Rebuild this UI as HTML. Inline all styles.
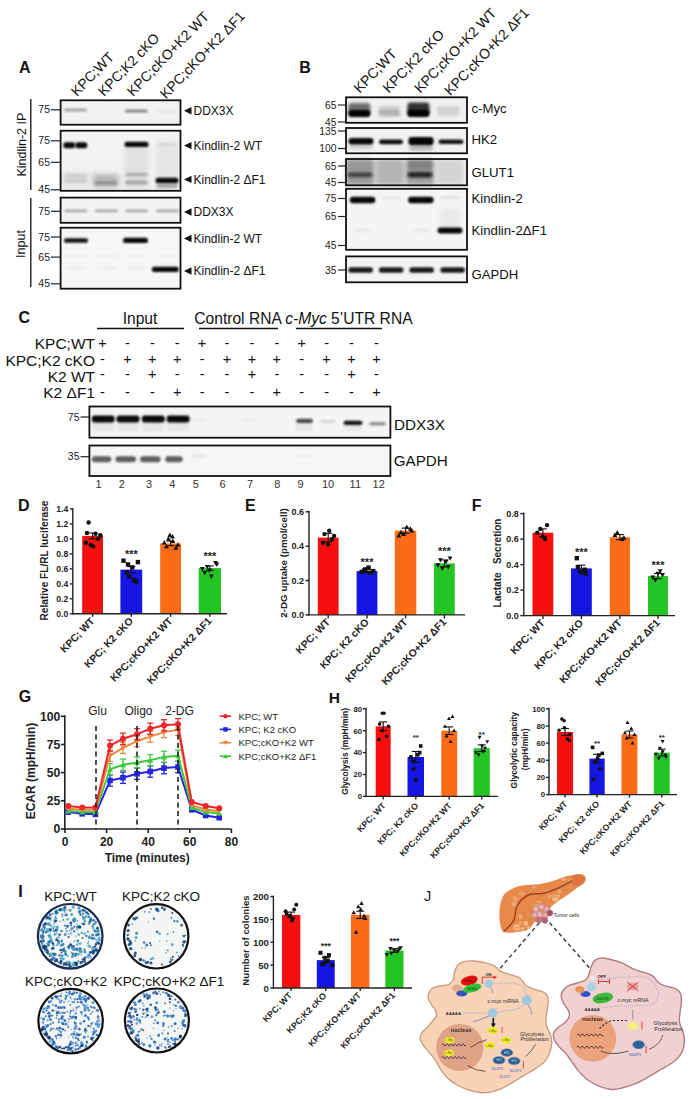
<!DOCTYPE html>
<html><head><meta charset="utf-8"><title>Figure</title>
<style>html,body{margin:0;padding:0;background:#fff;} body{width:692px;height:1099px;overflow:hidden;font-family:"Liberation Sans", sans-serif;} svg{display:block;}</style>
</head><body>
<svg width="692" height="1099" viewBox="0 0 692 1099" font-family='"Liberation Sans", sans-serif'>
<defs><filter id="b5" x="-50%" y="-100%" width="200%" height="300%"><feGaussianBlur stdDeviation="0.5"/></filter><filter id="b6" x="-50%" y="-100%" width="200%" height="300%"><feGaussianBlur stdDeviation="0.6"/></filter><filter id="b7" x="-50%" y="-100%" width="200%" height="300%"><feGaussianBlur stdDeviation="0.7"/></filter><filter id="b8" x="-50%" y="-100%" width="200%" height="300%"><feGaussianBlur stdDeviation="0.8"/></filter><filter id="b9" x="-50%" y="-100%" width="200%" height="300%"><feGaussianBlur stdDeviation="0.9"/></filter><filter id="b10" x="-50%" y="-100%" width="200%" height="300%"><feGaussianBlur stdDeviation="1.0"/></filter><filter id="b11" x="-50%" y="-100%" width="200%" height="300%"><feGaussianBlur stdDeviation="1.1"/></filter><filter id="b12" x="-50%" y="-100%" width="200%" height="300%"><feGaussianBlur stdDeviation="1.2"/></filter><filter id="b13" x="-50%" y="-100%" width="200%" height="300%"><feGaussianBlur stdDeviation="1.3"/></filter><filter id="b14" x="-50%" y="-100%" width="200%" height="300%"><feGaussianBlur stdDeviation="1.4"/></filter><filter id="b15" x="-50%" y="-100%" width="200%" height="300%"><feGaussianBlur stdDeviation="1.5"/></filter><filter id="b16" x="-50%" y="-100%" width="200%" height="300%"><feGaussianBlur stdDeviation="1.6"/></filter><filter id="b17" x="-50%" y="-100%" width="200%" height="300%"><feGaussianBlur stdDeviation="1.7"/></filter><filter id="b18" x="-50%" y="-100%" width="200%" height="300%"><feGaussianBlur stdDeviation="1.8"/></filter><filter id="b19" x="-50%" y="-100%" width="200%" height="300%"><feGaussianBlur stdDeviation="1.9"/></filter><filter id="b20" x="-50%" y="-100%" width="200%" height="300%"><feGaussianBlur stdDeviation="2.0"/></filter><filter id="b21" x="-50%" y="-100%" width="200%" height="300%"><feGaussianBlur stdDeviation="2.1"/></filter><filter id="b22" x="-50%" y="-100%" width="200%" height="300%"><feGaussianBlur stdDeviation="2.2"/></filter><filter id="b23" x="-50%" y="-100%" width="200%" height="300%"><feGaussianBlur stdDeviation="2.3"/></filter><filter id="b24" x="-50%" y="-100%" width="200%" height="300%"><feGaussianBlur stdDeviation="2.4"/></filter><filter id="b25" x="-50%" y="-100%" width="200%" height="300%"><feGaussianBlur stdDeviation="2.5"/></filter><filter id="b26" x="-50%" y="-100%" width="200%" height="300%"><feGaussianBlur stdDeviation="2.6"/></filter><filter id="b27" x="-50%" y="-100%" width="200%" height="300%"><feGaussianBlur stdDeviation="2.7"/></filter><filter id="b28" x="-50%" y="-100%" width="200%" height="300%"><feGaussianBlur stdDeviation="2.8"/></filter><filter id="b29" x="-50%" y="-100%" width="200%" height="300%"><feGaussianBlur stdDeviation="2.9"/></filter><filter id="b30" x="-50%" y="-100%" width="200%" height="300%"><feGaussianBlur stdDeviation="3.0"/></filter><filter id="b31" x="-50%" y="-100%" width="200%" height="300%"><feGaussianBlur stdDeviation="3.1"/></filter><filter id="b32" x="-50%" y="-100%" width="200%" height="300%"><feGaussianBlur stdDeviation="3.2"/></filter><filter id="b33" x="-50%" y="-100%" width="200%" height="300%"><feGaussianBlur stdDeviation="3.3"/></filter><filter id="b34" x="-50%" y="-100%" width="200%" height="300%"><feGaussianBlur stdDeviation="3.4"/></filter><filter id="b35" x="-50%" y="-100%" width="200%" height="300%"><feGaussianBlur stdDeviation="3.5"/></filter><filter id="b36" x="-50%" y="-100%" width="200%" height="300%"><feGaussianBlur stdDeviation="3.6"/></filter><filter id="b37" x="-50%" y="-100%" width="200%" height="300%"><feGaussianBlur stdDeviation="3.7"/></filter><filter id="b38" x="-50%" y="-100%" width="200%" height="300%"><feGaussianBlur stdDeviation="3.8"/></filter><filter id="b39" x="-50%" y="-100%" width="200%" height="300%"><feGaussianBlur stdDeviation="3.9"/></filter></defs>
<rect width="692" height="1099" fill="#fff"/>
<text x="19.0" y="72.9" font-size="16" font-weight="bold" text-anchor="start" fill="#111">A</text>
<text x="77.0" y="97.0" font-size="14" text-anchor="start" fill="#111" transform="rotate(-46 77 97)">KPC;WT</text>
<text x="104.0" y="97.0" font-size="14" text-anchor="start" fill="#111" transform="rotate(-46 104 97)">KPC;K2 cKO</text>
<text x="133.0" y="97.0" font-size="14" text-anchor="start" fill="#111" transform="rotate(-46 133 97)">KPC;cKO+K2 WT</text>
<text x="166.0" y="99.5" font-size="14" text-anchor="start" fill="#111" transform="rotate(-46 166 99.5)">KPC;cKO+K2 &#916;F1</text>
<rect x="60.6" y="100.3" width="119.9" height="24.4" fill="#f2f2f2" stroke="none" stroke-width="1"/>
<rect x="64.0" y="108.5" width="23.0" height="3.0" rx="1.5" fill="#000" fill-opacity="0.33" filter="url(#b9)"/>
<rect x="124.8" y="109.4" width="23.0" height="3.2" rx="1.5" fill="#000" fill-opacity="0.45" filter="url(#b9)"/>
<rect x="157.0" y="110.2" width="20.0" height="2.5" rx="3" fill="#000" fill-opacity="0.06" filter="url(#b9)"/>
<rect x="60.6" y="100.3" width="119.9" height="24.4" fill="none" stroke="#111" stroke-width="1.8"/>
<rect x="60.6" y="130.7" width="119.9" height="60.1" fill="#f3f3f3" stroke="none" stroke-width="1"/>
<rect x="124.5" y="146.0" width="24.0" height="44.0" rx="2" fill="#000" fill-opacity="0.08" filter="url(#b25)"/>
<rect x="156.0" y="140.0" width="22.0" height="40.0" rx="2" fill="#000" fill-opacity="0.06" filter="url(#b25)"/>
<rect x="93.5" y="174.5" width="25.0" height="13.0" rx="2" fill="#000" fill-opacity="0.2" filter="url(#b20)"/>
<rect x="61.0" y="172.0" width="60.0" height="16.0" rx="3" fill="#000" fill-opacity="0.06" filter="url(#b30)"/>
<rect x="63.3" y="142.3" width="12.0" height="6.0" rx="2.8" fill="#000" fill-opacity="0.97" filter="url(#b11)"/>
<rect x="75.3" y="142.3" width="12.0" height="6.0" rx="2.8" fill="#000" fill-opacity="0.97" filter="url(#b11)"/>
<rect x="124.5" y="141.7" width="24.0" height="5.3" rx="2.5" fill="#000" fill-opacity="0.97" filter="url(#b11)"/>
<rect x="157.0" y="143.0" width="20.0" height="3.0" rx="3" fill="#000" fill-opacity="0.06" filter="url(#b10)"/>
<rect x="64.0" y="174.1" width="23.0" height="3.5" rx="3" fill="#000" fill-opacity="0.14" filter="url(#b14)"/>
<rect x="64.0" y="179.2" width="23.0" height="3.5" rx="3" fill="#000" fill-opacity="0.14" filter="url(#b14)"/>
<rect x="94.5" y="181.0" width="23.0" height="4.0" rx="3" fill="#000" fill-opacity="0.2" filter="url(#b12)"/>
<rect x="125.0" y="172.8" width="23.0" height="3.5" rx="3" fill="#000" fill-opacity="0.22" filter="url(#b12)"/>
<rect x="125.0" y="180.5" width="23.0" height="4.0" rx="3" fill="#000" fill-opacity="0.25" filter="url(#b12)"/>
<rect x="155.5" y="177.7" width="23.0" height="5.6" rx="2.5" fill="#000" fill-opacity="0.97" filter="url(#b12)"/>
<rect x="156.0" y="184.0" width="22.0" height="4.0" rx="3" fill="#000" fill-opacity="0.35" filter="url(#b15)"/>
<rect x="60.6" y="130.7" width="119.9" height="60.1" fill="none" stroke="#111" stroke-width="1.8"/>
<rect x="60.6" y="197.6" width="119.9" height="25.2" fill="#f3f3f3" stroke="none" stroke-width="1"/>
<rect x="64.2" y="209.4" width="23.0" height="2.8" rx="1.4" fill="#000" fill-opacity="0.3" filter="url(#b8)"/>
<rect x="95.0" y="209.4" width="23.0" height="2.8" rx="1.4" fill="#000" fill-opacity="0.3" filter="url(#b8)"/>
<rect x="125.0" y="209.4" width="23.0" height="2.8" rx="1.4" fill="#000" fill-opacity="0.3" filter="url(#b8)"/>
<rect x="156.0" y="209.4" width="23.0" height="2.8" rx="1.4" fill="#000" fill-opacity="0.3" filter="url(#b8)"/>
<rect x="60.6" y="197.6" width="119.9" height="25.2" fill="none" stroke="#111" stroke-width="1.8"/>
<rect x="60.6" y="227.7" width="119.9" height="61.0" fill="#f6f6f6" stroke="none" stroke-width="1"/>
<rect x="64.0" y="238.2" width="24.0" height="4.6" rx="2" fill="#000" fill-opacity="0.93" filter="url(#b11)"/>
<rect x="123.0" y="237.7" width="25.0" height="5.3" rx="2.5" fill="#000" fill-opacity="0.97" filter="url(#b11)"/>
<rect x="64.7" y="255.0" width="22.0" height="2.0" rx="3" fill="#000" fill-opacity="0.06" filter="url(#b10)"/>
<rect x="95.5" y="255.0" width="22.0" height="2.0" rx="3" fill="#000" fill-opacity="0.06" filter="url(#b10)"/>
<rect x="125.5" y="255.0" width="22.0" height="2.0" rx="3" fill="#000" fill-opacity="0.06" filter="url(#b10)"/>
<rect x="156.5" y="255.0" width="22.0" height="2.0" rx="3" fill="#000" fill-opacity="0.06" filter="url(#b10)"/>
<rect x="64.7" y="267.0" width="22.0" height="2.0" rx="3" fill="#000" fill-opacity="0.05" filter="url(#b10)"/>
<rect x="95.5" y="267.0" width="22.0" height="2.0" rx="3" fill="#000" fill-opacity="0.05" filter="url(#b10)"/>
<rect x="125.5" y="267.0" width="22.0" height="2.0" rx="3" fill="#000" fill-opacity="0.05" filter="url(#b10)"/>
<rect x="151.8" y="266.8" width="27.0" height="5.3" rx="2.5" fill="#000" fill-opacity="0.97" filter="url(#b11)"/>
<rect x="60.6" y="227.7" width="119.9" height="61.0" fill="none" stroke="#111" stroke-width="1.8"/>
<text x="50.0" y="113.4" font-size="10.5" text-anchor="end" fill="#222">75</text>
<line x1="50.8" y1="109.8" x2="60.0" y2="109.8" stroke="#222" stroke-width="1.2"/>
<text x="50.0" y="144.4" font-size="10.5" text-anchor="end" fill="#222">75</text>
<line x1="50.8" y1="140.8" x2="60.0" y2="140.8" stroke="#222" stroke-width="1.2"/>
<text x="50.0" y="165.9" font-size="10.5" text-anchor="end" fill="#222">65</text>
<line x1="50.8" y1="162.3" x2="60.0" y2="162.3" stroke="#222" stroke-width="1.2"/>
<text x="50.0" y="193.4" font-size="10.5" text-anchor="end" fill="#222">45</text>
<line x1="50.8" y1="189.8" x2="60.0" y2="189.8" stroke="#222" stroke-width="1.2"/>
<text x="50.0" y="214.9" font-size="10.5" text-anchor="end" fill="#222">75</text>
<line x1="50.8" y1="211.3" x2="60.0" y2="211.3" stroke="#222" stroke-width="1.2"/>
<text x="50.0" y="240.6" font-size="10.5" text-anchor="end" fill="#222">75</text>
<line x1="50.8" y1="237.0" x2="60.0" y2="237.0" stroke="#222" stroke-width="1.2"/>
<text x="50.0" y="260.7" font-size="10.5" text-anchor="end" fill="#222">65</text>
<line x1="50.8" y1="257.1" x2="60.0" y2="257.1" stroke="#222" stroke-width="1.2"/>
<text x="50.0" y="287.4" font-size="10.5" text-anchor="end" fill="#222">45</text>
<line x1="50.8" y1="283.8" x2="60.0" y2="283.8" stroke="#222" stroke-width="1.2"/>
<line x1="30.8" y1="99.0" x2="30.8" y2="190.0" stroke="#111" stroke-width="1.3"/>
<line x1="30.8" y1="198.0" x2="30.8" y2="287.0" stroke="#111" stroke-width="1.3"/>
<text x="26.5" y="144.6" font-size="12.5" text-anchor="middle" fill="#111" transform="rotate(-90 26.5 144.6)">Kindlin-2 IP</text>
<text x="24.8" y="244.0" font-size="12.5" text-anchor="middle" fill="#111" transform="rotate(-90 24.8 244)">Input</text>
<polygon points="184.0,110.8 191.5,107.1 191.5,114.5" fill="#111"/>
<text x="193.5" y="115.0" font-size="12" text-anchor="start" fill="#111">DDX3X</text>
<polygon points="184.0,145.6 191.5,141.9 191.5,149.3" fill="#111"/>
<text x="193.5" y="149.8" font-size="12" text-anchor="start" fill="#111">Kindlin-2 WT</text>
<polygon points="184.0,179.4 191.5,175.7 191.5,183.1" fill="#111"/>
<text x="193.5" y="183.6" font-size="12" text-anchor="start" fill="#111">Kindlin-2 &#916;F1</text>
<polygon points="184.0,212.0 191.5,208.3 191.5,215.7" fill="#111"/>
<text x="193.5" y="216.2" font-size="12" text-anchor="start" fill="#111">DDX3X</text>
<polygon points="184.0,238.5 191.5,234.8 191.5,242.2" fill="#111"/>
<text x="193.5" y="242.7" font-size="12" text-anchor="start" fill="#111">Kindlin-2 WT</text>
<polygon points="184.0,271.0 191.5,267.3 191.5,274.7" fill="#111"/>
<text x="193.5" y="275.2" font-size="12" text-anchor="start" fill="#111">Kindlin-2 &#916;F1</text>
<text x="299.2" y="72.6" font-size="16" font-weight="bold" text-anchor="start" fill="#111">B</text>
<text x="359.8" y="93.7" font-size="14" text-anchor="start" fill="#111" transform="rotate(-46 359.8 93.7)">KPC;WT</text>
<text x="388.8" y="93.7" font-size="14" text-anchor="start" fill="#111" transform="rotate(-46 388.8 93.7)">KPC;K2 cKO</text>
<text x="420.3" y="93.7" font-size="14" text-anchor="start" fill="#111" transform="rotate(-46 420.3 93.7)">KPC;cKO+K2 WT</text>
<text x="450.3" y="96.2" font-size="14" text-anchor="start" fill="#111" transform="rotate(-46 450.3 96.2)">KPC;cKO+K2 &#916;F1</text>
<rect x="346.0" y="97.3" width="121.0" height="25.5" fill="#f0f0f0" stroke="none" stroke-width="1"/>
<rect x="348.3" y="103.0" width="22.0" height="12.0" rx="3" fill="#000" fill-opacity="0.55" filter="url(#b18)"/>
<rect x="348.3" y="110.1" width="22.0" height="7.0" rx="3" fill="#000" fill-opacity="0.97" filter="url(#b13)"/>
<rect x="378.3" y="106.0" width="22.0" height="6.0" rx="3" fill="#000" fill-opacity="0.14" filter="url(#b16)"/>
<rect x="378.3" y="110.5" width="22.0" height="6.0" rx="3" fill="#000" fill-opacity="0.25" filter="url(#b15)"/>
<rect x="407.4" y="102.5" width="22.0" height="12.0" rx="3" fill="#000" fill-opacity="0.8" filter="url(#b18)"/>
<rect x="407.4" y="110.1" width="22.0" height="7.0" rx="3" fill="#000" fill-opacity="0.97" filter="url(#b13)"/>
<rect x="437.4" y="106.0" width="22.0" height="10.0" rx="3" fill="#000" fill-opacity="0.13" filter="url(#b18)"/>
<rect x="346.0" y="97.3" width="121.0" height="25.5" fill="none" stroke="#111" stroke-width="1.8"/>
<rect x="346.0" y="128.0" width="121.0" height="25.3" fill="#f2f2f2" stroke="none" stroke-width="1"/>
<rect x="348.5" y="138.0" width="25.0" height="6.4" rx="3" fill="#000" fill-opacity="0.97" filter="url(#b11)"/>
<rect x="379.0" y="139.5" width="24.0" height="4.7" rx="3" fill="#000" fill-opacity="0.95" filter="url(#b11)"/>
<rect x="408.5" y="137.1" width="25.0" height="8.2" rx="3" fill="#000" fill-opacity="0.98" filter="url(#b11)"/>
<rect x="438.5" y="139.6" width="25.0" height="4.5" rx="3" fill="#000" fill-opacity="0.92" filter="url(#b11)"/>
<rect x="409.0" y="145.5" width="24.0" height="5.0" rx="3" fill="#000" fill-opacity="0.25" filter="url(#b15)"/>
<rect x="349.0" y="145.0" width="24.0" height="4.0" rx="3" fill="#000" fill-opacity="0.15" filter="url(#b15)"/>
<rect x="346.0" y="128.0" width="121.0" height="25.3" fill="none" stroke="#111" stroke-width="1.8"/>
<rect x="346.0" y="159.0" width="121.0" height="26.3" fill="#ececec" stroke="none" stroke-width="1"/>
<rect x="346.0" y="159.0" width="28.0" height="26.0" rx="3" fill="#000" fill-opacity="0.36" filter="url(#b20)"/>
<rect x="347.5" y="172.4" width="25.0" height="4.5" rx="3" fill="#000" fill-opacity="0.6" filter="url(#b14)"/>
<rect x="376.0" y="159.0" width="28.0" height="26.0" rx="3" fill="#000" fill-opacity="0.24" filter="url(#b20)"/>
<rect x="406.0" y="159.0" width="28.0" height="26.0" rx="3" fill="#000" fill-opacity="0.33" filter="url(#b20)"/>
<rect x="407.5" y="160.5" width="25.0" height="9.0" rx="3" fill="#000" fill-opacity="0.2" filter="url(#b20)"/>
<rect x="407.5" y="171.9" width="25.0" height="5.5" rx="3" fill="#000" fill-opacity="0.8" filter="url(#b14)"/>
<rect x="437.0" y="159.0" width="26.0" height="26.0" rx="3" fill="#000" fill-opacity="0.1" filter="url(#b20)"/>
<rect x="346.0" y="159.0" width="121.0" height="26.3" fill="none" stroke="#111" stroke-width="1.8"/>
<rect x="346.0" y="188.8" width="121.0" height="61.0" fill="#f5f5f5" stroke="none" stroke-width="1"/>
<rect x="349.8" y="196.8" width="25.5" height="6.4" rx="3" fill="#000" fill-opacity="0.97" filter="url(#b11)"/>
<rect x="408.1" y="196.8" width="25.5" height="6.4" rx="3" fill="#000" fill-opacity="0.97" filter="url(#b11)"/>
<rect x="381.0" y="197.2" width="20.0" height="2.0" rx="3" fill="#000" fill-opacity="0.09" filter="url(#b12)"/>
<rect x="440.0" y="196.8" width="20.0" height="2.0" rx="3" fill="#000" fill-opacity="0.13" filter="url(#b12)"/>
<rect x="353.0" y="229.4" width="18.0" height="2.2" rx="3" fill="#000" fill-opacity="0.09" filter="url(#b12)"/>
<rect x="412.0" y="229.4" width="18.0" height="2.2" rx="3" fill="#000" fill-opacity="0.09" filter="url(#b12)"/>
<rect x="440.0" y="209.0" width="20.0" height="18.0" rx="3" fill="#000" fill-opacity="0.05" filter="url(#b20)"/>
<rect x="437.5" y="227.4" width="25.0" height="6.2" rx="3" fill="#000" fill-opacity="0.97" filter="url(#b11)"/>
<rect x="346.0" y="188.8" width="121.0" height="61.0" fill="none" stroke="#111" stroke-width="1.8"/>
<rect x="346.0" y="256.4" width="121.0" height="25.9" fill="#f4f4f4" stroke="none" stroke-width="1"/>
<rect x="348.4" y="267.3" width="24.5" height="5.4" rx="2.5" fill="#000" fill-opacity="0.9" filter="url(#b12)"/>
<rect x="378.9" y="267.3" width="24.5" height="5.4" rx="2.5" fill="#000" fill-opacity="0.9" filter="url(#b12)"/>
<rect x="409.4" y="267.3" width="24.5" height="5.4" rx="2.5" fill="#000" fill-opacity="0.9" filter="url(#b12)"/>
<rect x="440.4" y="267.3" width="24.5" height="5.4" rx="2.5" fill="#000" fill-opacity="0.9" filter="url(#b12)"/>
<rect x="346.0" y="256.4" width="121.0" height="25.9" fill="none" stroke="#111" stroke-width="1.8"/>
<text x="336.5" y="108.6" font-size="10.3" text-anchor="end" fill="#222">65</text>
<line x1="338.0" y1="105.0" x2="346.0" y2="105.0" stroke="#222" stroke-width="1.2"/>
<text x="336.5" y="125.6" font-size="10.3" text-anchor="end" fill="#222">45</text>
<line x1="338.0" y1="122.0" x2="346.0" y2="122.0" stroke="#222" stroke-width="1.2"/>
<text x="336.5" y="134.6" font-size="10.3" text-anchor="end" fill="#222">135</text>
<line x1="338.0" y1="131.0" x2="346.0" y2="131.0" stroke="#222" stroke-width="1.2"/>
<text x="336.5" y="152.1" font-size="10.3" text-anchor="end" fill="#222">100</text>
<line x1="338.0" y1="148.5" x2="346.0" y2="148.5" stroke="#222" stroke-width="1.2"/>
<text x="336.5" y="169.6" font-size="10.3" text-anchor="end" fill="#222">65</text>
<line x1="338.0" y1="166.0" x2="346.0" y2="166.0" stroke="#222" stroke-width="1.2"/>
<text x="336.5" y="186.1" font-size="10.3" text-anchor="end" fill="#222">45</text>
<line x1="338.0" y1="182.5" x2="346.0" y2="182.5" stroke="#222" stroke-width="1.2"/>
<text x="336.5" y="202.1" font-size="10.3" text-anchor="end" fill="#222">75</text>
<line x1="338.0" y1="198.5" x2="346.0" y2="198.5" stroke="#222" stroke-width="1.2"/>
<text x="336.5" y="220.1" font-size="10.3" text-anchor="end" fill="#222">65</text>
<line x1="338.0" y1="216.5" x2="346.0" y2="216.5" stroke="#222" stroke-width="1.2"/>
<text x="336.5" y="249.1" font-size="10.3" text-anchor="end" fill="#222">45</text>
<line x1="338.0" y1="245.5" x2="346.0" y2="245.5" stroke="#222" stroke-width="1.2"/>
<text x="336.5" y="273.6" font-size="10.3" text-anchor="end" fill="#222">35</text>
<line x1="338.0" y1="270.0" x2="346.0" y2="270.0" stroke="#222" stroke-width="1.2"/>
<text x="471.5" y="112.7" font-size="13.2" text-anchor="start" fill="#111">c-Myc</text>
<text x="471.5" y="144.3" font-size="13.2" text-anchor="start" fill="#111">HK2</text>
<text x="471.5" y="176.9" font-size="13.2" text-anchor="start" fill="#111">GLUT1</text>
<text x="471.5" y="202.6" font-size="13.2" text-anchor="start" fill="#111">Kindlin-2</text>
<text x="471.5" y="235.0" font-size="13.2" text-anchor="start" fill="#111">Kindlin-2&#916;F1</text>
<text x="471.5" y="278.5" font-size="13.2" text-anchor="start" fill="#111">GAPDH</text>
<text x="18.5" y="323.3" font-size="16" font-weight="bold" text-anchor="start" fill="#111">C</text>
<text x="140.0" y="324.0" font-size="15.6" text-anchor="middle" fill="#111">Input</text>
<text x="194.3" y="324.0" font-size="15.6" text-anchor="start" fill="#111">Control RNA</text>
<text x="285.2" y="324" font-size="15.6" fill="#111"><tspan font-style="italic">c-Myc</tspan> 5&#8217;UTR RNA</text>
<line x1="97.0" y1="328.5" x2="184.0" y2="328.5" stroke="#111" stroke-width="1.3"/>
<line x1="199.0" y1="328.5" x2="278.0" y2="328.5" stroke="#111" stroke-width="1.3"/>
<line x1="296.0" y1="328.5" x2="382.0" y2="328.5" stroke="#111" stroke-width="1.3"/>
<text x="95.0" y="348.6" font-size="15.5" text-anchor="end" fill="#111">KPC;WT</text>
<text x="102.5" y="348.0" font-size="14.5" text-anchor="middle" fill="#111">+</text>
<text x="127.4" y="348.0" font-size="14.5" text-anchor="middle" fill="#111">-</text>
<text x="152.3" y="348.0" font-size="14.5" text-anchor="middle" fill="#111">-</text>
<text x="177.2" y="348.0" font-size="14.5" text-anchor="middle" fill="#111">-</text>
<text x="202.1" y="348.0" font-size="14.5" text-anchor="middle" fill="#111">+</text>
<text x="227.0" y="348.0" font-size="14.5" text-anchor="middle" fill="#111">-</text>
<text x="251.9" y="348.0" font-size="14.5" text-anchor="middle" fill="#111">-</text>
<text x="276.8" y="348.0" font-size="14.5" text-anchor="middle" fill="#111">-</text>
<text x="301.7" y="348.0" font-size="14.5" text-anchor="middle" fill="#111">+</text>
<text x="326.6" y="348.0" font-size="14.5" text-anchor="middle" fill="#111">-</text>
<text x="351.5" y="348.0" font-size="14.5" text-anchor="middle" fill="#111">-</text>
<text x="376.4" y="348.0" font-size="14.5" text-anchor="middle" fill="#111">-</text>
<text x="95.0" y="365.6" font-size="15.5" text-anchor="end" fill="#111">KPC;K2 cKO</text>
<text x="102.5" y="363.8" font-size="14.5" text-anchor="middle" fill="#111">-</text>
<text x="127.4" y="363.8" font-size="14.5" text-anchor="middle" fill="#111">+</text>
<text x="152.3" y="363.8" font-size="14.5" text-anchor="middle" fill="#111">+</text>
<text x="177.2" y="363.8" font-size="14.5" text-anchor="middle" fill="#111">+</text>
<text x="202.1" y="363.8" font-size="14.5" text-anchor="middle" fill="#111">-</text>
<text x="227.0" y="363.8" font-size="14.5" text-anchor="middle" fill="#111">+</text>
<text x="251.9" y="363.8" font-size="14.5" text-anchor="middle" fill="#111">+</text>
<text x="276.8" y="363.8" font-size="14.5" text-anchor="middle" fill="#111">+</text>
<text x="301.7" y="363.8" font-size="14.5" text-anchor="middle" fill="#111">-</text>
<text x="326.6" y="363.8" font-size="14.5" text-anchor="middle" fill="#111">+</text>
<text x="351.5" y="363.8" font-size="14.5" text-anchor="middle" fill="#111">+</text>
<text x="376.4" y="363.8" font-size="14.5" text-anchor="middle" fill="#111">+</text>
<text x="95.0" y="382.3" font-size="15.5" text-anchor="end" fill="#111">K2 WT</text>
<text x="102.5" y="378.8" font-size="14.5" text-anchor="middle" fill="#111">-</text>
<text x="127.4" y="378.8" font-size="14.5" text-anchor="middle" fill="#111">-</text>
<text x="152.3" y="378.8" font-size="14.5" text-anchor="middle" fill="#111">+</text>
<text x="177.2" y="378.8" font-size="14.5" text-anchor="middle" fill="#111">-</text>
<text x="202.1" y="378.8" font-size="14.5" text-anchor="middle" fill="#111">-</text>
<text x="227.0" y="378.8" font-size="14.5" text-anchor="middle" fill="#111">-</text>
<text x="251.9" y="378.8" font-size="14.5" text-anchor="middle" fill="#111">+</text>
<text x="276.8" y="378.8" font-size="14.5" text-anchor="middle" fill="#111">-</text>
<text x="301.7" y="378.8" font-size="14.5" text-anchor="middle" fill="#111">-</text>
<text x="326.6" y="378.8" font-size="14.5" text-anchor="middle" fill="#111">-</text>
<text x="351.5" y="378.8" font-size="14.5" text-anchor="middle" fill="#111">+</text>
<text x="376.4" y="378.8" font-size="14.5" text-anchor="middle" fill="#111">-</text>
<text x="95.0" y="398.3" font-size="15.5" text-anchor="end" fill="#111">K2 &#916;F1</text>
<text x="102.5" y="397.0" font-size="14.5" text-anchor="middle" fill="#111">-</text>
<text x="127.4" y="397.0" font-size="14.5" text-anchor="middle" fill="#111">-</text>
<text x="152.3" y="397.0" font-size="14.5" text-anchor="middle" fill="#111">-</text>
<text x="177.2" y="397.0" font-size="14.5" text-anchor="middle" fill="#111">+</text>
<text x="202.1" y="397.0" font-size="14.5" text-anchor="middle" fill="#111">-</text>
<text x="227.0" y="397.0" font-size="14.5" text-anchor="middle" fill="#111">-</text>
<text x="251.9" y="397.0" font-size="14.5" text-anchor="middle" fill="#111">-</text>
<text x="276.8" y="397.0" font-size="14.5" text-anchor="middle" fill="#111">+</text>
<text x="301.7" y="397.0" font-size="14.5" text-anchor="middle" fill="#111">-</text>
<text x="326.6" y="397.0" font-size="14.5" text-anchor="middle" fill="#111">-</text>
<text x="351.5" y="397.0" font-size="14.5" text-anchor="middle" fill="#111">-</text>
<text x="376.4" y="397.0" font-size="14.5" text-anchor="middle" fill="#111">+</text>
<rect x="89.4" y="406.5" width="301.0" height="31.2" fill="#f5f5f5" stroke="none" stroke-width="1"/>
<rect x="92.2" y="420.0" width="22.0" height="12.0" rx="3" fill="#000" fill-opacity="0.06" filter="url(#b15)"/>
<rect x="91.7" y="415.5" width="23.0" height="7.0" rx="3" fill="#000" fill-opacity="0.97" filter="url(#b12)"/>
<rect x="117.0" y="420.0" width="22.0" height="12.0" rx="3" fill="#000" fill-opacity="0.06" filter="url(#b15)"/>
<rect x="116.5" y="415.5" width="23.0" height="7.0" rx="3" fill="#000" fill-opacity="0.97" filter="url(#b12)"/>
<rect x="142.3" y="420.0" width="22.0" height="12.0" rx="3" fill="#000" fill-opacity="0.06" filter="url(#b15)"/>
<rect x="141.8" y="415.5" width="23.0" height="7.0" rx="3" fill="#000" fill-opacity="0.97" filter="url(#b12)"/>
<rect x="167.1" y="420.0" width="22.0" height="12.0" rx="3" fill="#000" fill-opacity="0.06" filter="url(#b15)"/>
<rect x="166.6" y="415.5" width="23.0" height="7.0" rx="3" fill="#000" fill-opacity="0.97" filter="url(#b12)"/>
<rect x="190.0" y="418.5" width="16.0" height="3.0" rx="3" fill="#000" fill-opacity="0.04" filter="url(#b12)"/>
<rect x="242.0" y="418.5" width="16.0" height="3.0" rx="3" fill="#000" fill-opacity="0.04" filter="url(#b12)"/>
<rect x="295.0" y="421.0" width="18.0" height="10.0" rx="3" fill="#000" fill-opacity="0.05" filter="url(#b15)"/>
<rect x="344.0" y="421.0" width="18.0" height="10.0" rx="3" fill="#000" fill-opacity="0.06" filter="url(#b15)"/>
<rect x="296.0" y="418.7" width="17.0" height="4.2" rx="3" fill="#000" fill-opacity="0.7" filter="url(#b10)"/>
<rect x="320.0" y="420.0" width="16.0" height="3.0" rx="3" fill="#000" fill-opacity="0.14" filter="url(#b10)"/>
<rect x="343.5" y="420.7" width="19.0" height="4.2" rx="3" fill="#000" fill-opacity="0.93" filter="url(#b10)"/>
<rect x="369.0" y="422.1" width="17.0" height="3.5" rx="3" fill="#000" fill-opacity="0.4" filter="url(#b10)"/>
<rect x="89.4" y="406.5" width="301.0" height="31.2" fill="none" stroke="#111" stroke-width="1.8"/>
<rect x="89.4" y="445.5" width="301.0" height="30.5" fill="#f6f6f6" stroke="none" stroke-width="1"/>
<rect x="91.8" y="456.3" width="19.5" height="6.0" rx="3" fill="#000" fill-opacity="0.62" filter="url(#b12)"/>
<rect x="115.5" y="456.3" width="20.5" height="6.0" rx="3" fill="#000" fill-opacity="0.62" filter="url(#b12)"/>
<rect x="140.1" y="456.3" width="20.5" height="6.0" rx="3" fill="#000" fill-opacity="0.62" filter="url(#b12)"/>
<rect x="165.2" y="456.3" width="17.5" height="6.0" rx="3" fill="#000" fill-opacity="0.62" filter="url(#b12)"/>
<rect x="190.5" y="454.8" width="16.0" height="2.5" rx="3" fill="#000" fill-opacity="0.1" filter="url(#b10)"/>
<rect x="297.0" y="454.5" width="14.0" height="3.0" rx="3" fill="#000" fill-opacity="0.04" filter="url(#b10)"/>
<rect x="89.4" y="445.5" width="301.0" height="30.5" fill="none" stroke="#111" stroke-width="1.8"/>
<text x="79.5" y="420.6" font-size="10.5" text-anchor="end" fill="#222">75</text>
<line x1="80.5" y1="417.0" x2="89.4" y2="417.0" stroke="#222" stroke-width="1.2"/>
<text x="79.5" y="460.3" font-size="10.5" text-anchor="end" fill="#222">35</text>
<line x1="80.5" y1="456.7" x2="89.4" y2="456.7" stroke="#222" stroke-width="1.2"/>
<text x="394.0" y="429.9" font-size="15.3" text-anchor="start" fill="#111">DDX3X</text>
<text x="393.8" y="465.7" font-size="15.2" text-anchor="start" fill="#111">GAPDH</text>
<text x="98.5" y="487.5" font-size="11" text-anchor="middle" fill="#333">1</text>
<text x="121.9" y="487.5" font-size="11" text-anchor="middle" fill="#333">2</text>
<text x="149.0" y="487.5" font-size="11" text-anchor="middle" fill="#333">3</text>
<text x="172.4" y="487.5" font-size="11" text-anchor="middle" fill="#333">4</text>
<text x="195.8" y="487.5" font-size="11" text-anchor="middle" fill="#333">5</text>
<text x="222.6" y="487.5" font-size="11" text-anchor="middle" fill="#333">6</text>
<text x="250.0" y="487.5" font-size="11" text-anchor="middle" fill="#333">7</text>
<text x="277.2" y="487.5" font-size="11" text-anchor="middle" fill="#333">8</text>
<text x="300.6" y="487.5" font-size="11" text-anchor="middle" fill="#333">9</text>
<text x="328.0" y="487.5" font-size="11" text-anchor="middle" fill="#333">10</text>
<text x="355.3" y="487.5" font-size="11" text-anchor="middle" fill="#333">11</text>
<text x="378.7" y="487.5" font-size="11" text-anchor="middle" fill="#333">12</text>
<text x="18.0" y="511.4" font-size="16" font-weight="bold" text-anchor="start" fill="#111">D</text>
<rect x="82.2" y="535.9" width="20.8" height="77.9" fill="#f50f0f" stroke="none" stroke-width="1"/>
<rect x="120.4" y="569.6" width="21.8" height="44.2" fill="#1616e4" stroke="none" stroke-width="1"/>
<rect x="160.2" y="543.4" width="20.8" height="70.4" fill="#fb6b18" stroke="none" stroke-width="1"/>
<rect x="198.7" y="568.1" width="22.3" height="45.7" fill="#25c425" stroke="none" stroke-width="1"/>
<circle cx="88.6" cy="522.5" r="2.2" fill="#111"/>
<circle cx="86.9" cy="533.0" r="2.2" fill="#111"/>
<circle cx="95.6" cy="533.7" r="2.2" fill="#111"/>
<circle cx="100.3" cy="535.2" r="2.2" fill="#111"/>
<circle cx="98.1" cy="538.9" r="2.2" fill="#111"/>
<circle cx="85.9" cy="542.7" r="2.2" fill="#111"/>
<circle cx="90.7" cy="544.9" r="2.2" fill="#111"/>
<circle cx="93.2" cy="546.4" r="2.2" fill="#111"/>
<line x1="92.6" y1="533.0" x2="92.6" y2="538.9" stroke="#111" stroke-width="1.1"/>
<line x1="88.6" y1="533.0" x2="96.6" y2="533.0" stroke="#111" stroke-width="1.1"/>
<line x1="88.6" y1="538.9" x2="96.6" y2="538.9" stroke="#111" stroke-width="1.1"/>
<rect x="121.3" y="558.5" width="4.4" height="4.4" fill="#111"/>
<rect x="135.7" y="559.9" width="4.4" height="4.4" fill="#111"/>
<rect x="125.8" y="562.2" width="4.4" height="4.4" fill="#111"/>
<rect x="130.1" y="565.2" width="4.4" height="4.4" fill="#111"/>
<rect x="124.6" y="570.4" width="4.4" height="4.4" fill="#111"/>
<rect x="127.1" y="574.2" width="4.4" height="4.4" fill="#111"/>
<rect x="132.1" y="577.9" width="4.4" height="4.4" fill="#111"/>
<rect x="133.9" y="579.4" width="4.4" height="4.4" fill="#111"/>
<line x1="131.3" y1="566.6" x2="131.3" y2="572.6" stroke="#111" stroke-width="1.1"/>
<line x1="127.3" y1="566.6" x2="135.3" y2="566.6" stroke="#111" stroke-width="1.1"/>
<line x1="127.3" y1="572.6" x2="135.3" y2="572.6" stroke="#111" stroke-width="1.1"/>
<text x="131.3" y="558.4" font-size="11" font-weight="bold" text-anchor="middle" fill="#222">***</text>
<polygon points="169.8,532.6 167.4,537.0 172.3,537.0" fill="#111"/>
<polygon points="172.5,534.1 170.1,538.5 175.0,538.5" fill="#111"/>
<polygon points="168.4,536.3 166.0,540.7 170.9,540.7" fill="#111"/>
<polygon points="172.7,538.5 170.3,542.9 175.1,542.9" fill="#111"/>
<polygon points="164.3,540.0 161.8,544.4 166.7,544.4" fill="#111"/>
<polygon points="177.9,542.3 175.4,546.7 180.3,546.7" fill="#111"/>
<polygon points="166.4,543.8 164.0,548.2 168.9,548.2" fill="#111"/>
<polygon points="176.0,545.3 173.6,549.7 178.4,549.7" fill="#111"/>
<line x1="170.6" y1="541.2" x2="170.6" y2="545.7" stroke="#111" stroke-width="1.1"/>
<line x1="166.6" y1="541.2" x2="174.6" y2="541.2" stroke="#111" stroke-width="1.1"/>
<line x1="166.6" y1="545.7" x2="174.6" y2="545.7" stroke="#111" stroke-width="1.1"/>
<polygon points="215.5,565.5 213.1,561.1 217.9,561.1" fill="#111"/>
<polygon points="216.8,567.0 214.4,562.6 219.2,562.6" fill="#111"/>
<polygon points="207.2,569.3 204.8,564.9 209.6,564.9" fill="#111"/>
<polygon points="202.4,571.5 200.0,567.1 204.8,567.1" fill="#111"/>
<polygon points="209.4,573.0 207.0,568.6 211.8,568.6" fill="#111"/>
<polygon points="204.7,575.3 202.3,570.9 207.2,570.9" fill="#111"/>
<polygon points="211.4,579.0 209.0,574.6 213.8,574.6" fill="#111"/>
<line x1="209.8" y1="565.9" x2="209.8" y2="570.4" stroke="#111" stroke-width="1.1"/>
<line x1="205.8" y1="565.9" x2="213.8" y2="565.9" stroke="#111" stroke-width="1.1"/>
<line x1="205.8" y1="570.4" x2="213.8" y2="570.4" stroke="#111" stroke-width="1.1"/>
<text x="209.8" y="559.9" font-size="11" font-weight="bold" text-anchor="middle" fill="#222">***</text>
<line x1="72.8" y1="508.0" x2="72.8" y2="614.5" stroke="#222" stroke-width="1.4"/>
<line x1="72.1" y1="613.8" x2="227.0" y2="613.8" stroke="#222" stroke-width="1.4"/>
<line x1="69.8" y1="613.8" x2="72.8" y2="613.8" stroke="#222" stroke-width="1.4"/>
<text x="68.3" y="616.9" font-size="8.6" font-weight="bold" text-anchor="end" fill="#222">0.0</text>
<line x1="69.8" y1="598.8" x2="72.8" y2="598.8" stroke="#222" stroke-width="1.4"/>
<text x="68.3" y="601.9" font-size="8.6" font-weight="bold" text-anchor="end" fill="#222">0.2</text>
<line x1="69.8" y1="583.9" x2="72.8" y2="583.9" stroke="#222" stroke-width="1.4"/>
<text x="68.3" y="587.0" font-size="8.6" font-weight="bold" text-anchor="end" fill="#222">0.4</text>
<line x1="69.8" y1="568.9" x2="72.8" y2="568.9" stroke="#222" stroke-width="1.4"/>
<text x="68.3" y="572.0" font-size="8.6" font-weight="bold" text-anchor="end" fill="#222">0.6</text>
<line x1="69.8" y1="553.9" x2="72.8" y2="553.9" stroke="#222" stroke-width="1.4"/>
<text x="68.3" y="557.0" font-size="8.6" font-weight="bold" text-anchor="end" fill="#222">0.8</text>
<line x1="69.8" y1="538.9" x2="72.8" y2="538.9" stroke="#222" stroke-width="1.4"/>
<text x="68.3" y="542.0" font-size="8.6" font-weight="bold" text-anchor="end" fill="#222">1.0</text>
<line x1="69.8" y1="524.0" x2="72.8" y2="524.0" stroke="#222" stroke-width="1.4"/>
<text x="68.3" y="527.1" font-size="8.6" font-weight="bold" text-anchor="end" fill="#222">1.2</text>
<line x1="69.8" y1="509.0" x2="72.8" y2="509.0" stroke="#222" stroke-width="1.4"/>
<text x="68.3" y="512.1" font-size="8.6" font-weight="bold" text-anchor="end" fill="#222">1.4</text>
<line x1="92.6" y1="613.8" x2="92.6" y2="616.8" stroke="#222" stroke-width="1.4"/>
<text x="95.1" y="621.6" font-size="10.3" font-weight="bold" text-anchor="end" fill="#222" transform="rotate(-46 95.1 621.5999999999999)">KPC; WT</text>
<line x1="131.3" y1="613.8" x2="131.3" y2="616.8" stroke="#222" stroke-width="1.4"/>
<text x="133.8" y="621.6" font-size="10.3" font-weight="bold" text-anchor="end" fill="#222" transform="rotate(-46 133.8 621.5999999999999)">KPC; K2 cKO</text>
<line x1="170.6" y1="613.8" x2="170.6" y2="616.8" stroke="#222" stroke-width="1.4"/>
<text x="173.1" y="621.6" font-size="10.3" font-weight="bold" text-anchor="end" fill="#222" transform="rotate(-46 173.1 621.5999999999999)">KPC;cKO+K2 WT</text>
<line x1="209.8" y1="613.8" x2="209.8" y2="616.8" stroke="#222" stroke-width="1.4"/>
<text x="212.3" y="621.6" font-size="10.3" font-weight="bold" text-anchor="end" fill="#222" transform="rotate(-46 212.35 621.5999999999999)">KPC;cKO+K2 &#916;F1</text>
<text x="48.3" y="560.5" font-size="10.1" font-weight="bold" text-anchor="middle" fill="#222" transform="rotate(-90 48.3 560.5)">Relative FL/RL luciferase</text>
<text x="245.0" y="511.4" font-size="16" font-weight="bold" text-anchor="start" fill="#111">E</text>
<rect x="317.8" y="537.6" width="20.8" height="77.3" fill="#f50f0f" stroke="none" stroke-width="1"/>
<rect x="356.6" y="571.1" width="20.8" height="43.8" fill="#1616e4" stroke="none" stroke-width="1"/>
<rect x="394.8" y="530.7" width="21.5" height="84.2" fill="#fb6b18" stroke="none" stroke-width="1"/>
<rect x="434.0" y="563.4" width="20.8" height="51.5" fill="#25c425" stroke="none" stroke-width="1"/>
<circle cx="329.2" cy="530.7" r="2.2" fill="#111"/>
<circle cx="324.5" cy="534.1" r="2.2" fill="#111"/>
<circle cx="334.1" cy="535.9" r="2.2" fill="#111"/>
<circle cx="331.9" cy="539.3" r="2.2" fill="#111"/>
<circle cx="322.9" cy="542.7" r="2.2" fill="#111"/>
<circle cx="328.0" cy="544.4" r="2.2" fill="#111"/>
<line x1="328.2" y1="533.3" x2="328.2" y2="541.9" stroke="#111" stroke-width="1.1"/>
<line x1="324.2" y1="533.3" x2="332.2" y2="533.3" stroke="#111" stroke-width="1.1"/>
<line x1="324.2" y1="541.9" x2="332.2" y2="541.9" stroke="#111" stroke-width="1.1"/>
<rect x="366.3" y="565.4" width="4.4" height="4.4" fill="#111"/>
<rect x="363.0" y="567.2" width="4.4" height="4.4" fill="#111"/>
<rect x="362.2" y="568.0" width="4.4" height="4.4" fill="#111"/>
<rect x="371.1" y="568.9" width="4.4" height="4.4" fill="#111"/>
<rect x="359.6" y="569.7" width="4.4" height="4.4" fill="#111"/>
<rect x="368.0" y="570.6" width="4.4" height="4.4" fill="#111"/>
<line x1="367.0" y1="569.4" x2="367.0" y2="572.8" stroke="#111" stroke-width="1.1"/>
<line x1="363.0" y1="569.4" x2="371.0" y2="569.4" stroke="#111" stroke-width="1.1"/>
<line x1="363.0" y1="572.8" x2="371.0" y2="572.8" stroke="#111" stroke-width="1.1"/>
<text x="367.0" y="566.4" font-size="11" font-weight="bold" text-anchor="middle" fill="#222">***</text>
<polygon points="406.7,524.6 404.3,529.0 409.1,529.0" fill="#111"/>
<polygon points="410.4,526.3 408.0,530.7 412.8,530.7" fill="#111"/>
<polygon points="411.8,528.1 409.4,532.5 414.2,532.5" fill="#111"/>
<polygon points="400.9,529.8 398.5,534.2 403.3,534.2" fill="#111"/>
<polygon points="403.7,531.5 401.2,535.9 406.1,535.9" fill="#111"/>
<polygon points="398.8,533.2 396.4,537.6 401.2,537.6" fill="#111"/>
<line x1="405.6" y1="528.1" x2="405.6" y2="533.3" stroke="#111" stroke-width="1.1"/>
<line x1="401.6" y1="528.1" x2="409.6" y2="528.1" stroke="#111" stroke-width="1.1"/>
<line x1="401.6" y1="533.3" x2="409.6" y2="533.3" stroke="#111" stroke-width="1.1"/>
<polygon points="450.1,560.8 447.7,556.4 452.5,556.4" fill="#111"/>
<polygon points="440.4,562.6 438.0,558.2 442.8,558.2" fill="#111"/>
<polygon points="446.0,564.3 443.6,559.9 448.4,559.9" fill="#111"/>
<polygon points="437.9,567.7 435.4,563.3 440.3,563.3" fill="#111"/>
<polygon points="448.3,569.4 445.9,565.0 450.7,565.0" fill="#111"/>
<polygon points="442.3,571.1 439.9,566.7 444.7,566.7" fill="#111"/>
<line x1="444.4" y1="559.9" x2="444.4" y2="566.8" stroke="#111" stroke-width="1.1"/>
<line x1="440.4" y1="559.9" x2="448.4" y2="559.9" stroke="#111" stroke-width="1.1"/>
<line x1="440.4" y1="566.8" x2="448.4" y2="566.8" stroke="#111" stroke-width="1.1"/>
<text x="444.4" y="555.3" font-size="11" font-weight="bold" text-anchor="middle" fill="#222">***</text>
<line x1="309.0" y1="510.8" x2="309.0" y2="615.6" stroke="#222" stroke-width="1.4"/>
<line x1="308.3" y1="614.9" x2="465.0" y2="614.9" stroke="#222" stroke-width="1.4"/>
<line x1="305.5" y1="614.9" x2="309.0" y2="614.9" stroke="#222" stroke-width="1.4"/>
<text x="304.0" y="618.1" font-size="9" font-weight="bold" text-anchor="end" fill="#222">0.0</text>
<line x1="305.5" y1="580.5" x2="309.0" y2="580.5" stroke="#222" stroke-width="1.4"/>
<text x="304.0" y="583.8" font-size="9" font-weight="bold" text-anchor="end" fill="#222">0.2</text>
<line x1="305.5" y1="546.2" x2="309.0" y2="546.2" stroke="#222" stroke-width="1.4"/>
<text x="304.0" y="549.4" font-size="9" font-weight="bold" text-anchor="end" fill="#222">0.4</text>
<line x1="305.5" y1="511.8" x2="309.0" y2="511.8" stroke="#222" stroke-width="1.4"/>
<text x="304.0" y="515.0" font-size="9" font-weight="bold" text-anchor="end" fill="#222">0.6</text>
<line x1="328.2" y1="614.9" x2="328.2" y2="618.4" stroke="#222" stroke-width="1.4"/>
<text x="330.7" y="622.7" font-size="10.3" font-weight="bold" text-anchor="end" fill="#222" transform="rotate(-46 330.70000000000005 622.6999999999999)">KPC; WT</text>
<line x1="367.0" y1="614.9" x2="367.0" y2="618.4" stroke="#222" stroke-width="1.4"/>
<text x="369.5" y="622.7" font-size="10.3" font-weight="bold" text-anchor="end" fill="#222" transform="rotate(-46 369.5 622.6999999999999)">KPC; K2 cKO</text>
<line x1="405.6" y1="614.9" x2="405.6" y2="618.4" stroke="#222" stroke-width="1.4"/>
<text x="408.1" y="622.7" font-size="10.3" font-weight="bold" text-anchor="end" fill="#222" transform="rotate(-46 408.05 622.6999999999999)">KPC;cKO+K2 WT</text>
<line x1="444.4" y1="614.9" x2="444.4" y2="618.4" stroke="#222" stroke-width="1.4"/>
<text x="446.9" y="622.7" font-size="10.3" font-weight="bold" text-anchor="end" fill="#222" transform="rotate(-46 446.9 622.6999999999999)">KPC;cKO+K2 &#916;F1</text>
<text x="287.0" y="563.0" font-size="9.8" font-weight="bold" text-anchor="middle" fill="#222" transform="rotate(-90 287 563)">2-DG uptake (pmol/cell)</text>
<text x="471.7" y="511.4" font-size="16" font-weight="bold" text-anchor="start" fill="#111">F</text>
<rect x="532.5" y="532.7" width="20.8" height="82.9" fill="#f50f0f" stroke="none" stroke-width="1"/>
<rect x="571.0" y="568.4" width="20.8" height="47.2" fill="#1616e4" stroke="none" stroke-width="1"/>
<rect x="609.8" y="537.2" width="20.2" height="78.4" fill="#fb6b18" stroke="none" stroke-width="1"/>
<rect x="648.0" y="576.1" width="20.0" height="39.5" fill="#25c425" stroke="none" stroke-width="1"/>
<circle cx="547.1" cy="525.1" r="2.2" fill="#111"/>
<circle cx="540.3" cy="528.9" r="2.2" fill="#111"/>
<circle cx="537.3" cy="532.7" r="2.2" fill="#111"/>
<circle cx="542.6" cy="536.6" r="2.2" fill="#111"/>
<circle cx="545.1" cy="539.1" r="2.2" fill="#111"/>
<line x1="542.9" y1="528.9" x2="542.9" y2="536.6" stroke="#111" stroke-width="1.1"/>
<line x1="538.9" y1="528.9" x2="546.9" y2="528.9" stroke="#111" stroke-width="1.1"/>
<line x1="538.9" y1="536.6" x2="546.9" y2="536.6" stroke="#111" stroke-width="1.1"/>
<rect x="574.6" y="556.0" width="4.4" height="4.4" fill="#111"/>
<rect x="575.7" y="564.9" width="4.4" height="4.4" fill="#111"/>
<rect x="582.4" y="567.5" width="4.4" height="4.4" fill="#111"/>
<rect x="578.7" y="570.0" width="4.4" height="4.4" fill="#111"/>
<rect x="583.4" y="571.3" width="4.4" height="4.4" fill="#111"/>
<line x1="581.4" y1="565.2" x2="581.4" y2="571.6" stroke="#111" stroke-width="1.1"/>
<line x1="577.4" y1="565.2" x2="585.4" y2="565.2" stroke="#111" stroke-width="1.1"/>
<line x1="577.4" y1="571.6" x2="585.4" y2="571.6" stroke="#111" stroke-width="1.1"/>
<text x="581.4" y="555.6" font-size="11" font-weight="bold" text-anchor="middle" fill="#222">***</text>
<polygon points="617.3,530.1 614.9,534.5 619.8,534.5" fill="#111"/>
<polygon points="614.9,532.6 612.5,537.0 617.3,537.0" fill="#111"/>
<polygon points="624.0,535.2 621.6,539.6 626.5,539.6" fill="#111"/>
<polygon points="622.2,536.5 619.8,540.9 624.7,540.9" fill="#111"/>
<line x1="619.9" y1="534.6" x2="619.9" y2="539.7" stroke="#111" stroke-width="1.1"/>
<line x1="615.9" y1="534.6" x2="623.9" y2="534.6" stroke="#111" stroke-width="1.1"/>
<line x1="615.9" y1="539.7" x2="623.9" y2="539.7" stroke="#111" stroke-width="1.1"/>
<polygon points="660.2,573.6 657.8,569.2 662.6,569.2" fill="#111"/>
<polygon points="658.0,576.2 655.6,571.8 660.4,571.8" fill="#111"/>
<polygon points="662.5,577.4 660.1,573.0 665.0,573.0" fill="#111"/>
<polygon points="652.8,580.0 650.4,575.6 655.2,575.6" fill="#111"/>
<polygon points="655.4,582.5 652.9,578.1 657.8,578.1" fill="#111"/>
<line x1="658.0" y1="573.5" x2="658.0" y2="578.6" stroke="#111" stroke-width="1.1"/>
<line x1="654.0" y1="573.5" x2="662.0" y2="573.5" stroke="#111" stroke-width="1.1"/>
<line x1="654.0" y1="578.6" x2="662.0" y2="578.6" stroke="#111" stroke-width="1.1"/>
<text x="658.0" y="569.0" font-size="11" font-weight="bold" text-anchor="middle" fill="#222">***</text>
<line x1="523.8" y1="512.6" x2="523.8" y2="616.3" stroke="#222" stroke-width="1.4"/>
<line x1="523.1" y1="615.6" x2="675.0" y2="615.6" stroke="#222" stroke-width="1.4"/>
<line x1="520.3" y1="615.6" x2="523.8" y2="615.6" stroke="#222" stroke-width="1.4"/>
<text x="518.8" y="618.8" font-size="9" font-weight="bold" text-anchor="end" fill="#222">0.0</text>
<line x1="520.3" y1="590.1" x2="523.8" y2="590.1" stroke="#222" stroke-width="1.4"/>
<text x="518.8" y="593.3" font-size="9" font-weight="bold" text-anchor="end" fill="#222">0.2</text>
<line x1="520.3" y1="564.6" x2="523.8" y2="564.6" stroke="#222" stroke-width="1.4"/>
<text x="518.8" y="567.8" font-size="9" font-weight="bold" text-anchor="end" fill="#222">0.4</text>
<line x1="520.3" y1="539.1" x2="523.8" y2="539.1" stroke="#222" stroke-width="1.4"/>
<text x="518.8" y="542.3" font-size="9" font-weight="bold" text-anchor="end" fill="#222">0.6</text>
<line x1="520.3" y1="513.6" x2="523.8" y2="513.6" stroke="#222" stroke-width="1.4"/>
<text x="518.8" y="516.8" font-size="9" font-weight="bold" text-anchor="end" fill="#222">0.8</text>
<line x1="542.9" y1="615.6" x2="542.9" y2="619.1" stroke="#222" stroke-width="1.4"/>
<text x="545.4" y="623.4" font-size="10.3" font-weight="bold" text-anchor="end" fill="#222" transform="rotate(-46 545.4 623.4)">KPC; WT</text>
<line x1="581.4" y1="615.6" x2="581.4" y2="619.1" stroke="#222" stroke-width="1.4"/>
<text x="583.9" y="623.4" font-size="10.3" font-weight="bold" text-anchor="end" fill="#222" transform="rotate(-46 583.9 623.4)">KPC; K2 cKO</text>
<line x1="619.9" y1="615.6" x2="619.9" y2="619.1" stroke="#222" stroke-width="1.4"/>
<text x="622.4" y="623.4" font-size="10.3" font-weight="bold" text-anchor="end" fill="#222" transform="rotate(-46 622.4 623.4)">KPC;cKO+K2 WT</text>
<line x1="658.0" y1="615.6" x2="658.0" y2="619.1" stroke="#222" stroke-width="1.4"/>
<text x="660.5" y="623.4" font-size="10.3" font-weight="bold" text-anchor="end" fill="#222" transform="rotate(-46 660.5 623.4)">KPC;cKO+K2 &#916;F1</text>
<text x="500.5" y="563.0" font-size="10" font-weight="bold" text-anchor="middle" fill="#222" transform="rotate(-90 500.5 563)">Lactate&#160;&#160;&#160;Secretion</text>
<text x="18.7" y="701.7" font-size="16" font-weight="bold" text-anchor="start" fill="#111">G</text>
<line x1="64.8" y1="715.3" x2="64.8" y2="829.8" stroke="#222" stroke-width="1.6"/>
<line x1="64.0" y1="829.0" x2="231.4" y2="829.0" stroke="#222" stroke-width="1.6"/>
<line x1="60.8" y1="829.0" x2="64.8" y2="829.0" stroke="#222" stroke-width="1.6"/>
<text x="60.3" y="833.3" font-size="12.2" font-weight="bold" text-anchor="end" fill="#222">0</text>
<line x1="60.8" y1="800.8" x2="64.8" y2="800.8" stroke="#222" stroke-width="1.6"/>
<text x="60.3" y="805.1" font-size="12.2" font-weight="bold" text-anchor="end" fill="#222">25</text>
<line x1="60.8" y1="772.6" x2="64.8" y2="772.6" stroke="#222" stroke-width="1.6"/>
<text x="60.3" y="776.9" font-size="12.2" font-weight="bold" text-anchor="end" fill="#222">50</text>
<line x1="60.8" y1="744.5" x2="64.8" y2="744.5" stroke="#222" stroke-width="1.6"/>
<text x="60.3" y="748.8" font-size="12.2" font-weight="bold" text-anchor="end" fill="#222">75</text>
<line x1="60.8" y1="716.3" x2="64.8" y2="716.3" stroke="#222" stroke-width="1.6"/>
<text x="60.3" y="720.6" font-size="12.2" font-weight="bold" text-anchor="end" fill="#222">100</text>
<line x1="65.0" y1="829.0" x2="65.0" y2="833.0" stroke="#222" stroke-width="1.6"/>
<text x="65.0" y="845.5" font-size="12" font-weight="bold" text-anchor="middle" fill="#222">0</text>
<line x1="106.6" y1="829.0" x2="106.6" y2="833.0" stroke="#222" stroke-width="1.6"/>
<text x="106.6" y="845.5" font-size="12" font-weight="bold" text-anchor="middle" fill="#222">20</text>
<line x1="148.2" y1="829.0" x2="148.2" y2="833.0" stroke="#222" stroke-width="1.6"/>
<text x="148.2" y="845.5" font-size="12" font-weight="bold" text-anchor="middle" fill="#222">40</text>
<line x1="189.8" y1="829.0" x2="189.8" y2="833.0" stroke="#222" stroke-width="1.6"/>
<text x="189.8" y="845.5" font-size="12" font-weight="bold" text-anchor="middle" fill="#222">60</text>
<line x1="231.4" y1="829.0" x2="231.4" y2="833.0" stroke="#222" stroke-width="1.6"/>
<text x="231.4" y="845.5" font-size="12" font-weight="bold" text-anchor="middle" fill="#222">80</text>
<text x="147.2" y="862.0" font-size="12" font-weight="bold" text-anchor="middle" fill="#222">Time (minutes)</text>
<text x="35.0" y="771.0" font-size="12" font-weight="bold" text-anchor="middle" fill="#222" transform="rotate(-90 35 771)">ECAR (mpH/min)</text>
<text x="97.5" y="714.6" font-size="12" text-anchor="middle" fill="#222">Glu</text>
<text x="138.5" y="714.6" font-size="12" text-anchor="middle" fill="#222">Oligo</text>
<text x="179.5" y="714.6" font-size="12" text-anchor="middle" fill="#222">2-DG</text>
<polyline points="68.3,812.1 82.2,813.8 95.4,814.3 110.0,780.5 123.0,777.7 137.0,773.8 150.2,771.5 164.0,768.1 178.0,767.0 191.8,809.8 205.7,815.5 219.2,817.7" fill="none" stroke="#2323e0" stroke-width="2"/>
<rect x="65.5" y="809.3" width="5.6" height="5.6" fill="#2323e0" stroke="none" stroke-width="1"/>
<rect x="79.4" y="811.0" width="5.6" height="5.6" fill="#2323e0" stroke="none" stroke-width="1"/>
<rect x="92.6" y="811.5" width="5.6" height="5.6" fill="#2323e0" stroke="none" stroke-width="1"/>
<line x1="110.0" y1="774.9" x2="110.0" y2="786.2" stroke="#2323e0" stroke-width="1.3"/>
<line x1="107.0" y1="774.9" x2="113.0" y2="774.9" stroke="#2323e0" stroke-width="1.3"/>
<line x1="107.0" y1="786.2" x2="113.0" y2="786.2" stroke="#2323e0" stroke-width="1.3"/>
<rect x="107.2" y="777.7" width="5.6" height="5.6" fill="#2323e0" stroke="none" stroke-width="1"/>
<line x1="123.0" y1="772.1" x2="123.0" y2="783.4" stroke="#2323e0" stroke-width="1.3"/>
<line x1="120.0" y1="772.1" x2="126.0" y2="772.1" stroke="#2323e0" stroke-width="1.3"/>
<line x1="120.0" y1="783.4" x2="126.0" y2="783.4" stroke="#2323e0" stroke-width="1.3"/>
<rect x="120.2" y="774.9" width="5.6" height="5.6" fill="#2323e0" stroke="none" stroke-width="1"/>
<line x1="137.0" y1="768.1" x2="137.0" y2="779.4" stroke="#2323e0" stroke-width="1.3"/>
<line x1="134.0" y1="768.1" x2="140.0" y2="768.1" stroke="#2323e0" stroke-width="1.3"/>
<line x1="134.0" y1="779.4" x2="140.0" y2="779.4" stroke="#2323e0" stroke-width="1.3"/>
<rect x="134.2" y="771.0" width="5.6" height="5.6" fill="#2323e0" stroke="none" stroke-width="1"/>
<line x1="150.2" y1="765.9" x2="150.2" y2="777.2" stroke="#2323e0" stroke-width="1.3"/>
<line x1="147.2" y1="765.9" x2="153.2" y2="765.9" stroke="#2323e0" stroke-width="1.3"/>
<line x1="147.2" y1="777.2" x2="153.2" y2="777.2" stroke="#2323e0" stroke-width="1.3"/>
<rect x="147.4" y="768.7" width="5.6" height="5.6" fill="#2323e0" stroke="none" stroke-width="1"/>
<line x1="164.0" y1="762.5" x2="164.0" y2="773.8" stroke="#2323e0" stroke-width="1.3"/>
<line x1="161.0" y1="762.5" x2="167.0" y2="762.5" stroke="#2323e0" stroke-width="1.3"/>
<line x1="161.0" y1="773.8" x2="167.0" y2="773.8" stroke="#2323e0" stroke-width="1.3"/>
<rect x="161.2" y="765.3" width="5.6" height="5.6" fill="#2323e0" stroke="none" stroke-width="1"/>
<line x1="178.0" y1="761.4" x2="178.0" y2="772.6" stroke="#2323e0" stroke-width="1.3"/>
<line x1="175.0" y1="761.4" x2="181.0" y2="761.4" stroke="#2323e0" stroke-width="1.3"/>
<line x1="175.0" y1="772.6" x2="181.0" y2="772.6" stroke="#2323e0" stroke-width="1.3"/>
<rect x="175.2" y="764.2" width="5.6" height="5.6" fill="#2323e0" stroke="none" stroke-width="1"/>
<rect x="189.0" y="807.0" width="5.6" height="5.6" fill="#2323e0" stroke="none" stroke-width="1"/>
<rect x="202.9" y="812.7" width="5.6" height="5.6" fill="#2323e0" stroke="none" stroke-width="1"/>
<rect x="216.4" y="814.9" width="5.6" height="5.6" fill="#2323e0" stroke="none" stroke-width="1"/>
<polyline points="68.3,811.0 82.2,812.1 95.4,812.1 110.0,769.3 123.0,764.8 137.0,762.5 150.2,760.3 164.0,756.9 178.0,755.7 191.8,807.6 205.7,812.1 219.2,813.2" fill="none" stroke="#3cc83c" stroke-width="2"/>
<polygon points="65.3,813.5 71.3,813.5 68.3,808.2" fill="#3cc83c"/>
<polygon points="79.2,814.6 85.2,814.6 82.2,809.3" fill="#3cc83c"/>
<polygon points="92.4,814.6 98.4,814.6 95.4,809.3" fill="#3cc83c"/>
<line x1="110.0" y1="763.6" x2="110.0" y2="774.9" stroke="#3cc83c" stroke-width="1.3"/>
<line x1="107.0" y1="763.6" x2="113.0" y2="763.6" stroke="#3cc83c" stroke-width="1.3"/>
<line x1="107.0" y1="774.9" x2="113.0" y2="774.9" stroke="#3cc83c" stroke-width="1.3"/>
<polygon points="107.0,771.8 113.0,771.8 110.0,766.5" fill="#3cc83c"/>
<line x1="123.0" y1="759.1" x2="123.0" y2="770.4" stroke="#3cc83c" stroke-width="1.3"/>
<line x1="120.0" y1="759.1" x2="126.0" y2="759.1" stroke="#3cc83c" stroke-width="1.3"/>
<line x1="120.0" y1="770.4" x2="126.0" y2="770.4" stroke="#3cc83c" stroke-width="1.3"/>
<polygon points="120.0,767.3 126.0,767.3 123.0,762.0" fill="#3cc83c"/>
<line x1="137.0" y1="756.9" x2="137.0" y2="768.1" stroke="#3cc83c" stroke-width="1.3"/>
<line x1="134.0" y1="756.9" x2="140.0" y2="756.9" stroke="#3cc83c" stroke-width="1.3"/>
<line x1="134.0" y1="768.1" x2="140.0" y2="768.1" stroke="#3cc83c" stroke-width="1.3"/>
<polygon points="134.0,765.0 140.0,765.0 137.0,759.7" fill="#3cc83c"/>
<line x1="150.2" y1="754.6" x2="150.2" y2="765.9" stroke="#3cc83c" stroke-width="1.3"/>
<line x1="147.2" y1="754.6" x2="153.2" y2="754.6" stroke="#3cc83c" stroke-width="1.3"/>
<line x1="147.2" y1="765.9" x2="153.2" y2="765.9" stroke="#3cc83c" stroke-width="1.3"/>
<polygon points="147.2,762.8 153.2,762.8 150.2,757.5" fill="#3cc83c"/>
<line x1="164.0" y1="751.2" x2="164.0" y2="762.5" stroke="#3cc83c" stroke-width="1.3"/>
<line x1="161.0" y1="751.2" x2="167.0" y2="751.2" stroke="#3cc83c" stroke-width="1.3"/>
<line x1="161.0" y1="762.5" x2="167.0" y2="762.5" stroke="#3cc83c" stroke-width="1.3"/>
<polygon points="161.0,759.4 167.0,759.4 164.0,754.1" fill="#3cc83c"/>
<line x1="178.0" y1="750.1" x2="178.0" y2="761.4" stroke="#3cc83c" stroke-width="1.3"/>
<line x1="175.0" y1="750.1" x2="181.0" y2="750.1" stroke="#3cc83c" stroke-width="1.3"/>
<line x1="175.0" y1="761.4" x2="181.0" y2="761.4" stroke="#3cc83c" stroke-width="1.3"/>
<polygon points="175.0,758.2 181.0,758.2 178.0,752.9" fill="#3cc83c"/>
<polygon points="188.8,810.1 194.8,810.1 191.8,804.8" fill="#3cc83c"/>
<polygon points="202.7,814.6 208.7,814.6 205.7,809.3" fill="#3cc83c"/>
<polygon points="216.2,815.7 222.2,815.7 219.2,810.4" fill="#3cc83c"/>
<polyline points="68.3,808.7 82.2,809.8 95.4,809.8 110.0,755.7 123.0,747.9 137.0,741.1 150.2,736.6 164.0,732.1 178.0,729.8 191.8,805.3 205.7,809.8 219.2,811.0" fill="none" stroke="#f0883a" stroke-width="2"/>
<polygon points="65.3,806.2 71.3,806.2 68.3,811.5" fill="#f0883a"/>
<polygon points="79.2,807.3 85.2,807.3 82.2,812.6" fill="#f0883a"/>
<polygon points="92.4,807.3 98.4,807.3 95.4,812.6" fill="#f0883a"/>
<line x1="110.0" y1="750.1" x2="110.0" y2="761.4" stroke="#f0883a" stroke-width="1.3"/>
<line x1="107.0" y1="750.1" x2="113.0" y2="750.1" stroke="#f0883a" stroke-width="1.3"/>
<line x1="107.0" y1="761.4" x2="113.0" y2="761.4" stroke="#f0883a" stroke-width="1.3"/>
<polygon points="107.0,753.2 113.0,753.2 110.0,758.5" fill="#f0883a"/>
<line x1="123.0" y1="742.2" x2="123.0" y2="753.5" stroke="#f0883a" stroke-width="1.3"/>
<line x1="120.0" y1="742.2" x2="126.0" y2="742.2" stroke="#f0883a" stroke-width="1.3"/>
<line x1="120.0" y1="753.5" x2="126.0" y2="753.5" stroke="#f0883a" stroke-width="1.3"/>
<polygon points="120.0,745.4 126.0,745.4 123.0,750.7" fill="#f0883a"/>
<line x1="137.0" y1="735.5" x2="137.0" y2="746.7" stroke="#f0883a" stroke-width="1.3"/>
<line x1="134.0" y1="735.5" x2="140.0" y2="735.5" stroke="#f0883a" stroke-width="1.3"/>
<line x1="134.0" y1="746.7" x2="140.0" y2="746.7" stroke="#f0883a" stroke-width="1.3"/>
<polygon points="134.0,738.6 140.0,738.6 137.0,743.9" fill="#f0883a"/>
<line x1="150.2" y1="731.0" x2="150.2" y2="742.2" stroke="#f0883a" stroke-width="1.3"/>
<line x1="147.2" y1="731.0" x2="153.2" y2="731.0" stroke="#f0883a" stroke-width="1.3"/>
<line x1="147.2" y1="742.2" x2="153.2" y2="742.2" stroke="#f0883a" stroke-width="1.3"/>
<polygon points="147.2,734.1 153.2,734.1 150.2,739.4" fill="#f0883a"/>
<line x1="164.0" y1="726.4" x2="164.0" y2="737.7" stroke="#f0883a" stroke-width="1.3"/>
<line x1="161.0" y1="726.4" x2="167.0" y2="726.4" stroke="#f0883a" stroke-width="1.3"/>
<line x1="161.0" y1="737.7" x2="167.0" y2="737.7" stroke="#f0883a" stroke-width="1.3"/>
<polygon points="161.0,729.6 167.0,729.6 164.0,734.9" fill="#f0883a"/>
<line x1="178.0" y1="724.2" x2="178.0" y2="735.5" stroke="#f0883a" stroke-width="1.3"/>
<line x1="175.0" y1="724.2" x2="181.0" y2="724.2" stroke="#f0883a" stroke-width="1.3"/>
<line x1="175.0" y1="735.5" x2="181.0" y2="735.5" stroke="#f0883a" stroke-width="1.3"/>
<polygon points="175.0,727.3 181.0,727.3 178.0,732.6" fill="#f0883a"/>
<polygon points="188.8,802.8 194.8,802.8 191.8,808.1" fill="#f0883a"/>
<polygon points="202.7,807.3 208.7,807.3 205.7,812.6" fill="#f0883a"/>
<polygon points="216.2,808.5 222.2,808.5 219.2,813.8" fill="#f0883a"/>
<polyline points="68.3,805.9 82.2,807.6 95.4,807.6 110.0,745.6 123.0,738.8 137.0,734.3 150.2,728.7 164.0,725.3 178.0,724.2 191.8,802.0 205.7,805.9 219.2,808.2" fill="none" stroke="#e8282a" stroke-width="2"/>
<circle cx="68.3" cy="805.9" r="3" fill="#e8282a"/>
<circle cx="82.2" cy="807.6" r="3" fill="#e8282a"/>
<circle cx="95.4" cy="807.6" r="3" fill="#e8282a"/>
<line x1="110.0" y1="740.0" x2="110.0" y2="751.2" stroke="#e8282a" stroke-width="1.3"/>
<line x1="107.0" y1="740.0" x2="113.0" y2="740.0" stroke="#e8282a" stroke-width="1.3"/>
<line x1="107.0" y1="751.2" x2="113.0" y2="751.2" stroke="#e8282a" stroke-width="1.3"/>
<circle cx="110.0" cy="745.6" r="3" fill="#e8282a"/>
<line x1="123.0" y1="733.2" x2="123.0" y2="744.5" stroke="#e8282a" stroke-width="1.3"/>
<line x1="120.0" y1="733.2" x2="126.0" y2="733.2" stroke="#e8282a" stroke-width="1.3"/>
<line x1="120.0" y1="744.5" x2="126.0" y2="744.5" stroke="#e8282a" stroke-width="1.3"/>
<circle cx="123.0" cy="738.8" r="3" fill="#e8282a"/>
<line x1="137.0" y1="728.7" x2="137.0" y2="740.0" stroke="#e8282a" stroke-width="1.3"/>
<line x1="134.0" y1="728.7" x2="140.0" y2="728.7" stroke="#e8282a" stroke-width="1.3"/>
<line x1="134.0" y1="740.0" x2="140.0" y2="740.0" stroke="#e8282a" stroke-width="1.3"/>
<circle cx="137.0" cy="734.3" r="3" fill="#e8282a"/>
<line x1="150.2" y1="723.1" x2="150.2" y2="734.3" stroke="#e8282a" stroke-width="1.3"/>
<line x1="147.2" y1="723.1" x2="153.2" y2="723.1" stroke="#e8282a" stroke-width="1.3"/>
<line x1="147.2" y1="734.3" x2="153.2" y2="734.3" stroke="#e8282a" stroke-width="1.3"/>
<circle cx="150.2" cy="728.7" r="3" fill="#e8282a"/>
<line x1="164.0" y1="719.7" x2="164.0" y2="731.0" stroke="#e8282a" stroke-width="1.3"/>
<line x1="161.0" y1="719.7" x2="167.0" y2="719.7" stroke="#e8282a" stroke-width="1.3"/>
<line x1="161.0" y1="731.0" x2="167.0" y2="731.0" stroke="#e8282a" stroke-width="1.3"/>
<circle cx="164.0" cy="725.3" r="3" fill="#e8282a"/>
<line x1="178.0" y1="718.6" x2="178.0" y2="729.8" stroke="#e8282a" stroke-width="1.3"/>
<line x1="175.0" y1="718.6" x2="181.0" y2="718.6" stroke="#e8282a" stroke-width="1.3"/>
<line x1="175.0" y1="729.8" x2="181.0" y2="729.8" stroke="#e8282a" stroke-width="1.3"/>
<circle cx="178.0" cy="724.2" r="3" fill="#e8282a"/>
<circle cx="191.8" cy="802.0" r="3" fill="#e8282a"/>
<circle cx="205.7" cy="805.9" r="3" fill="#e8282a"/>
<circle cx="219.2" cy="808.2" r="3" fill="#e8282a"/>
<line x1="96.0" y1="726.0" x2="96.0" y2="829.0" stroke="#222" stroke-width="1.6" stroke-dasharray="5,3.5"/>
<line x1="137.0" y1="726.0" x2="137.0" y2="829.0" stroke="#222" stroke-width="1.6" stroke-dasharray="5,3.5"/>
<line x1="178.0" y1="726.0" x2="178.0" y2="829.0" stroke="#222" stroke-width="1.6" stroke-dasharray="5,3.5"/>
<line x1="219.7" y1="716.2" x2="231.2" y2="716.2" stroke="#e8282a" stroke-width="1.6"/>
<circle cx="225.5" cy="716.2" r="2.2" fill="#e8282a"/>
<text x="238.5" y="719.6" font-size="9.5" text-anchor="start" fill="#222">KPC; WT</text>
<line x1="219.7" y1="729.4" x2="231.2" y2="729.4" stroke="#2323e0" stroke-width="1.6"/>
<rect x="223.3" y="727.2" width="4.4" height="4.4" fill="#2323e0" stroke="none" stroke-width="1"/>
<text x="238.5" y="732.8" font-size="9.5" text-anchor="start" fill="#222">KPC; K2 cKO</text>
<line x1="219.7" y1="742.8" x2="231.2" y2="742.8" stroke="#f0883a" stroke-width="1.6"/>
<polygon points="223.0,740.8 228.0,740.8 225.5,745.0999999999999" fill="#f0883a"/>
<text x="238.5" y="746.2" font-size="9.5" text-anchor="start" fill="#222">KPC;cKO+K2 WT</text>
<line x1="219.7" y1="756.2" x2="231.2" y2="756.2" stroke="#3cc83c" stroke-width="1.6"/>
<polygon points="223.0,758.2 228.0,758.2 225.5,753.9000000000001" fill="#3cc83c"/>
<text x="238.5" y="759.6" font-size="9.5" text-anchor="start" fill="#222">KPC;cKO+K2 &#916;F1</text>
<text x="328.8" y="702.5" font-size="15.5" font-weight="bold" text-anchor="start" fill="#111">H</text>
<rect x="375.7" y="726.3" width="15.0" height="70.1" fill="#f50f0f" stroke="none" stroke-width="1"/>
<rect x="407.5" y="757.0" width="16.5" height="39.4" fill="#1616e4" stroke="none" stroke-width="1"/>
<rect x="441.3" y="730.7" width="15.9" height="65.7" fill="#fb6b18" stroke="none" stroke-width="1"/>
<rect x="473.6" y="748.2" width="16.2" height="48.2" fill="#25c425" stroke="none" stroke-width="1"/>
<circle cx="384.0" cy="713.2" r="1.8" fill="#111"/>
<circle cx="382.3" cy="713.2" r="1.8" fill="#111"/>
<circle cx="379.6" cy="724.1" r="1.8" fill="#111"/>
<circle cx="388.5" cy="726.3" r="1.8" fill="#111"/>
<circle cx="382.2" cy="730.7" r="1.8" fill="#111"/>
<circle cx="386.7" cy="736.2" r="1.8" fill="#111"/>
<circle cx="378.9" cy="739.5" r="1.8" fill="#111"/>
<line x1="383.2" y1="721.9" x2="383.2" y2="730.7" stroke="#111" stroke-width="1.1"/>
<line x1="379.2" y1="721.9" x2="387.2" y2="721.9" stroke="#111" stroke-width="1.1"/>
<line x1="379.2" y1="730.7" x2="387.2" y2="730.7" stroke="#111" stroke-width="1.1"/>
<rect x="418.9" y="744.2" width="3.6" height="3.6" fill="#111"/>
<rect x="417.9" y="750.8" width="3.6" height="3.6" fill="#111"/>
<rect x="416.1" y="753.0" width="3.6" height="3.6" fill="#111"/>
<rect x="409.1" y="755.2" width="3.6" height="3.6" fill="#111"/>
<rect x="411.4" y="759.6" width="3.6" height="3.6" fill="#111"/>
<rect x="411.9" y="767.2" width="3.6" height="3.6" fill="#111"/>
<rect x="413.9" y="778.2" width="3.6" height="3.6" fill="#111"/>
<line x1="415.8" y1="751.5" x2="415.8" y2="762.5" stroke="#111" stroke-width="1.1"/>
<line x1="411.8" y1="751.5" x2="419.8" y2="751.5" stroke="#111" stroke-width="1.1"/>
<line x1="411.8" y1="762.5" x2="419.8" y2="762.5" stroke="#111" stroke-width="1.1"/>
<text x="415.8" y="740.0" font-size="8" font-weight="bold" text-anchor="middle" fill="#222">**</text>
<polygon points="452.5,714.3 450.5,717.9 454.5,717.9" fill="#111"/>
<polygon points="449.0,716.5 447.0,720.1 451.0,720.1" fill="#111"/>
<polygon points="444.9,724.2 442.9,727.8 446.9,727.8" fill="#111"/>
<polygon points="454.1,728.5 452.1,732.1 456.0,732.1" fill="#111"/>
<polygon points="446.6,734.0 444.6,737.6 448.6,737.6" fill="#111"/>
<polygon points="450.6,739.5 448.6,743.1 452.5,743.1" fill="#111"/>
<line x1="449.2" y1="726.9" x2="449.2" y2="734.5" stroke="#111" stroke-width="1.1"/>
<line x1="445.2" y1="726.9" x2="453.2" y2="726.9" stroke="#111" stroke-width="1.1"/>
<line x1="445.2" y1="734.5" x2="453.2" y2="734.5" stroke="#111" stroke-width="1.1"/>
<polygon points="479.6,739.4 477.6,735.8 481.6,735.8" fill="#111"/>
<polygon points="487.2,743.8 485.3,740.2 489.2,740.2" fill="#111"/>
<polygon points="482.0,748.2 480.0,744.6 484.0,744.6" fill="#111"/>
<polygon points="485.0,750.4 483.0,746.8 486.9,746.8" fill="#111"/>
<polygon points="483.2,753.7 481.2,750.1 485.2,750.1" fill="#111"/>
<polygon points="475.8,754.8 473.8,751.2 477.8,751.2" fill="#111"/>
<polygon points="478.6,756.9 476.6,753.3 480.6,753.3" fill="#111"/>
<line x1="481.7" y1="744.9" x2="481.7" y2="751.5" stroke="#111" stroke-width="1.1"/>
<line x1="477.7" y1="744.9" x2="485.7" y2="744.9" stroke="#111" stroke-width="1.1"/>
<line x1="477.7" y1="751.5" x2="485.7" y2="751.5" stroke="#111" stroke-width="1.1"/>
<text x="481.7" y="736.7" font-size="8" font-weight="bold" text-anchor="middle" fill="#222">**</text>
<line x1="366.0" y1="707.8" x2="366.0" y2="797.1" stroke="#222" stroke-width="1.4"/>
<line x1="365.3" y1="796.4" x2="498.0" y2="796.4" stroke="#222" stroke-width="1.4"/>
<line x1="363.0" y1="796.4" x2="366.0" y2="796.4" stroke="#222" stroke-width="1.4"/>
<text x="362.2" y="799.2" font-size="7.8" font-weight="bold" text-anchor="end" fill="#222">0</text>
<line x1="363.0" y1="774.5" x2="366.0" y2="774.5" stroke="#222" stroke-width="1.4"/>
<text x="362.2" y="777.3" font-size="7.8" font-weight="bold" text-anchor="end" fill="#222">20</text>
<line x1="363.0" y1="752.6" x2="366.0" y2="752.6" stroke="#222" stroke-width="1.4"/>
<text x="362.2" y="755.4" font-size="7.8" font-weight="bold" text-anchor="end" fill="#222">40</text>
<line x1="363.0" y1="730.7" x2="366.0" y2="730.7" stroke="#222" stroke-width="1.4"/>
<text x="362.2" y="733.5" font-size="7.8" font-weight="bold" text-anchor="end" fill="#222">60</text>
<line x1="363.0" y1="708.8" x2="366.0" y2="708.8" stroke="#222" stroke-width="1.4"/>
<text x="362.2" y="711.6" font-size="7.8" font-weight="bold" text-anchor="end" fill="#222">80</text>
<line x1="383.2" y1="796.4" x2="383.2" y2="799.4" stroke="#222" stroke-width="1.4"/>
<text x="386.2" y="806.2" font-size="8.6" font-weight="bold" text-anchor="end" fill="#222" transform="rotate(-46 386.2 806.1999999999999)">KPC; WT</text>
<line x1="415.8" y1="796.4" x2="415.8" y2="799.4" stroke="#222" stroke-width="1.4"/>
<text x="418.8" y="806.2" font-size="8.6" font-weight="bold" text-anchor="end" fill="#222" transform="rotate(-46 418.75 806.1999999999999)">KPC; K2 cKO</text>
<line x1="449.2" y1="796.4" x2="449.2" y2="799.4" stroke="#222" stroke-width="1.4"/>
<text x="452.2" y="806.2" font-size="8.6" font-weight="bold" text-anchor="end" fill="#222" transform="rotate(-46 452.25 806.1999999999999)">KPC;cKO+K2 WT</text>
<line x1="481.7" y1="796.4" x2="481.7" y2="799.4" stroke="#222" stroke-width="1.4"/>
<text x="484.7" y="806.2" font-size="8.6" font-weight="bold" text-anchor="end" fill="#222" transform="rotate(-46 484.70000000000005 806.1999999999999)">KPC;cKO+K2 &#916;F1</text>
<text x="348.3" y="751.4" font-size="8.5" font-weight="bold" text-anchor="middle" fill="#222" transform="rotate(-90 348.3 751.4)">Glycolysis (mpH/min)</text>
<rect x="557.0" y="732.0" width="16.0" height="62.6" fill="#f50f0f" stroke="none" stroke-width="1"/>
<rect x="589.4" y="758.6" width="15.3" height="36.0" fill="#1616e4" stroke="none" stroke-width="1"/>
<rect x="621.5" y="734.5" width="15.9" height="60.1" fill="#fb6b18" stroke="none" stroke-width="1"/>
<rect x="653.8" y="752.6" width="15.9" height="42.0" fill="#25c425" stroke="none" stroke-width="1"/>
<circle cx="564.1" cy="720.8" r="1.8" fill="#111"/>
<circle cx="561.9" cy="719.1" r="1.8" fill="#111"/>
<circle cx="564.5" cy="727.7" r="1.8" fill="#111"/>
<circle cx="559.1" cy="730.2" r="1.8" fill="#111"/>
<circle cx="569.6" cy="734.5" r="1.8" fill="#111"/>
<circle cx="567.4" cy="738.8" r="1.8" fill="#111"/>
<circle cx="569.3" cy="740.5" r="1.8" fill="#111"/>
<line x1="565.0" y1="728.5" x2="565.0" y2="735.4" stroke="#111" stroke-width="1.1"/>
<line x1="561.0" y1="728.5" x2="569.0" y2="728.5" stroke="#111" stroke-width="1.1"/>
<line x1="561.0" y1="735.4" x2="569.0" y2="735.4" stroke="#111" stroke-width="1.1"/>
<rect x="590.8" y="745.6" width="3.6" height="3.6" fill="#111"/>
<rect x="600.5" y="751.6" width="3.6" height="3.6" fill="#111"/>
<rect x="597.1" y="753.3" width="3.6" height="3.6" fill="#111"/>
<rect x="595.8" y="756.8" width="3.6" height="3.6" fill="#111"/>
<rect x="592.7" y="760.2" width="3.6" height="3.6" fill="#111"/>
<rect x="598.3" y="767.1" width="3.6" height="3.6" fill="#111"/>
<rect x="591.6" y="777.4" width="3.6" height="3.6" fill="#111"/>
<line x1="597.0" y1="754.3" x2="597.0" y2="762.9" stroke="#111" stroke-width="1.1"/>
<line x1="593.0" y1="754.3" x2="601.0" y2="754.3" stroke="#111" stroke-width="1.1"/>
<line x1="593.0" y1="762.9" x2="601.0" y2="762.9" stroke="#111" stroke-width="1.1"/>
<text x="597.0" y="745.7" font-size="8" font-weight="bold" text-anchor="middle" fill="#222">**</text>
<polygon points="627.5,720.4 625.5,724.0 629.5,724.0" fill="#111"/>
<polygon points="631.3,726.4 629.3,730.0 633.3,730.0" fill="#111"/>
<polygon points="624.9,730.7 622.9,734.3 626.9,734.3" fill="#111"/>
<polygon points="634.4,732.4 632.4,736.0 636.4,736.0" fill="#111"/>
<polygon points="626.9,735.8 624.9,739.4 628.9,739.4" fill="#111"/>
<polygon points="632.4,741.0 630.4,744.6 634.4,744.6" fill="#111"/>
<line x1="629.5" y1="731.1" x2="629.5" y2="738.0" stroke="#111" stroke-width="1.1"/>
<line x1="625.5" y1="731.1" x2="633.5" y2="731.1" stroke="#111" stroke-width="1.1"/>
<line x1="625.5" y1="738.0" x2="633.5" y2="738.0" stroke="#111" stroke-width="1.1"/>
<polygon points="662.7,743.6 660.7,740.0 664.6,740.0" fill="#111"/>
<polygon points="659.9,750.4 657.9,746.8 661.8,746.8" fill="#111"/>
<polygon points="662.8,753.9 660.8,750.3 664.7,750.3" fill="#111"/>
<polygon points="655.9,756.4 653.9,752.8 657.9,752.8" fill="#111"/>
<polygon points="665.2,757.3 663.2,753.7 667.2,753.7" fill="#111"/>
<polygon points="666.1,759.0 664.1,755.4 668.1,755.4" fill="#111"/>
<polygon points="658.7,760.7 656.8,757.1 660.7,757.1" fill="#111"/>
<line x1="661.8" y1="749.1" x2="661.8" y2="756.0" stroke="#111" stroke-width="1.1"/>
<line x1="657.8" y1="749.1" x2="665.8" y2="749.1" stroke="#111" stroke-width="1.1"/>
<line x1="657.8" y1="756.0" x2="665.8" y2="756.0" stroke="#111" stroke-width="1.1"/>
<text x="661.8" y="739.7" font-size="8" font-weight="bold" text-anchor="middle" fill="#222">**</text>
<line x1="549.0" y1="707.8" x2="549.0" y2="795.3" stroke="#222" stroke-width="1.4"/>
<line x1="548.3" y1="794.6" x2="677.0" y2="794.6" stroke="#222" stroke-width="1.4"/>
<line x1="546.0" y1="794.6" x2="549.0" y2="794.6" stroke="#222" stroke-width="1.4"/>
<text x="545.2" y="797.4" font-size="7.8" font-weight="bold" text-anchor="end" fill="#222">0</text>
<line x1="546.0" y1="777.4" x2="549.0" y2="777.4" stroke="#222" stroke-width="1.4"/>
<text x="545.2" y="780.2" font-size="7.8" font-weight="bold" text-anchor="end" fill="#222">20</text>
<line x1="546.0" y1="760.3" x2="549.0" y2="760.3" stroke="#222" stroke-width="1.4"/>
<text x="545.2" y="763.1" font-size="7.8" font-weight="bold" text-anchor="end" fill="#222">40</text>
<line x1="546.0" y1="743.1" x2="549.0" y2="743.1" stroke="#222" stroke-width="1.4"/>
<text x="545.2" y="745.9" font-size="7.8" font-weight="bold" text-anchor="end" fill="#222">60</text>
<line x1="546.0" y1="726.0" x2="549.0" y2="726.0" stroke="#222" stroke-width="1.4"/>
<text x="545.2" y="728.8" font-size="7.8" font-weight="bold" text-anchor="end" fill="#222">80</text>
<line x1="546.0" y1="708.8" x2="549.0" y2="708.8" stroke="#222" stroke-width="1.4"/>
<text x="545.2" y="711.6" font-size="7.8" font-weight="bold" text-anchor="end" fill="#222">100</text>
<line x1="565.0" y1="794.6" x2="565.0" y2="797.6" stroke="#222" stroke-width="1.4"/>
<text x="568.0" y="804.4" font-size="8.6" font-weight="bold" text-anchor="end" fill="#222" transform="rotate(-46 568.0 804.4)">KPC; WT</text>
<line x1="597.0" y1="794.6" x2="597.0" y2="797.6" stroke="#222" stroke-width="1.4"/>
<text x="600.0" y="804.4" font-size="8.6" font-weight="bold" text-anchor="end" fill="#222" transform="rotate(-46 600.05 804.4)">KPC; K2 cKO</text>
<line x1="629.5" y1="794.6" x2="629.5" y2="797.6" stroke="#222" stroke-width="1.4"/>
<text x="632.5" y="804.4" font-size="8.6" font-weight="bold" text-anchor="end" fill="#222" transform="rotate(-46 632.45 804.4)">KPC;cKO+K2 WT</text>
<line x1="661.8" y1="794.6" x2="661.8" y2="797.6" stroke="#222" stroke-width="1.4"/>
<text x="664.8" y="804.4" font-size="8.6" font-weight="bold" text-anchor="end" fill="#222" transform="rotate(-46 664.75 804.4)">KPC;cKO+K2 &#916;F1</text>
<text x="517.3" y="750.2" font-size="8.45" font-weight="bold" text-anchor="middle" fill="#222" transform="rotate(-90 517.3 750.2)">Glycolytic capacity</text>
<text x="528.0" y="749.4" font-size="8.45" font-weight="bold" text-anchor="middle" fill="#222" transform="rotate(-90 528 749.4)">(mpH/min)</text>
<text x="18.3" y="897.4" font-size="16" font-weight="bold" text-anchor="start" fill="#111">I</text>
<text x="70.4" y="900.5" font-size="13.5" text-anchor="middle" fill="#111">KPC;WT</text>
<text x="161.0" y="900.5" font-size="13.5" text-anchor="middle" fill="#111">KPC;K2 cKO</text>
<text x="66.0" y="985.6" font-size="13.5" text-anchor="middle" fill="#111">KPC;cKO+K2</text>
<text x="169.0" y="985.6" font-size="13.5" text-anchor="middle" fill="#111">KPC;cKO+K2 &#916;F1</text>
<circle cx="70.2" cy="936.3" r="32.3" fill="#f3f6f3"/>
<circle cx="71.1" cy="925.4" r="0.9" fill="#1d4f9c" fill-opacity="0.92"/>
<circle cx="75.3" cy="956.1" r="1.1" fill="#1b4a8a" fill-opacity="0.79"/>
<circle cx="62.4" cy="914.4" r="0.9" fill="#1b4a8a" fill-opacity="0.73"/>
<circle cx="98.6" cy="941.8" r="0.7" fill="#2a7fb8" fill-opacity="0.65"/>
<circle cx="97.6" cy="930.9" r="1.4" fill="#2a7fb8" fill-opacity="0.73"/>
<circle cx="72.3" cy="955.9" r="0.9" fill="#3a9ec0" fill-opacity="0.92"/>
<circle cx="45.1" cy="950.9" r="1.6" fill="#4aa8c8" fill-opacity="0.69"/>
<circle cx="63.4" cy="958.9" r="1.4" fill="#4aa8c8" fill-opacity="0.99"/>
<circle cx="49.1" cy="935.3" r="1.6" fill="#3a9ec0" fill-opacity="0.76"/>
<circle cx="83.2" cy="917.5" r="1.2" fill="#2a7fb8" fill-opacity="0.95"/>
<circle cx="53.2" cy="948.0" r="1.3" fill="#1f6ea8" fill-opacity="0.84"/>
<circle cx="52.6" cy="954.0" r="1.1" fill="#2a7fb8" fill-opacity="0.69"/>
<circle cx="61.9" cy="945.1" r="1.4" fill="#1d4f9c" fill-opacity="0.67"/>
<circle cx="49.4" cy="922.5" r="1.0" fill="#3a9ec0" fill-opacity="0.71"/>
<circle cx="95.7" cy="922.3" r="1.2" fill="#1d4f9c" fill-opacity="0.83"/>
<circle cx="42.1" cy="943.7" r="0.9" fill="#2a7fb8" fill-opacity="0.86"/>
<circle cx="86.0" cy="916.4" r="1.6" fill="#4aa8c8" fill-opacity="0.83"/>
<circle cx="73.2" cy="946.6" r="1.6" fill="#1d4f9c" fill-opacity="0.95"/>
<circle cx="42.5" cy="938.9" r="1.0" fill="#1f6ea8" fill-opacity="0.65"/>
<circle cx="59.5" cy="955.4" r="1.3" fill="#1b4a8a" fill-opacity="0.73"/>
<circle cx="78.3" cy="926.7" r="1.5" fill="#1b4a8a" fill-opacity="0.95"/>
<circle cx="93.7" cy="947.5" r="1.5" fill="#1d4f9c" fill-opacity="0.66"/>
<circle cx="90.2" cy="952.7" r="1.3" fill="#1f6ea8" fill-opacity="0.75"/>
<circle cx="81.8" cy="932.7" r="1.3" fill="#4aa8c8" fill-opacity="0.90"/>
<circle cx="50.4" cy="939.6" r="0.7" fill="#1d4f9c" fill-opacity="0.77"/>
<circle cx="69.6" cy="962.9" r="1.4" fill="#3a9ec0" fill-opacity="0.99"/>
<circle cx="73.2" cy="955.6" r="1.0" fill="#2f8fb5" fill-opacity="0.90"/>
<circle cx="65.0" cy="925.6" r="1.2" fill="#3a9ec0" fill-opacity="0.99"/>
<circle cx="47.7" cy="943.5" r="1.2" fill="#2f8fb5" fill-opacity="0.79"/>
<circle cx="54.8" cy="919.7" r="0.7" fill="#1f6ea8" fill-opacity="0.69"/>
<circle cx="96.4" cy="949.9" r="1.6" fill="#1f6ea8" fill-opacity="0.91"/>
<circle cx="89.4" cy="937.3" r="1.6" fill="#2f8fb5" fill-opacity="0.86"/>
<circle cx="56.7" cy="939.7" r="1.5" fill="#1b4a8a" fill-opacity="0.99"/>
<circle cx="52.2" cy="953.6" r="1.0" fill="#3a9ec0" fill-opacity="0.85"/>
<circle cx="42.0" cy="937.7" r="1.6" fill="#1d4f9c" fill-opacity="0.75"/>
<circle cx="84.8" cy="921.1" r="1.6" fill="#2f8fb5" fill-opacity="0.70"/>
<circle cx="44.8" cy="925.6" r="0.8" fill="#1d4f9c" fill-opacity="0.72"/>
<circle cx="92.5" cy="926.2" r="1.0" fill="#1b4a8a" fill-opacity="0.89"/>
<circle cx="72.2" cy="956.9" r="1.4" fill="#2f8fb5" fill-opacity="0.70"/>
<circle cx="68.8" cy="948.4" r="1.0" fill="#2a7fb8" fill-opacity="0.94"/>
<circle cx="65.6" cy="953.8" r="1.5" fill="#2a7fb8" fill-opacity="0.92"/>
<circle cx="48.1" cy="924.2" r="1.4" fill="#1f6ea8" fill-opacity="0.66"/>
<circle cx="72.1" cy="928.5" r="1.5" fill="#1f6ea8" fill-opacity="0.69"/>
<circle cx="90.4" cy="946.9" r="1.2" fill="#2a7fb8" fill-opacity="0.68"/>
<circle cx="56.1" cy="930.2" r="1.6" fill="#1d4f9c" fill-opacity="0.96"/>
<circle cx="48.5" cy="917.5" r="0.6" fill="#1d4f9c" fill-opacity="0.69"/>
<circle cx="99.0" cy="934.2" r="1.1" fill="#2f8fb5" fill-opacity="0.81"/>
<circle cx="45.9" cy="946.8" r="1.6" fill="#1b4a8a" fill-opacity="0.99"/>
<circle cx="69.6" cy="964.7" r="1.1" fill="#2f8fb5" fill-opacity="0.72"/>
<circle cx="94.0" cy="924.3" r="1.4" fill="#1f6ea8" fill-opacity="0.81"/>
<circle cx="95.9" cy="931.4" r="1.6" fill="#2f8fb5" fill-opacity="0.74"/>
<circle cx="90.7" cy="919.6" r="1.5" fill="#1d4f9c" fill-opacity="0.88"/>
<circle cx="64.9" cy="950.5" r="0.9" fill="#2f8fb5" fill-opacity="0.94"/>
<circle cx="77.7" cy="941.1" r="1.2" fill="#1f6ea8" fill-opacity="0.98"/>
<circle cx="61.5" cy="952.8" r="1.0" fill="#1b4a8a" fill-opacity="0.85"/>
<circle cx="93.2" cy="953.3" r="1.3" fill="#1b4a8a" fill-opacity="0.86"/>
<circle cx="96.1" cy="949.0" r="1.2" fill="#2f8fb5" fill-opacity="0.91"/>
<circle cx="53.2" cy="957.1" r="1.1" fill="#1b4a8a" fill-opacity="0.70"/>
<circle cx="88.9" cy="946.1" r="1.6" fill="#3a9ec0" fill-opacity="0.71"/>
<circle cx="61.2" cy="961.1" r="1.4" fill="#1b4a8a" fill-opacity="0.97"/>
<circle cx="80.4" cy="948.8" r="1.6" fill="#2f8fb5" fill-opacity="0.92"/>
<circle cx="57.5" cy="912.5" r="1.2" fill="#4aa8c8" fill-opacity="1.00"/>
<circle cx="57.1" cy="933.1" r="0.7" fill="#1b4a8a" fill-opacity="0.88"/>
<circle cx="79.5" cy="912.1" r="1.2" fill="#2a7fb8" fill-opacity="0.80"/>
<circle cx="82.7" cy="959.6" r="1.1" fill="#1b4a8a" fill-opacity="0.88"/>
<circle cx="88.0" cy="943.6" r="1.0" fill="#3a9ec0" fill-opacity="0.86"/>
<circle cx="68.3" cy="947.2" r="1.2" fill="#3a9ec0" fill-opacity="0.86"/>
<circle cx="42.4" cy="936.1" r="1.3" fill="#1d4f9c" fill-opacity="0.98"/>
<circle cx="61.0" cy="958.3" r="1.4" fill="#3a9ec0" fill-opacity="0.90"/>
<circle cx="67.8" cy="919.2" r="1.3" fill="#4aa8c8" fill-opacity="0.73"/>
<circle cx="52.7" cy="913.7" r="1.0" fill="#2a7fb8" fill-opacity="0.92"/>
<circle cx="60.3" cy="910.1" r="1.5" fill="#1f6ea8" fill-opacity="0.71"/>
<circle cx="91.7" cy="949.0" r="0.8" fill="#2a7fb8" fill-opacity="0.99"/>
<circle cx="76.0" cy="964.6" r="1.2" fill="#1b4a8a" fill-opacity="0.92"/>
<circle cx="56.5" cy="920.4" r="1.0" fill="#1b4a8a" fill-opacity="0.71"/>
<circle cx="79.4" cy="912.1" r="1.3" fill="#1f6ea8" fill-opacity="0.91"/>
<circle cx="78.7" cy="934.6" r="1.3" fill="#4aa8c8" fill-opacity="0.89"/>
<circle cx="70.7" cy="944.8" r="1.5" fill="#1b4a8a" fill-opacity="0.97"/>
<circle cx="52.8" cy="943.4" r="1.3" fill="#1d4f9c" fill-opacity="0.99"/>
<circle cx="61.6" cy="941.9" r="0.8" fill="#1f6ea8" fill-opacity="0.75"/>
<circle cx="88.0" cy="931.7" r="1.2" fill="#2a7fb8" fill-opacity="0.66"/>
<circle cx="82.3" cy="916.0" r="0.8" fill="#1f6ea8" fill-opacity="0.70"/>
<circle cx="70.8" cy="923.0" r="1.5" fill="#1d4f9c" fill-opacity="0.93"/>
<circle cx="44.5" cy="928.8" r="1.1" fill="#1b4a8a" fill-opacity="0.69"/>
<circle cx="74.0" cy="949.4" r="1.5" fill="#1b4a8a" fill-opacity="0.66"/>
<circle cx="57.0" cy="910.8" r="1.4" fill="#4aa8c8" fill-opacity="0.70"/>
<circle cx="62.3" cy="955.8" r="1.2" fill="#1f6ea8" fill-opacity="0.92"/>
<circle cx="54.3" cy="958.1" r="1.2" fill="#1f6ea8" fill-opacity="0.92"/>
<circle cx="55.4" cy="916.6" r="1.0" fill="#3a9ec0" fill-opacity="0.84"/>
<circle cx="65.1" cy="907.0" r="1.4" fill="#4aa8c8" fill-opacity="0.83"/>
<circle cx="85.2" cy="910.8" r="1.1" fill="#4aa8c8" fill-opacity="0.90"/>
<circle cx="42.1" cy="945.6" r="1.3" fill="#3a9ec0" fill-opacity="0.78"/>
<circle cx="68.6" cy="937.1" r="1.1" fill="#1b4a8a" fill-opacity="0.87"/>
<circle cx="99.0" cy="930.3" r="0.7" fill="#4aa8c8" fill-opacity="0.74"/>
<circle cx="99.3" cy="940.1" r="1.4" fill="#3a9ec0" fill-opacity="0.87"/>
<circle cx="86.6" cy="912.6" r="1.4" fill="#1b4a8a" fill-opacity="0.92"/>
<circle cx="71.1" cy="933.4" r="1.1" fill="#4aa8c8" fill-opacity="0.84"/>
<circle cx="58.6" cy="937.4" r="1.1" fill="#2f8fb5" fill-opacity="0.74"/>
<circle cx="78.7" cy="940.3" r="0.7" fill="#1d4f9c" fill-opacity="0.66"/>
<circle cx="62.4" cy="916.5" r="1.1" fill="#4aa8c8" fill-opacity="0.75"/>
<circle cx="71.5" cy="952.7" r="1.0" fill="#2f8fb5" fill-opacity="0.68"/>
<circle cx="51.8" cy="956.3" r="1.2" fill="#4aa8c8" fill-opacity="0.67"/>
<circle cx="86.4" cy="935.9" r="1.2" fill="#1f6ea8" fill-opacity="0.86"/>
<circle cx="76.9" cy="949.0" r="1.5" fill="#1b4a8a" fill-opacity="0.86"/>
<circle cx="50.8" cy="920.2" r="0.9" fill="#4aa8c8" fill-opacity="0.66"/>
<circle cx="58.7" cy="962.1" r="1.1" fill="#1b4a8a" fill-opacity="0.74"/>
<circle cx="88.8" cy="916.8" r="1.2" fill="#2a7fb8" fill-opacity="0.97"/>
<circle cx="68.3" cy="961.7" r="1.2" fill="#3a9ec0" fill-opacity="0.92"/>
<circle cx="59.9" cy="962.5" r="1.1" fill="#2f8fb5" fill-opacity="0.90"/>
<circle cx="90.0" cy="952.0" r="1.0" fill="#1d4f9c" fill-opacity="0.98"/>
<circle cx="96.5" cy="940.2" r="1.4" fill="#4aa8c8" fill-opacity="0.66"/>
<circle cx="94.6" cy="930.7" r="1.3" fill="#1f6ea8" fill-opacity="0.88"/>
<circle cx="77.5" cy="950.1" r="0.9" fill="#3a9ec0" fill-opacity="0.82"/>
<circle cx="82.5" cy="910.1" r="1.1" fill="#2a7fb8" fill-opacity="0.79"/>
<circle cx="50.2" cy="936.8" r="0.7" fill="#3a9ec0" fill-opacity="1.00"/>
<circle cx="74.2" cy="931.3" r="1.0" fill="#1d4f9c" fill-opacity="0.95"/>
<circle cx="83.3" cy="910.2" r="1.3" fill="#1b4a8a" fill-opacity="0.97"/>
<circle cx="95.7" cy="945.9" r="1.0" fill="#3a9ec0" fill-opacity="0.68"/>
<circle cx="94.2" cy="938.5" r="1.2" fill="#2a7fb8" fill-opacity="0.94"/>
<circle cx="74.8" cy="940.4" r="0.7" fill="#2f8fb5" fill-opacity="0.82"/>
<circle cx="74.6" cy="926.5" r="0.8" fill="#1d4f9c" fill-opacity="0.79"/>
<circle cx="55.3" cy="917.9" r="0.9" fill="#2f8fb5" fill-opacity="0.86"/>
<circle cx="61.2" cy="909.6" r="1.3" fill="#2f8fb5" fill-opacity="0.97"/>
<circle cx="64.9" cy="914.9" r="1.2" fill="#4aa8c8" fill-opacity="0.67"/>
<circle cx="85.4" cy="933.6" r="0.7" fill="#3a9ec0" fill-opacity="0.99"/>
<circle cx="77.3" cy="927.1" r="1.5" fill="#2f8fb5" fill-opacity="0.87"/>
<circle cx="41.7" cy="936.1" r="0.7" fill="#1f6ea8" fill-opacity="0.66"/>
<circle cx="85.2" cy="952.0" r="1.0" fill="#4aa8c8" fill-opacity="0.96"/>
<circle cx="67.7" cy="956.0" r="0.9" fill="#1f6ea8" fill-opacity="0.68"/>
<circle cx="69.6" cy="930.8" r="1.0" fill="#3a9ec0" fill-opacity="0.74"/>
<circle cx="92.8" cy="951.4" r="1.5" fill="#2a7fb8" fill-opacity="0.85"/>
<circle cx="73.8" cy="919.6" r="1.6" fill="#2a7fb8" fill-opacity="0.82"/>
<circle cx="59.6" cy="934.7" r="1.2" fill="#1b4a8a" fill-opacity="0.94"/>
<circle cx="90.1" cy="921.2" r="1.5" fill="#1f6ea8" fill-opacity="0.91"/>
<circle cx="64.2" cy="948.2" r="1.1" fill="#3a9ec0" fill-opacity="0.85"/>
<circle cx="66.6" cy="931.2" r="1.0" fill="#1f6ea8" fill-opacity="0.76"/>
<circle cx="54.8" cy="934.3" r="0.6" fill="#2f8fb5" fill-opacity="0.70"/>
<circle cx="56.9" cy="961.5" r="0.7" fill="#1f6ea8" fill-opacity="0.82"/>
<circle cx="98.2" cy="930.9" r="1.5" fill="#2f8fb5" fill-opacity="0.97"/>
<circle cx="45.5" cy="923.6" r="1.7" fill="#1b4a8a" fill-opacity="0.74"/>
<circle cx="92.7" cy="935.0" r="1.5" fill="#1f6ea8" fill-opacity="0.79"/>
<circle cx="50.3" cy="932.2" r="0.8" fill="#3a9ec0" fill-opacity="0.74"/>
<circle cx="73.2" cy="907.1" r="1.6" fill="#2a7fb8" fill-opacity="0.67"/>
<circle cx="69.3" cy="945.6" r="0.7" fill="#1f6ea8" fill-opacity="0.67"/>
<circle cx="84.0" cy="918.5" r="1.5" fill="#3a9ec0" fill-opacity="0.88"/>
<circle cx="82.5" cy="938.0" r="1.0" fill="#1b4a8a" fill-opacity="0.82"/>
<circle cx="78.4" cy="961.8" r="1.1" fill="#3a9ec0" fill-opacity="0.80"/>
<circle cx="93.2" cy="928.0" r="1.5" fill="#4aa8c8" fill-opacity="0.68"/>
<circle cx="47.4" cy="951.3" r="0.6" fill="#2a7fb8" fill-opacity="0.92"/>
<circle cx="52.6" cy="948.5" r="1.6" fill="#1b4a8a" fill-opacity="0.85"/>
<circle cx="89.6" cy="934.8" r="0.6" fill="#1f6ea8" fill-opacity="0.89"/>
<circle cx="80.6" cy="914.8" r="1.2" fill="#4aa8c8" fill-opacity="0.76"/>
<circle cx="96.4" cy="935.3" r="0.9" fill="#1d4f9c" fill-opacity="0.84"/>
<circle cx="47.6" cy="951.0" r="1.3" fill="#1f6ea8" fill-opacity="0.81"/>
<circle cx="77.1" cy="944.6" r="1.4" fill="#3a9ec0" fill-opacity="0.74"/>
<circle cx="68.7" cy="933.8" r="0.7" fill="#1d4f9c" fill-opacity="0.79"/>
<circle cx="56.3" cy="911.1" r="1.6" fill="#2f8fb5" fill-opacity="0.95"/>
<circle cx="75.4" cy="918.6" r="1.0" fill="#4aa8c8" fill-opacity="0.95"/>
<circle cx="78.8" cy="911.6" r="1.1" fill="#3a9ec0" fill-opacity="0.80"/>
<circle cx="88.3" cy="913.9" r="1.2" fill="#1f6ea8" fill-opacity="0.98"/>
<circle cx="65.8" cy="954.9" r="1.1" fill="#1f6ea8" fill-opacity="0.80"/>
<circle cx="64.5" cy="910.6" r="1.1" fill="#1d4f9c" fill-opacity="0.90"/>
<circle cx="73.6" cy="962.0" r="0.7" fill="#1f6ea8" fill-opacity="0.70"/>
<circle cx="80.6" cy="961.5" r="0.6" fill="#1d4f9c" fill-opacity="0.86"/>
<circle cx="41.2" cy="929.9" r="1.0" fill="#4aa8c8" fill-opacity="0.99"/>
<circle cx="61.8" cy="940.9" r="1.3" fill="#2f8fb5" fill-opacity="1.00"/>
<circle cx="62.6" cy="910.8" r="0.7" fill="#3a9ec0" fill-opacity="0.89"/>
<circle cx="65.9" cy="928.6" r="0.9" fill="#2a7fb8" fill-opacity="0.82"/>
<circle cx="51.7" cy="938.7" r="0.8" fill="#2a7fb8" fill-opacity="0.97"/>
<circle cx="58.6" cy="943.0" r="1.6" fill="#2a7fb8" fill-opacity="0.75"/>
<circle cx="50.1" cy="930.5" r="0.9" fill="#1b4a8a" fill-opacity="0.87"/>
<circle cx="66.7" cy="909.7" r="1.0" fill="#4aa8c8" fill-opacity="0.74"/>
<circle cx="71.6" cy="914.4" r="1.5" fill="#3a9ec0" fill-opacity="0.83"/>
<circle cx="79.4" cy="948.7" r="0.9" fill="#1d4f9c" fill-opacity="0.85"/>
<circle cx="47.6" cy="931.6" r="1.3" fill="#3a9ec0" fill-opacity="0.98"/>
<circle cx="64.9" cy="950.8" r="1.1" fill="#1d4f9c" fill-opacity="0.78"/>
<circle cx="54.1" cy="923.7" r="0.8" fill="#2a7fb8" fill-opacity="0.89"/>
<circle cx="59.7" cy="909.7" r="1.3" fill="#1b4a8a" fill-opacity="1.00"/>
<circle cx="56.5" cy="938.0" r="0.8" fill="#3a9ec0" fill-opacity="0.89"/>
<circle cx="76.9" cy="923.9" r="0.7" fill="#3a9ec0" fill-opacity="0.89"/>
<circle cx="90.8" cy="918.0" r="1.1" fill="#2f8fb5" fill-opacity="0.92"/>
<circle cx="75.2" cy="962.8" r="1.4" fill="#1f6ea8" fill-opacity="0.89"/>
<circle cx="46.4" cy="918.7" r="1.2" fill="#2f8fb5" fill-opacity="0.69"/>
<circle cx="86.5" cy="956.9" r="1.2" fill="#1f6ea8" fill-opacity="0.68"/>
<circle cx="66.7" cy="964.7" r="0.7" fill="#2f8fb5" fill-opacity="0.68"/>
<circle cx="64.8" cy="908.1" r="1.4" fill="#2f8fb5" fill-opacity="0.89"/>
<circle cx="63.4" cy="950.3" r="1.6" fill="#1f6ea8" fill-opacity="0.97"/>
<circle cx="88.8" cy="955.1" r="1.6" fill="#1f6ea8" fill-opacity="0.79"/>
<circle cx="46.0" cy="932.0" r="1.2" fill="#2a7fb8" fill-opacity="0.98"/>
<circle cx="64.9" cy="951.8" r="0.8" fill="#2a7fb8" fill-opacity="0.83"/>
<circle cx="58.8" cy="941.3" r="1.2" fill="#1f6ea8" fill-opacity="0.84"/>
<circle cx="90.5" cy="956.9" r="1.4" fill="#4aa8c8" fill-opacity="0.78"/>
<circle cx="47.0" cy="929.6" r="1.5" fill="#4aa8c8" fill-opacity="0.83"/>
<circle cx="48.8" cy="943.9" r="0.8" fill="#2f8fb5" fill-opacity="0.97"/>
<circle cx="72.6" cy="947.3" r="1.5" fill="#1b4a8a" fill-opacity="0.92"/>
<circle cx="80.3" cy="951.2" r="1.5" fill="#1b4a8a" fill-opacity="0.80"/>
<circle cx="68.9" cy="946.5" r="1.3" fill="#1b4a8a" fill-opacity="0.87"/>
<circle cx="99.2" cy="938.1" r="1.5" fill="#3a9ec0" fill-opacity="0.78"/>
<circle cx="48.6" cy="941.9" r="1.4" fill="#2a7fb8" fill-opacity="0.89"/>
<circle cx="57.2" cy="945.0" r="1.1" fill="#2f8fb5" fill-opacity="0.81"/>
<circle cx="76.0" cy="936.3" r="0.7" fill="#2f8fb5" fill-opacity="0.86"/>
<circle cx="49.6" cy="929.5" r="1.5" fill="#2a7fb8" fill-opacity="0.97"/>
<circle cx="80.4" cy="914.5" r="0.9" fill="#1b4a8a" fill-opacity="0.87"/>
<circle cx="76.9" cy="929.3" r="0.8" fill="#2f8fb5" fill-opacity="0.97"/>
<circle cx="60.7" cy="950.0" r="1.3" fill="#1b4a8a" fill-opacity="0.97"/>
<circle cx="55.4" cy="954.5" r="1.4" fill="#1f6ea8" fill-opacity="0.80"/>
<circle cx="45.5" cy="933.3" r="0.7" fill="#4aa8c8" fill-opacity="0.69"/>
<circle cx="55.2" cy="921.1" r="1.6" fill="#1b4a8a" fill-opacity="0.90"/>
<circle cx="50.7" cy="953.9" r="1.5" fill="#3a9ec0" fill-opacity="0.79"/>
<circle cx="84.2" cy="934.1" r="1.0" fill="#3a9ec0" fill-opacity="0.92"/>
<circle cx="50.0" cy="937.2" r="1.4" fill="#4aa8c8" fill-opacity="0.98"/>
<circle cx="84.4" cy="949.7" r="1.1" fill="#1f6ea8" fill-opacity="0.94"/>
<circle cx="79.1" cy="943.6" r="0.7" fill="#2f8fb5" fill-opacity="0.98"/>
<circle cx="50.0" cy="936.0" r="1.5" fill="#3a9ec0" fill-opacity="0.70"/>
<circle cx="42.1" cy="942.7" r="1.5" fill="#4aa8c8" fill-opacity="0.91"/>
<circle cx="48.2" cy="954.3" r="0.6" fill="#1b4a8a" fill-opacity="0.74"/>
<circle cx="55.0" cy="911.5" r="0.7" fill="#2a7fb8" fill-opacity="0.98"/>
<circle cx="42.8" cy="934.0" r="1.1" fill="#1b4a8a" fill-opacity="0.66"/>
<circle cx="48.9" cy="918.3" r="1.7" fill="#2f8fb5" fill-opacity="0.74"/>
<circle cx="49.5" cy="954.1" r="1.2" fill="#4aa8c8" fill-opacity="0.94"/>
<circle cx="71.3" cy="930.1" r="0.7" fill="#1b4a8a" fill-opacity="0.76"/>
<circle cx="57.2" cy="927.5" r="1.7" fill="#4aa8c8" fill-opacity="0.94"/>
<circle cx="96.3" cy="935.0" r="1.5" fill="#2a7fb8" fill-opacity="0.71"/>
<circle cx="75.9" cy="954.1" r="1.5" fill="#1f6ea8" fill-opacity="0.97"/>
<circle cx="77.1" cy="949.8" r="1.4" fill="#2f8fb5" fill-opacity="0.91"/>
<circle cx="53.3" cy="959.7" r="0.9" fill="#1d4f9c" fill-opacity="0.65"/>
<circle cx="74.6" cy="965.1" r="0.7" fill="#2a7fb8" fill-opacity="0.84"/>
<circle cx="79.4" cy="926.7" r="1.2" fill="#2a7fb8" fill-opacity="0.81"/>
<circle cx="85.1" cy="957.7" r="1.3" fill="#2f8fb5" fill-opacity="0.91"/>
<circle cx="54.7" cy="926.3" r="0.8" fill="#2a7fb8" fill-opacity="0.84"/>
<circle cx="88.6" cy="958.3" r="0.8" fill="#4aa8c8" fill-opacity="1.00"/>
<circle cx="73.0" cy="953.9" r="1.4" fill="#1f6ea8" fill-opacity="0.82"/>
<circle cx="65.3" cy="951.6" r="1.4" fill="#2f8fb5" fill-opacity="0.75"/>
<circle cx="50.1" cy="918.5" r="1.4" fill="#1f6ea8" fill-opacity="0.87"/>
<circle cx="73.8" cy="942.0" r="0.8" fill="#4aa8c8" fill-opacity="0.94"/>
<circle cx="61.6" cy="931.1" r="1.4" fill="#2a7fb8" fill-opacity="0.83"/>
<circle cx="67.5" cy="926.3" r="1.5" fill="#1d4f9c" fill-opacity="0.88"/>
<circle cx="51.3" cy="926.2" r="1.4" fill="#4aa8c8" fill-opacity="0.69"/>
<circle cx="60.6" cy="945.6" r="1.1" fill="#2a7fb8" fill-opacity="0.73"/>
<circle cx="44.6" cy="927.2" r="0.9" fill="#1d4f9c" fill-opacity="0.99"/>
<circle cx="66.6" cy="962.2" r="0.7" fill="#1b4a8a" fill-opacity="0.94"/>
<circle cx="43.4" cy="938.2" r="1.0" fill="#4aa8c8" fill-opacity="0.84"/>
<circle cx="94.0" cy="952.3" r="1.3" fill="#2f8fb5" fill-opacity="0.95"/>
<circle cx="41.1" cy="935.9" r="1.5" fill="#1d4f9c" fill-opacity="0.83"/>
<circle cx="79.7" cy="927.1" r="1.7" fill="#1b4a8a" fill-opacity="0.99"/>
<circle cx="47.4" cy="917.3" r="1.6" fill="#1b4a8a" fill-opacity="0.97"/>
<circle cx="98.0" cy="934.6" r="1.5" fill="#1d4f9c" fill-opacity="0.68"/>
<circle cx="53.3" cy="928.0" r="0.9" fill="#1f6ea8" fill-opacity="0.97"/>
<circle cx="50.8" cy="929.7" r="1.6" fill="#1d4f9c" fill-opacity="0.66"/>
<circle cx="74.8" cy="920.5" r="1.3" fill="#2a7fb8" fill-opacity="0.95"/>
<circle cx="73.8" cy="921.0" r="1.4" fill="#1d4f9c" fill-opacity="0.79"/>
<circle cx="97.0" cy="942.6" r="1.2" fill="#2f8fb5" fill-opacity="0.97"/>
<circle cx="53.8" cy="930.9" r="1.3" fill="#2a7fb8" fill-opacity="0.68"/>
<circle cx="56.2" cy="960.2" r="1.6" fill="#2a7fb8" fill-opacity="0.65"/>
<circle cx="72.9" cy="947.9" r="1.6" fill="#3a9ec0" fill-opacity="0.86"/>
<circle cx="53.6" cy="945.3" r="1.0" fill="#1f6ea8" fill-opacity="0.95"/>
<circle cx="50.1" cy="914.7" r="1.5" fill="#1f6ea8" fill-opacity="0.91"/>
<circle cx="74.4" cy="918.0" r="0.7" fill="#4aa8c8" fill-opacity="0.71"/>
<circle cx="95.2" cy="950.7" r="0.9" fill="#4aa8c8" fill-opacity="0.87"/>
<circle cx="96.0" cy="944.2" r="1.2" fill="#1b4a8a" fill-opacity="0.96"/>
<circle cx="96.4" cy="949.7" r="1.0" fill="#1f6ea8" fill-opacity="0.95"/>
<circle cx="63.1" cy="944.5" r="1.4" fill="#2f8fb5" fill-opacity="1.00"/>
<circle cx="62.8" cy="909.7" r="1.4" fill="#4aa8c8" fill-opacity="0.96"/>
<circle cx="76.5" cy="954.7" r="0.8" fill="#3a9ec0" fill-opacity="0.99"/>
<circle cx="49.7" cy="941.8" r="1.5" fill="#1f6ea8" fill-opacity="0.99"/>
<circle cx="67.3" cy="919.3" r="0.9" fill="#4aa8c8" fill-opacity="0.65"/>
<circle cx="42.9" cy="927.1" r="0.6" fill="#1b4a8a" fill-opacity="0.96"/>
<circle cx="78.2" cy="961.1" r="1.1" fill="#3a9ec0" fill-opacity="0.82"/>
<circle cx="59.8" cy="921.4" r="0.8" fill="#3a9ec0" fill-opacity="0.72"/>
<circle cx="49.7" cy="924.8" r="1.3" fill="#1f6ea8" fill-opacity="0.66"/>
<circle cx="56.2" cy="912.8" r="1.6" fill="#1d4f9c" fill-opacity="0.94"/>
<circle cx="56.5" cy="918.2" r="0.8" fill="#2a7fb8" fill-opacity="0.93"/>
<circle cx="43.4" cy="925.0" r="1.2" fill="#2a7fb8" fill-opacity="0.95"/>
<circle cx="89.3" cy="923.4" r="1.4" fill="#2a7fb8" fill-opacity="0.81"/>
<circle cx="43.3" cy="932.1" r="1.2" fill="#1b4a8a" fill-opacity="0.79"/>
<circle cx="92.0" cy="938.3" r="1.4" fill="#1b4a8a" fill-opacity="0.81"/>
<circle cx="43.8" cy="946.0" r="1.4" fill="#1f6ea8" fill-opacity="0.89"/>
<circle cx="48.4" cy="945.3" r="1.3" fill="#1f6ea8" fill-opacity="0.96"/>
<circle cx="42.6" cy="929.0" r="0.7" fill="#1d4f9c" fill-opacity="0.66"/>
<circle cx="74.2" cy="919.4" r="1.5" fill="#3a9ec0" fill-opacity="0.90"/>
<circle cx="77.6" cy="920.9" r="0.7" fill="#1b4a8a" fill-opacity="0.89"/>
<circle cx="73.4" cy="965.3" r="1.6" fill="#4aa8c8" fill-opacity="0.89"/>
<circle cx="70.2" cy="910.4" r="1.3" fill="#1f6ea8" fill-opacity="0.75"/>
<circle cx="51.4" cy="940.9" r="1.5" fill="#2f8fb5" fill-opacity="0.98"/>
<circle cx="88.6" cy="941.3" r="0.9" fill="#3a9ec0" fill-opacity="0.74"/>
<circle cx="81.0" cy="951.6" r="1.7" fill="#4aa8c8" fill-opacity="0.90"/>
<circle cx="63.3" cy="919.8" r="1.1" fill="#3a9ec0" fill-opacity="0.89"/>
<circle cx="65.2" cy="934.6" r="1.5" fill="#2a7fb8" fill-opacity="0.82"/>
<circle cx="80.3" cy="911.0" r="1.3" fill="#1d4f9c" fill-opacity="0.65"/>
<circle cx="42.3" cy="936.1" r="1.5" fill="#4aa8c8" fill-opacity="0.88"/>
<circle cx="43.1" cy="947.7" r="1.5" fill="#2f8fb5" fill-opacity="0.69"/>
<circle cx="84.9" cy="951.9" r="1.6" fill="#2f8fb5" fill-opacity="0.73"/>
<circle cx="65.0" cy="912.4" r="0.7" fill="#2f8fb5" fill-opacity="0.65"/>
<circle cx="91.9" cy="938.9" r="0.6" fill="#3a9ec0" fill-opacity="0.81"/>
<circle cx="55.0" cy="934.2" r="1.6" fill="#3a9ec0" fill-opacity="0.72"/>
<circle cx="43.8" cy="926.7" r="1.1" fill="#1f6ea8" fill-opacity="0.76"/>
<circle cx="59.9" cy="935.9" r="0.7" fill="#3a9ec0" fill-opacity="0.73"/>
<circle cx="80.4" cy="943.5" r="1.5" fill="#4aa8c8" fill-opacity="0.70"/>
<circle cx="63.5" cy="965.2" r="1.0" fill="#2a7fb8" fill-opacity="0.68"/>
<circle cx="75.5" cy="948.5" r="0.7" fill="#2f8fb5" fill-opacity="0.91"/>
<circle cx="74.0" cy="926.9" r="0.9" fill="#1f6ea8" fill-opacity="0.90"/>
<circle cx="66.5" cy="915.0" r="1.4" fill="#1b4a8a" fill-opacity="0.72"/>
<circle cx="82.6" cy="923.8" r="1.3" fill="#2a7fb8" fill-opacity="0.78"/>
<circle cx="83.1" cy="913.6" r="1.1" fill="#1f6ea8" fill-opacity="0.97"/>
<circle cx="78.9" cy="908.1" r="1.6" fill="#2a7fb8" fill-opacity="0.76"/>
<circle cx="84.6" cy="910.7" r="1.1" fill="#1f6ea8" fill-opacity="0.77"/>
<circle cx="88.8" cy="938.3" r="0.8" fill="#3a9ec0" fill-opacity="0.76"/>
<circle cx="68.7" cy="925.8" r="0.8" fill="#4aa8c8" fill-opacity="0.87"/>
<circle cx="72.7" cy="963.6" r="1.3" fill="#3a9ec0" fill-opacity="0.75"/>
<circle cx="52.5" cy="959.6" r="1.1" fill="#2f8fb5" fill-opacity="0.95"/>
<circle cx="41.8" cy="930.0" r="1.7" fill="#4aa8c8" fill-opacity="0.98"/>
<circle cx="54.2" cy="954.2" r="1.6" fill="#1f6ea8" fill-opacity="0.95"/>
<circle cx="56.9" cy="913.6" r="1.0" fill="#2f8fb5" fill-opacity="0.71"/>
<circle cx="83.9" cy="924.2" r="1.4" fill="#1b4a8a" fill-opacity="0.72"/>
<circle cx="63.3" cy="949.4" r="1.1" fill="#1f6ea8" fill-opacity="0.92"/>
<circle cx="57.2" cy="930.3" r="0.8" fill="#3a9ec0" fill-opacity="0.73"/>
<circle cx="81.3" cy="954.4" r="0.7" fill="#2a7fb8" fill-opacity="0.83"/>
<circle cx="93.5" cy="920.2" r="1.2" fill="#1d4f9c" fill-opacity="0.95"/>
<circle cx="78.3" cy="954.3" r="1.5" fill="#3a9ec0" fill-opacity="0.80"/>
<circle cx="70.9" cy="928.2" r="0.8" fill="#3a9ec0" fill-opacity="0.66"/>
<circle cx="49.8" cy="956.0" r="0.9" fill="#16346e" fill-opacity="0.9"/>
<circle cx="93.8" cy="950.7" r="1.4" fill="#16346e" fill-opacity="0.9"/>
<circle cx="56.0" cy="960.3" r="1.6" fill="#23407a" fill-opacity="0.9"/>
<circle cx="84.2" cy="958.9" r="1.3" fill="#16346e" fill-opacity="0.9"/>
<circle cx="43.4" cy="936.3" r="1.1" fill="#1d4a8c" fill-opacity="0.9"/>
<circle cx="51.4" cy="959.5" r="1.4" fill="#1d4a8c" fill-opacity="0.9"/>
<circle cx="45.2" cy="924.0" r="1.3" fill="#1d4a8c" fill-opacity="0.9"/>
<circle cx="43.6" cy="940.8" r="1.4" fill="#1d4a8c" fill-opacity="0.9"/>
<circle cx="85.2" cy="962.3" r="1.1" fill="#1d4a8c" fill-opacity="0.9"/>
<circle cx="46.9" cy="949.9" r="0.8" fill="#16346e" fill-opacity="0.9"/>
<circle cx="76.3" cy="963.4" r="1.7" fill="#16346e" fill-opacity="0.9"/>
<circle cx="64.6" cy="907.8" r="1.3" fill="#1d4a8c" fill-opacity="0.9"/>
<circle cx="84.4" cy="960.3" r="1.2" fill="#1d4a8c" fill-opacity="0.9"/>
<circle cx="60.7" cy="909.1" r="1.0" fill="#1d4a8c" fill-opacity="0.9"/>
<circle cx="54.7" cy="961.5" r="0.8" fill="#23407a" fill-opacity="0.9"/>
<circle cx="98.6" cy="943.3" r="1.3" fill="#23407a" fill-opacity="0.9"/>
<circle cx="69.1" cy="964.6" r="1.0" fill="#23407a" fill-opacity="0.9"/>
<circle cx="66.5" cy="964.4" r="1.4" fill="#23407a" fill-opacity="0.9"/>
<circle cx="81.0" cy="962.6" r="1.6" fill="#1d4a8c" fill-opacity="0.9"/>
<circle cx="56.6" cy="959.8" r="1.5" fill="#1d4a8c" fill-opacity="0.9"/>
<circle cx="46.7" cy="949.6" r="1.0" fill="#16346e" fill-opacity="0.9"/>
<circle cx="97.5" cy="928.2" r="1.4" fill="#16346e" fill-opacity="0.9"/>
<circle cx="64.6" cy="963.8" r="1.7" fill="#23407a" fill-opacity="0.9"/>
<circle cx="70.0" cy="966.2" r="1.8" fill="#1d4a8c" fill-opacity="0.9"/>
<circle cx="41.0" cy="941.2" r="1.1" fill="#16346e" fill-opacity="0.9"/>
<circle cx="43.5" cy="931.2" r="1.0" fill="#23407a" fill-opacity="0.9"/>
<circle cx="66.5" cy="964.6" r="1.0" fill="#23407a" fill-opacity="0.9"/>
<circle cx="46.8" cy="952.2" r="1.0" fill="#23407a" fill-opacity="0.9"/>
<circle cx="41.2" cy="942.0" r="0.9" fill="#1d4a8c" fill-opacity="0.9"/>
<circle cx="92.6" cy="952.3" r="1.7" fill="#1d4a8c" fill-opacity="0.9"/>
<circle cx="48.1" cy="952.1" r="0.9" fill="#23407a" fill-opacity="0.9"/>
<circle cx="96.3" cy="950.5" r="1.2" fill="#1d4a8c" fill-opacity="0.9"/>
<circle cx="97.9" cy="942.8" r="1.0" fill="#23407a" fill-opacity="0.9"/>
<circle cx="43.9" cy="947.3" r="1.6" fill="#16346e" fill-opacity="0.9"/>
<circle cx="46.4" cy="949.2" r="0.8" fill="#16346e" fill-opacity="0.9"/>
<circle cx="44.6" cy="945.6" r="1.0" fill="#1d4a8c" fill-opacity="0.9"/>
<circle cx="93.1" cy="953.3" r="0.9" fill="#1d4a8c" fill-opacity="0.9"/>
<circle cx="84.4" cy="961.7" r="0.9" fill="#1d4a8c" fill-opacity="0.9"/>
<circle cx="45.1" cy="949.0" r="1.5" fill="#1d4a8c" fill-opacity="0.9"/>
<circle cx="82.6" cy="961.7" r="0.9" fill="#16346e" fill-opacity="0.9"/>
<circle cx="76.4" cy="964.9" r="1.3" fill="#16346e" fill-opacity="0.9"/>
<circle cx="99.0" cy="943.7" r="1.0" fill="#1d4a8c" fill-opacity="0.9"/>
<circle cx="47.7" cy="953.1" r="1.2" fill="#23407a" fill-opacity="0.9"/>
<circle cx="60.9" cy="963.2" r="1.4" fill="#1d4a8c" fill-opacity="0.9"/>
<circle cx="95.2" cy="946.6" r="1.0" fill="#16346e" fill-opacity="0.9"/>
<circle cx="70.2" cy="936.3" r="32.3" fill="none" stroke="#18284e" stroke-width="2.2"/>
<circle cx="156.2" cy="936.3" r="32.2" fill="#f3f6f3"/>
<circle cx="183.4" cy="946.4" r="0.7" fill="#2a6aa8" fill-opacity="0.91"/>
<circle cx="134.8" cy="919.3" r="1.2" fill="#2a6aa8" fill-opacity="1.00"/>
<circle cx="171.4" cy="918.0" r="1.1" fill="#2f8fb5" fill-opacity="0.84"/>
<circle cx="185.3" cy="941.4" r="1.1" fill="#2f8fb5" fill-opacity="0.97"/>
<circle cx="166.1" cy="952.9" r="0.8" fill="#2a6aa8" fill-opacity="0.66"/>
<circle cx="183.9" cy="936.1" r="1.3" fill="#2a6aa8" fill-opacity="1.00"/>
<circle cx="136.6" cy="933.2" r="1.5" fill="#2f8fb5" fill-opacity="0.93"/>
<circle cx="173.4" cy="932.1" r="0.8" fill="#17406e" fill-opacity="0.90"/>
<circle cx="136.1" cy="937.6" r="1.5" fill="#3a9ec0" fill-opacity="0.83"/>
<circle cx="130.8" cy="943.7" r="1.5" fill="#2f8fb5" fill-opacity="0.85"/>
<circle cx="127.8" cy="938.7" r="0.8" fill="#2f8fb5" fill-opacity="0.94"/>
<circle cx="136.0" cy="918.2" r="1.4" fill="#17406e" fill-opacity="0.76"/>
<circle cx="127.2" cy="935.5" r="1.1" fill="#3a9ec0" fill-opacity="0.86"/>
<circle cx="181.6" cy="925.2" r="1.2" fill="#1d4f8c" fill-opacity="0.92"/>
<circle cx="182.7" cy="935.8" r="0.7" fill="#3a9ec0" fill-opacity="0.88"/>
<circle cx="176.8" cy="952.6" r="1.1" fill="#2f8fb5" fill-opacity="0.74"/>
<circle cx="144.1" cy="942.6" r="1.3" fill="#1d4f8c" fill-opacity="0.67"/>
<circle cx="178.4" cy="955.9" r="0.7" fill="#1d4f8c" fill-opacity="0.91"/>
<circle cx="170.8" cy="958.4" r="0.8" fill="#1d4f8c" fill-opacity="0.78"/>
<circle cx="159.8" cy="941.3" r="0.6" fill="#2f8fb5" fill-opacity="0.98"/>
<circle cx="150.9" cy="959.2" r="1.1" fill="#2f8fb5" fill-opacity="0.81"/>
<circle cx="177.4" cy="921.3" r="1.4" fill="#3a9ec0" fill-opacity="0.90"/>
<circle cx="145.2" cy="961.1" r="0.7" fill="#17406e" fill-opacity="0.93"/>
<circle cx="161.8" cy="907.9" r="1.1" fill="#2f8fb5" fill-opacity="0.70"/>
<circle cx="132.2" cy="949.5" r="0.6" fill="#3a9ec0" fill-opacity="0.99"/>
<circle cx="170.2" cy="962.0" r="1.1" fill="#2a6aa8" fill-opacity="0.83"/>
<circle cx="185.6" cy="935.3" r="0.8" fill="#17406e" fill-opacity="0.68"/>
<circle cx="137.3" cy="917.6" r="1.0" fill="#17406e" fill-opacity="0.75"/>
<circle cx="171.3" cy="960.2" r="1.1" fill="#1d4f8c" fill-opacity="0.73"/>
<circle cx="162.1" cy="964.5" r="1.1" fill="#17406e" fill-opacity="0.81"/>
<circle cx="158.0" cy="909.3" r="0.8" fill="#17406e" fill-opacity="0.80"/>
<circle cx="159.4" cy="933.4" r="1.5" fill="#3a9ec0" fill-opacity="0.71"/>
<circle cx="150.1" cy="943.1" r="1.1" fill="#1d4f8c" fill-opacity="0.86"/>
<circle cx="145.1" cy="947.8" r="0.6" fill="#17406e" fill-opacity="0.69"/>
<circle cx="148.5" cy="921.8" r="0.6" fill="#17406e" fill-opacity="0.67"/>
<circle cx="174.4" cy="921.1" r="1.2" fill="#1d4f8c" fill-opacity="0.75"/>
<circle cx="172.3" cy="944.7" r="1.4" fill="#2a6aa8" fill-opacity="0.69"/>
<circle cx="167.8" cy="950.3" r="0.9" fill="#1d4f8c" fill-opacity="0.74"/>
<circle cx="150.9" cy="945.3" r="1.0" fill="#2a6aa8" fill-opacity="0.89"/>
<circle cx="157.0" cy="931.7" r="1.3" fill="#17406e" fill-opacity="0.75"/>
<circle cx="128.1" cy="939.1" r="1.5" fill="#17406e" fill-opacity="0.98"/>
<circle cx="127.4" cy="938.3" r="0.9" fill="#17406e" fill-opacity="0.89"/>
<circle cx="132.3" cy="924.0" r="0.7" fill="#2a6aa8" fill-opacity="1.00"/>
<circle cx="166.6" cy="940.9" r="0.7" fill="#1d4f8c" fill-opacity="0.69"/>
<circle cx="144.8" cy="911.7" r="1.0" fill="#3a9ec0" fill-opacity="0.75"/>
<circle cx="167.7" cy="934.0" r="1.0" fill="#2f8fb5" fill-opacity="0.83"/>
<circle cx="130.8" cy="942.7" r="1.3" fill="#17406e" fill-opacity="0.96"/>
<circle cx="153.9" cy="918.7" r="1.1" fill="#1d4f8c" fill-opacity="0.93"/>
<circle cx="141.8" cy="947.8" r="0.7" fill="#2f8fb5" fill-opacity="0.79"/>
<circle cx="149.3" cy="912.2" r="1.1" fill="#3a9ec0" fill-opacity="0.77"/>
<circle cx="158.1" cy="910.7" r="1.5" fill="#2a6aa8" fill-opacity="0.84"/>
<circle cx="146.7" cy="945.0" r="1.5" fill="#1d4f8c" fill-opacity="0.76"/>
<circle cx="135.2" cy="940.8" r="0.8" fill="#1d4f8c" fill-opacity="0.66"/>
<circle cx="133.6" cy="918.4" r="1.5" fill="#1d4f8c" fill-opacity="0.79"/>
<circle cx="152.8" cy="958.2" r="1.5" fill="#3a9ec0" fill-opacity="0.72"/>
<circle cx="148.1" cy="962.2" r="1.2" fill="#1d4a8c" fill-opacity="0.9"/>
<circle cx="140.4" cy="959.6" r="1.8" fill="#16346e" fill-opacity="0.9"/>
<circle cx="128.1" cy="930.4" r="1.5" fill="#16346e" fill-opacity="0.9"/>
<circle cx="143.5" cy="960.4" r="1.1" fill="#1d4a8c" fill-opacity="0.9"/>
<circle cx="129.8" cy="941.1" r="1.4" fill="#1d4a8c" fill-opacity="0.9"/>
<circle cx="162.5" cy="907.6" r="1.2" fill="#23407a" fill-opacity="0.9"/>
<circle cx="150.9" cy="909.1" r="0.9" fill="#1d4a8c" fill-opacity="0.9"/>
<circle cx="172.7" cy="959.7" r="0.8" fill="#23407a" fill-opacity="0.9"/>
<circle cx="184.0" cy="941.9" r="1.7" fill="#23407a" fill-opacity="0.9"/>
<circle cx="146.0" cy="962.8" r="1.4" fill="#1d4a8c" fill-opacity="0.9"/>
<circle cx="147.3" cy="962.3" r="1.1" fill="#1d4a8c" fill-opacity="0.9"/>
<circle cx="134.7" cy="955.7" r="1.5" fill="#1d4a8c" fill-opacity="0.9"/>
<circle cx="128.1" cy="934.8" r="1.0" fill="#23407a" fill-opacity="0.9"/>
<circle cx="164.5" cy="909.5" r="1.4" fill="#1d4a8c" fill-opacity="0.9"/>
<circle cx="128.5" cy="925.1" r="1.3" fill="#16346e" fill-opacity="0.9"/>
<circle cx="135.3" cy="952.7" r="1.2" fill="#1d4a8c" fill-opacity="0.9"/>
<circle cx="170.2" cy="962.0" r="1.2" fill="#1d4a8c" fill-opacity="0.9"/>
<circle cx="130.6" cy="948.6" r="1.7" fill="#1d4a8c" fill-opacity="0.9"/>
<circle cx="172.8" cy="956.9" r="1.0" fill="#16346e" fill-opacity="0.9"/>
<circle cx="172.3" cy="913.0" r="1.0" fill="#16346e" fill-opacity="0.9"/>
<circle cx="135.4" cy="953.7" r="1.4" fill="#1d4a8c" fill-opacity="0.9"/>
<circle cx="151.0" cy="962.9" r="1.5" fill="#23407a" fill-opacity="0.9"/>
<circle cx="129.2" cy="944.4" r="1.5" fill="#23407a" fill-opacity="0.9"/>
<circle cx="156.8" cy="909.4" r="1.8" fill="#1d4a8c" fill-opacity="0.9"/>
<circle cx="182.9" cy="944.9" r="1.1" fill="#1d4a8c" fill-opacity="0.9"/>
<circle cx="156.2" cy="936.3" r="32.2" fill="none" stroke="#111" stroke-width="2.2"/>
<circle cx="70.6" cy="1021.1" r="32.2" fill="#f3f6f3"/>
<circle cx="60.7" cy="1031.7" r="1.2" fill="#2a78c6" fill-opacity="0.85"/>
<circle cx="47.9" cy="1025.5" r="1.2" fill="#1f5bb0" fill-opacity="1.00"/>
<circle cx="50.5" cy="1024.1" r="1.2" fill="#1f5bb0" fill-opacity="0.73"/>
<circle cx="61.7" cy="1028.5" r="0.6" fill="#2a6ac0" fill-opacity="0.71"/>
<circle cx="82.5" cy="997.2" r="0.9" fill="#4a9ad6" fill-opacity="0.90"/>
<circle cx="95.1" cy="1007.9" r="1.0" fill="#4a9ad6" fill-opacity="0.81"/>
<circle cx="94.1" cy="1037.6" r="0.7" fill="#1f5bb0" fill-opacity="0.74"/>
<circle cx="85.6" cy="1001.9" r="1.0" fill="#1d4f9c" fill-opacity="0.85"/>
<circle cx="73.0" cy="1042.7" r="0.9" fill="#2a6ac0" fill-opacity="0.95"/>
<circle cx="86.0" cy="1046.4" r="1.5" fill="#4a9ad6" fill-opacity="0.97"/>
<circle cx="76.0" cy="1042.8" r="1.4" fill="#4a9ad6" fill-opacity="0.74"/>
<circle cx="63.9" cy="1013.1" r="1.1" fill="#3a86cc" fill-opacity="0.93"/>
<circle cx="74.0" cy="992.7" r="1.5" fill="#2a6ac0" fill-opacity="0.86"/>
<circle cx="48.4" cy="1007.7" r="1.2" fill="#3a86cc" fill-opacity="0.83"/>
<circle cx="96.9" cy="1034.9" r="1.2" fill="#2a6ac0" fill-opacity="0.98"/>
<circle cx="68.1" cy="1050.3" r="1.3" fill="#3a86cc" fill-opacity="0.76"/>
<circle cx="49.7" cy="1041.3" r="1.1" fill="#4a9ad6" fill-opacity="0.79"/>
<circle cx="92.7" cy="1037.7" r="1.6" fill="#4a9ad6" fill-opacity="0.74"/>
<circle cx="92.4" cy="1011.9" r="1.0" fill="#3a86cc" fill-opacity="0.83"/>
<circle cx="46.0" cy="1007.6" r="0.6" fill="#4a9ad6" fill-opacity="0.86"/>
<circle cx="65.2" cy="1030.5" r="1.0" fill="#3a86cc" fill-opacity="0.86"/>
<circle cx="57.3" cy="1012.7" r="1.6" fill="#2a6ac0" fill-opacity="0.99"/>
<circle cx="58.2" cy="1012.9" r="0.9" fill="#3a86cc" fill-opacity="0.71"/>
<circle cx="68.3" cy="1046.9" r="1.4" fill="#2a6ac0" fill-opacity="0.92"/>
<circle cx="70.1" cy="1016.2" r="0.9" fill="#1f5bb0" fill-opacity="0.88"/>
<circle cx="63.9" cy="1007.2" r="1.2" fill="#2a6ac0" fill-opacity="0.69"/>
<circle cx="79.0" cy="1006.5" r="1.0" fill="#1f5bb0" fill-opacity="0.68"/>
<circle cx="47.3" cy="1010.4" r="0.9" fill="#2a6ac0" fill-opacity="0.66"/>
<circle cx="85.6" cy="996.2" r="1.2" fill="#3a86cc" fill-opacity="0.77"/>
<circle cx="47.5" cy="1006.5" r="1.0" fill="#4a9ad6" fill-opacity="0.93"/>
<circle cx="57.2" cy="1028.8" r="1.0" fill="#1d4f9c" fill-opacity="0.66"/>
<circle cx="84.4" cy="996.9" r="1.2" fill="#4a9ad6" fill-opacity="0.80"/>
<circle cx="75.7" cy="1049.6" r="1.3" fill="#2a78c6" fill-opacity="0.91"/>
<circle cx="93.0" cy="1002.5" r="1.5" fill="#4a9ad6" fill-opacity="0.99"/>
<circle cx="80.6" cy="1023.4" r="1.4" fill="#4a9ad6" fill-opacity="0.97"/>
<circle cx="45.7" cy="1008.0" r="0.6" fill="#2a78c6" fill-opacity="0.69"/>
<circle cx="91.5" cy="1023.7" r="1.1" fill="#2a6ac0" fill-opacity="0.98"/>
<circle cx="70.2" cy="1044.3" r="1.5" fill="#1d4f9c" fill-opacity="0.93"/>
<circle cx="75.9" cy="1026.2" r="1.5" fill="#2a6ac0" fill-opacity="0.71"/>
<circle cx="79.7" cy="996.3" r="1.4" fill="#2a6ac0" fill-opacity="0.82"/>
<circle cx="71.5" cy="998.7" r="0.8" fill="#4a9ad6" fill-opacity="0.83"/>
<circle cx="73.8" cy="1002.1" r="0.6" fill="#2a6ac0" fill-opacity="0.92"/>
<circle cx="97.9" cy="1026.8" r="1.3" fill="#4a9ad6" fill-opacity="0.83"/>
<circle cx="60.7" cy="1034.5" r="1.2" fill="#4a9ad6" fill-opacity="0.76"/>
<circle cx="56.8" cy="1027.7" r="0.7" fill="#2a6ac0" fill-opacity="0.90"/>
<circle cx="50.3" cy="1041.8" r="1.2" fill="#4a9ad6" fill-opacity="0.78"/>
<circle cx="46.4" cy="1032.2" r="1.0" fill="#1d4f9c" fill-opacity="0.92"/>
<circle cx="56.1" cy="1029.3" r="0.6" fill="#1f5bb0" fill-opacity="0.84"/>
<circle cx="45.5" cy="1033.7" r="1.5" fill="#3a86cc" fill-opacity="0.78"/>
<circle cx="68.4" cy="1049.2" r="1.1" fill="#2a6ac0" fill-opacity="0.98"/>
<circle cx="45.7" cy="1016.3" r="1.0" fill="#2a6ac0" fill-opacity="0.91"/>
<circle cx="98.0" cy="1021.9" r="0.7" fill="#1d4f9c" fill-opacity="0.67"/>
<circle cx="81.9" cy="1044.8" r="0.6" fill="#2a6ac0" fill-opacity="0.66"/>
<circle cx="67.3" cy="1011.6" r="0.9" fill="#3a86cc" fill-opacity="0.93"/>
<circle cx="65.0" cy="1020.7" r="1.3" fill="#2a6ac0" fill-opacity="0.84"/>
<circle cx="61.7" cy="1018.2" r="1.5" fill="#1f5bb0" fill-opacity="0.94"/>
<circle cx="49.1" cy="1002.0" r="1.4" fill="#1d4f9c" fill-opacity="0.74"/>
<circle cx="49.0" cy="1013.1" r="1.6" fill="#1d4f9c" fill-opacity="0.83"/>
<circle cx="70.1" cy="991.8" r="0.8" fill="#2a78c6" fill-opacity="0.85"/>
<circle cx="61.7" cy="1000.3" r="0.8" fill="#1d4f9c" fill-opacity="0.96"/>
<circle cx="93.8" cy="1007.7" r="1.1" fill="#1d4f9c" fill-opacity="0.86"/>
<circle cx="86.8" cy="1042.4" r="1.1" fill="#1f5bb0" fill-opacity="0.95"/>
<circle cx="60.3" cy="1001.9" r="1.5" fill="#4a9ad6" fill-opacity="0.95"/>
<circle cx="75.2" cy="1043.3" r="0.6" fill="#1d4f9c" fill-opacity="0.93"/>
<circle cx="71.5" cy="1034.4" r="1.1" fill="#1f5bb0" fill-opacity="0.80"/>
<circle cx="77.4" cy="1045.0" r="1.2" fill="#2a78c6" fill-opacity="0.84"/>
<circle cx="83.4" cy="1005.0" r="1.0" fill="#2a78c6" fill-opacity="0.96"/>
<circle cx="75.5" cy="1017.1" r="1.2" fill="#2a78c6" fill-opacity="0.67"/>
<circle cx="81.3" cy="1012.3" r="1.4" fill="#1f5bb0" fill-opacity="0.72"/>
<circle cx="90.7" cy="1006.4" r="0.9" fill="#2a6ac0" fill-opacity="0.76"/>
<circle cx="87.2" cy="1031.0" r="0.7" fill="#3a86cc" fill-opacity="0.66"/>
<circle cx="60.3" cy="1038.2" r="0.6" fill="#3a86cc" fill-opacity="0.80"/>
<circle cx="52.8" cy="1010.5" r="1.6" fill="#1d4f9c" fill-opacity="0.69"/>
<circle cx="85.5" cy="1028.8" r="1.0" fill="#1d4f9c" fill-opacity="0.96"/>
<circle cx="52.3" cy="1039.6" r="1.4" fill="#1d4f9c" fill-opacity="0.75"/>
<circle cx="79.0" cy="998.2" r="0.9" fill="#3a86cc" fill-opacity="0.89"/>
<circle cx="54.0" cy="1043.4" r="1.3" fill="#2a78c6" fill-opacity="0.90"/>
<circle cx="67.4" cy="995.7" r="0.7" fill="#3a86cc" fill-opacity="0.96"/>
<circle cx="87.0" cy="1041.3" r="0.9" fill="#2a78c6" fill-opacity="0.88"/>
<circle cx="78.0" cy="1038.9" r="1.1" fill="#1f5bb0" fill-opacity="0.90"/>
<circle cx="46.1" cy="1008.5" r="1.0" fill="#2a6ac0" fill-opacity="0.74"/>
<circle cx="88.3" cy="1025.9" r="1.1" fill="#1f5bb0" fill-opacity="0.89"/>
<circle cx="90.7" cy="1013.9" r="1.0" fill="#2a6ac0" fill-opacity="0.77"/>
<circle cx="93.8" cy="1037.9" r="0.7" fill="#2a78c6" fill-opacity="0.69"/>
<circle cx="58.7" cy="999.3" r="1.0" fill="#2a78c6" fill-opacity="0.69"/>
<circle cx="77.5" cy="999.0" r="1.1" fill="#1f5bb0" fill-opacity="0.85"/>
<circle cx="73.2" cy="1008.0" r="0.6" fill="#1d4f9c" fill-opacity="0.96"/>
<circle cx="43.2" cy="1011.7" r="1.2" fill="#2a78c6" fill-opacity="0.82"/>
<circle cx="87.7" cy="1007.9" r="1.3" fill="#2a6ac0" fill-opacity="0.86"/>
<circle cx="56.6" cy="998.4" r="1.1" fill="#4a9ad6" fill-opacity="0.87"/>
<circle cx="73.7" cy="1034.0" r="1.4" fill="#2a78c6" fill-opacity="0.98"/>
<circle cx="65.2" cy="1012.8" r="0.8" fill="#1d4f9c" fill-opacity="0.93"/>
<circle cx="73.5" cy="1049.3" r="0.7" fill="#4a9ad6" fill-opacity="0.66"/>
<circle cx="61.0" cy="1035.5" r="1.3" fill="#2a6ac0" fill-opacity="0.95"/>
<circle cx="65.7" cy="998.6" r="1.3" fill="#3a86cc" fill-opacity="1.00"/>
<circle cx="61.5" cy="993.6" r="0.8" fill="#3a86cc" fill-opacity="0.69"/>
<circle cx="86.0" cy="1045.6" r="1.1" fill="#2a78c6" fill-opacity="0.67"/>
<circle cx="43.3" cy="1023.0" r="0.6" fill="#1d4f9c" fill-opacity="0.91"/>
<circle cx="65.7" cy="995.4" r="1.0" fill="#3a86cc" fill-opacity="0.81"/>
<circle cx="88.1" cy="1017.7" r="1.4" fill="#3a86cc" fill-opacity="0.92"/>
<circle cx="74.4" cy="1031.7" r="0.8" fill="#1f5bb0" fill-opacity="0.85"/>
<circle cx="84.1" cy="1037.3" r="1.2" fill="#1d4f9c" fill-opacity="0.82"/>
<circle cx="47.2" cy="1036.4" r="1.3" fill="#2a6ac0" fill-opacity="0.73"/>
<circle cx="75.5" cy="1017.9" r="1.5" fill="#1f5bb0" fill-opacity="0.68"/>
<circle cx="55.1" cy="1043.5" r="0.7" fill="#2a6ac0" fill-opacity="0.93"/>
<circle cx="85.6" cy="1015.4" r="1.4" fill="#3a86cc" fill-opacity="0.82"/>
<circle cx="99.0" cy="1019.8" r="0.9" fill="#2a6ac0" fill-opacity="0.89"/>
<circle cx="99.8" cy="1021.8" r="0.6" fill="#2a6ac0" fill-opacity="0.66"/>
<circle cx="78.5" cy="1040.6" r="1.1" fill="#3a86cc" fill-opacity="0.72"/>
<circle cx="80.3" cy="993.4" r="1.5" fill="#2a78c6" fill-opacity="0.66"/>
<circle cx="86.1" cy="1015.7" r="0.7" fill="#3a86cc" fill-opacity="0.71"/>
<circle cx="52.3" cy="1015.5" r="1.1" fill="#1d4f9c" fill-opacity="0.71"/>
<circle cx="83.7" cy="999.2" r="1.2" fill="#1f5bb0" fill-opacity="0.78"/>
<circle cx="74.1" cy="1002.3" r="1.1" fill="#3a86cc" fill-opacity="0.94"/>
<circle cx="88.8" cy="1010.3" r="1.3" fill="#1d4f9c" fill-opacity="0.66"/>
<circle cx="76.0" cy="1010.1" r="0.7" fill="#2a78c6" fill-opacity="0.89"/>
<circle cx="75.7" cy="1013.4" r="1.2" fill="#4a9ad6" fill-opacity="0.96"/>
<circle cx="68.5" cy="1001.3" r="0.9" fill="#3a86cc" fill-opacity="0.65"/>
<circle cx="81.9" cy="1014.5" r="0.9" fill="#3a86cc" fill-opacity="0.69"/>
<circle cx="71.1" cy="1029.5" r="0.6" fill="#1f5bb0" fill-opacity="0.98"/>
<circle cx="79.2" cy="1028.4" r="0.9" fill="#1f5bb0" fill-opacity="0.73"/>
<circle cx="74.9" cy="999.3" r="1.2" fill="#4a9ad6" fill-opacity="0.92"/>
<circle cx="90.2" cy="1026.3" r="1.4" fill="#4a9ad6" fill-opacity="0.66"/>
<circle cx="93.1" cy="1034.5" r="1.1" fill="#1f5bb0" fill-opacity="0.94"/>
<circle cx="57.0" cy="996.8" r="1.3" fill="#1d4f9c" fill-opacity="0.86"/>
<circle cx="48.7" cy="1006.3" r="1.4" fill="#1f5bb0" fill-opacity="0.69"/>
<circle cx="69.0" cy="1019.1" r="0.9" fill="#1f5bb0" fill-opacity="0.82"/>
<circle cx="69.9" cy="1013.2" r="1.0" fill="#2a78c6" fill-opacity="0.67"/>
<circle cx="81.8" cy="1002.9" r="0.7" fill="#1f5bb0" fill-opacity="0.80"/>
<circle cx="75.0" cy="1028.5" r="1.5" fill="#2a78c6" fill-opacity="0.73"/>
<circle cx="43.5" cy="1027.4" r="1.3" fill="#1d4f9c" fill-opacity="0.78"/>
<circle cx="59.7" cy="1028.1" r="1.5" fill="#1d4f9c" fill-opacity="0.81"/>
<circle cx="96.3" cy="1024.0" r="1.5" fill="#2a6ac0" fill-opacity="0.90"/>
<circle cx="60.3" cy="1008.7" r="0.6" fill="#2a78c6" fill-opacity="0.72"/>
<circle cx="79.8" cy="1047.5" r="1.4" fill="#1f5bb0" fill-opacity="0.69"/>
<circle cx="85.0" cy="1028.7" r="0.8" fill="#2a78c6" fill-opacity="0.75"/>
<circle cx="58.5" cy="1007.5" r="1.5" fill="#1d4f9c" fill-opacity="0.76"/>
<circle cx="51.1" cy="1015.8" r="1.0" fill="#3a86cc" fill-opacity="0.75"/>
<circle cx="77.7" cy="1002.2" r="0.9" fill="#1f5bb0" fill-opacity="0.98"/>
<circle cx="86.7" cy="1043.1" r="0.6" fill="#2a6ac0" fill-opacity="0.65"/>
<circle cx="52.6" cy="1044.4" r="1.6" fill="#3a86cc" fill-opacity="0.99"/>
<circle cx="43.6" cy="1033.3" r="0.9" fill="#2a6ac0" fill-opacity="0.86"/>
<circle cx="68.6" cy="1047.8" r="1.3" fill="#1d4f9c" fill-opacity="0.80"/>
<circle cx="51.1" cy="1001.0" r="1.3" fill="#4a9ad6" fill-opacity="0.74"/>
<circle cx="73.3" cy="1010.5" r="1.1" fill="#3a86cc" fill-opacity="0.84"/>
<circle cx="52.2" cy="997.9" r="1.5" fill="#1d4f9c" fill-opacity="0.81"/>
<circle cx="80.1" cy="998.8" r="1.2" fill="#1d4f9c" fill-opacity="0.78"/>
<circle cx="91.7" cy="1031.7" r="0.7" fill="#4a9ad6" fill-opacity="0.69"/>
<circle cx="66.0" cy="1046.8" r="0.9" fill="#3a86cc" fill-opacity="0.99"/>
<circle cx="59.0" cy="1019.5" r="1.0" fill="#1f5bb0" fill-opacity="0.94"/>
<circle cx="98.7" cy="1026.6" r="1.2" fill="#4a9ad6" fill-opacity="0.69"/>
<circle cx="70.8" cy="1010.6" r="0.9" fill="#1d4f9c" fill-opacity="0.88"/>
<circle cx="84.9" cy="1010.1" r="1.6" fill="#2a78c6" fill-opacity="0.81"/>
<circle cx="61.2" cy="1007.5" r="1.5" fill="#1d4f9c" fill-opacity="0.76"/>
<circle cx="85.1" cy="1015.8" r="0.9" fill="#1d4f9c" fill-opacity="0.84"/>
<circle cx="65.8" cy="1024.0" r="1.5" fill="#1d4f9c" fill-opacity="0.73"/>
<circle cx="69.4" cy="993.4" r="1.4" fill="#2a78c6" fill-opacity="0.94"/>
<circle cx="98.1" cy="1016.6" r="1.3" fill="#1d4f9c" fill-opacity="0.74"/>
<circle cx="50.8" cy="1015.2" r="0.6" fill="#1f5bb0" fill-opacity="0.82"/>
<circle cx="60.7" cy="996.0" r="1.1" fill="#1d4f9c" fill-opacity="0.88"/>
<circle cx="82.6" cy="1045.0" r="0.8" fill="#1f5bb0" fill-opacity="0.96"/>
<circle cx="64.2" cy="1019.7" r="1.0" fill="#2a6ac0" fill-opacity="0.80"/>
<circle cx="92.6" cy="1040.5" r="0.9" fill="#1d4f9c" fill-opacity="0.77"/>
<circle cx="97.5" cy="1010.3" r="1.6" fill="#1d4f9c" fill-opacity="0.74"/>
<circle cx="53.0" cy="1022.8" r="1.3" fill="#3a86cc" fill-opacity="0.82"/>
<circle cx="86.1" cy="1000.8" r="1.0" fill="#1d4f9c" fill-opacity="0.81"/>
<circle cx="49.3" cy="1016.4" r="1.4" fill="#1f5bb0" fill-opacity="0.91"/>
<circle cx="70.4" cy="1005.0" r="0.9" fill="#1f5bb0" fill-opacity="0.76"/>
<circle cx="96.2" cy="1030.7" r="1.2" fill="#1f5bb0" fill-opacity="0.69"/>
<circle cx="71.6" cy="1017.7" r="1.6" fill="#2a78c6" fill-opacity="0.78"/>
<circle cx="46.5" cy="1026.7" r="1.2" fill="#3a86cc" fill-opacity="0.70"/>
<circle cx="47.6" cy="1020.2" r="1.0" fill="#3a86cc" fill-opacity="0.86"/>
<circle cx="66.4" cy="996.6" r="0.9" fill="#2a78c6" fill-opacity="0.94"/>
<circle cx="68.6" cy="1036.9" r="0.7" fill="#4a9ad6" fill-opacity="0.73"/>
<circle cx="70.9" cy="1050.7" r="1.0" fill="#3a86cc" fill-opacity="0.81"/>
<circle cx="85.1" cy="1006.6" r="1.6" fill="#4a9ad6" fill-opacity="0.83"/>
<circle cx="43.9" cy="1012.4" r="1.2" fill="#3a86cc" fill-opacity="0.67"/>
<circle cx="97.9" cy="1017.9" r="1.0" fill="#1f5bb0" fill-opacity="0.67"/>
<circle cx="50.0" cy="1038.3" r="1.2" fill="#2a6ac0" fill-opacity="0.76"/>
<circle cx="55.9" cy="1036.3" r="1.3" fill="#2a6ac0" fill-opacity="0.85"/>
<circle cx="62.8" cy="1029.3" r="1.2" fill="#1f5bb0" fill-opacity="0.96"/>
<circle cx="75.1" cy="1033.9" r="0.6" fill="#2a78c6" fill-opacity="0.97"/>
<circle cx="80.9" cy="1002.0" r="1.4" fill="#1f5bb0" fill-opacity="0.80"/>
<circle cx="51.7" cy="1039.3" r="1.1" fill="#3a86cc" fill-opacity="0.75"/>
<circle cx="60.1" cy="1013.6" r="0.7" fill="#2a6ac0" fill-opacity="0.93"/>
<circle cx="88.9" cy="1019.4" r="1.1" fill="#1f5bb0" fill-opacity="0.79"/>
<circle cx="55.9" cy="1005.7" r="1.3" fill="#1d4f9c" fill-opacity="0.75"/>
<circle cx="87.7" cy="1004.6" r="0.7" fill="#2a78c6" fill-opacity="1.00"/>
<circle cx="46.0" cy="1034.2" r="1.5" fill="#2a78c6" fill-opacity="0.77"/>
<circle cx="84.9" cy="1008.3" r="0.8" fill="#1d4f9c" fill-opacity="0.99"/>
<circle cx="76.1" cy="1017.2" r="1.1" fill="#1f5bb0" fill-opacity="0.85"/>
<circle cx="62.1" cy="1022.8" r="1.5" fill="#4a9ad6" fill-opacity="0.79"/>
<circle cx="87.5" cy="1016.8" r="0.8" fill="#4a9ad6" fill-opacity="0.75"/>
<circle cx="50.4" cy="1002.2" r="1.0" fill="#4a9ad6" fill-opacity="0.95"/>
<circle cx="94.3" cy="1030.5" r="1.0" fill="#3a86cc" fill-opacity="0.87"/>
<circle cx="79.0" cy="1040.2" r="0.7" fill="#1d4f9c" fill-opacity="0.69"/>
<circle cx="77.3" cy="1048.7" r="0.8" fill="#2a6ac0" fill-opacity="0.76"/>
<circle cx="64.4" cy="1007.7" r="1.3" fill="#1f5bb0" fill-opacity="0.79"/>
<circle cx="68.2" cy="1049.8" r="1.3" fill="#3a86cc" fill-opacity="0.91"/>
<circle cx="76.9" cy="1033.1" r="0.8" fill="#1d4f9c" fill-opacity="0.89"/>
<circle cx="59.9" cy="1012.4" r="0.8" fill="#4a9ad6" fill-opacity="0.79"/>
<circle cx="55.5" cy="1005.4" r="1.0" fill="#2a6ac0" fill-opacity="0.68"/>
<circle cx="92.2" cy="1023.6" r="0.8" fill="#4a9ad6" fill-opacity="0.96"/>
<circle cx="80.7" cy="998.7" r="1.6" fill="#3a86cc" fill-opacity="0.79"/>
<circle cx="88.1" cy="1036.5" r="1.0" fill="#2a78c6" fill-opacity="0.70"/>
<circle cx="80.8" cy="1034.5" r="0.9" fill="#2a78c6" fill-opacity="0.84"/>
<circle cx="43.0" cy="1022.4" r="1.2" fill="#2a78c6" fill-opacity="0.72"/>
<circle cx="62.0" cy="1018.2" r="0.9" fill="#2a78c6" fill-opacity="0.96"/>
<circle cx="81.8" cy="1002.4" r="1.3" fill="#3a86cc" fill-opacity="0.97"/>
<circle cx="72.3" cy="1001.9" r="1.0" fill="#3a86cc" fill-opacity="0.85"/>
<circle cx="56.9" cy="1015.4" r="1.0" fill="#2a6ac0" fill-opacity="0.76"/>
<circle cx="58.7" cy="1022.2" r="1.1" fill="#1d4f9c" fill-opacity="0.72"/>
<circle cx="85.5" cy="1032.9" r="0.7" fill="#1d4f9c" fill-opacity="0.90"/>
<circle cx="79.5" cy="1029.3" r="1.2" fill="#2a6ac0" fill-opacity="0.97"/>
<circle cx="48.5" cy="1037.7" r="0.7" fill="#3a86cc" fill-opacity="0.89"/>
<circle cx="74.0" cy="1034.9" r="0.7" fill="#3a86cc" fill-opacity="0.80"/>
<circle cx="76.5" cy="1035.1" r="1.2" fill="#4a9ad6" fill-opacity="0.98"/>
<circle cx="69.3" cy="1045.3" r="0.9" fill="#3a86cc" fill-opacity="0.97"/>
<circle cx="70.6" cy="1011.8" r="0.8" fill="#1d4f9c" fill-opacity="0.77"/>
<circle cx="76.9" cy="1028.9" r="0.6" fill="#1d4f9c" fill-opacity="0.74"/>
<circle cx="85.1" cy="1005.7" r="1.3" fill="#4a9ad6" fill-opacity="0.85"/>
<circle cx="50.2" cy="1030.7" r="0.9" fill="#3a86cc" fill-opacity="0.85"/>
<circle cx="52.1" cy="998.7" r="0.8" fill="#1f5bb0" fill-opacity="0.83"/>
<circle cx="66.5" cy="992.4" r="1.0" fill="#2a6ac0" fill-opacity="0.87"/>
<circle cx="56.6" cy="1038.5" r="0.7" fill="#1f5bb0" fill-opacity="0.99"/>
<circle cx="68.8" cy="995.6" r="0.7" fill="#4a9ad6" fill-opacity="0.77"/>
<circle cx="69.1" cy="1047.9" r="0.7" fill="#2a6ac0" fill-opacity="0.96"/>
<circle cx="77.0" cy="992.4" r="1.0" fill="#1d4f9c" fill-opacity="0.84"/>
<circle cx="81.4" cy="1042.7" r="1.4" fill="#2a6ac0" fill-opacity="0.75"/>
<circle cx="41.2" cy="1017.7" r="0.9" fill="#3a86cc" fill-opacity="0.69"/>
<circle cx="79.7" cy="996.1" r="1.0" fill="#2a78c6" fill-opacity="0.90"/>
<circle cx="72.6" cy="1044.5" r="0.6" fill="#1f5bb0" fill-opacity="0.73"/>
<circle cx="45.0" cy="1008.5" r="1.1" fill="#4a9ad6" fill-opacity="0.74"/>
<circle cx="62.8" cy="1016.2" r="0.8" fill="#1d4f9c" fill-opacity="0.85"/>
<circle cx="58.3" cy="1012.0" r="1.3" fill="#2a78c6" fill-opacity="0.72"/>
<circle cx="77.6" cy="999.5" r="0.8" fill="#1d4f9c" fill-opacity="0.83"/>
<circle cx="62.4" cy="1016.5" r="1.2" fill="#1d4f9c" fill-opacity="0.83"/>
<circle cx="73.1" cy="1037.4" r="1.1" fill="#3a86cc" fill-opacity="0.69"/>
<circle cx="70.9" cy="1042.1" r="1.5" fill="#1d4f9c" fill-opacity="0.66"/>
<circle cx="74.8" cy="1022.7" r="1.1" fill="#1d4f9c" fill-opacity="0.97"/>
<circle cx="68.4" cy="1027.2" r="1.1" fill="#3a86cc" fill-opacity="0.92"/>
<circle cx="46.1" cy="1010.8" r="1.0" fill="#2a78c6" fill-opacity="0.67"/>
<circle cx="69.6" cy="991.7" r="1.1" fill="#2a78c6" fill-opacity="0.83"/>
<circle cx="43.6" cy="1019.0" r="1.6" fill="#2a6ac0" fill-opacity="0.82"/>
<circle cx="85.9" cy="1030.3" r="1.3" fill="#3a86cc" fill-opacity="0.85"/>
<circle cx="55.7" cy="1010.0" r="0.6" fill="#3a86cc" fill-opacity="0.82"/>
<circle cx="70.3" cy="997.4" r="0.8" fill="#2a6ac0" fill-opacity="0.88"/>
<circle cx="45.3" cy="1024.8" r="0.8" fill="#3a86cc" fill-opacity="0.86"/>
<circle cx="93.7" cy="1028.4" r="1.0" fill="#1d4f9c" fill-opacity="0.71"/>
<circle cx="69.7" cy="1048.9" r="1.5" fill="#4a9ad6" fill-opacity="0.85"/>
<circle cx="58.6" cy="1034.8" r="1.4" fill="#1d4f9c" fill-opacity="0.78"/>
<circle cx="75.4" cy="1045.9" r="0.8" fill="#1f5bb0" fill-opacity="0.92"/>
<circle cx="73.5" cy="1016.8" r="1.2" fill="#1d4f9c" fill-opacity="0.82"/>
<circle cx="53.9" cy="1028.6" r="0.8" fill="#1d4f9c" fill-opacity="0.67"/>
<circle cx="43.5" cy="1009.1" r="1.3" fill="#2a78c6" fill-opacity="0.68"/>
<circle cx="43.8" cy="1019.0" r="0.7" fill="#2a6ac0" fill-opacity="0.86"/>
<circle cx="88.4" cy="998.3" r="1.5" fill="#1d4f9c" fill-opacity="1.00"/>
<circle cx="62.3" cy="1012.7" r="1.1" fill="#2a78c6" fill-opacity="0.81"/>
<circle cx="99.0" cy="1024.4" r="1.5" fill="#3a86cc" fill-opacity="0.84"/>
<circle cx="78.4" cy="1049.0" r="1.0" fill="#1f5bb0" fill-opacity="0.96"/>
<circle cx="85.0" cy="1030.5" r="1.2" fill="#1f5bb0" fill-opacity="0.94"/>
<circle cx="84.1" cy="1021.2" r="1.2" fill="#1f5bb0" fill-opacity="0.98"/>
<circle cx="93.9" cy="1032.2" r="0.9" fill="#1f5bb0" fill-opacity="0.75"/>
<circle cx="76.0" cy="1037.7" r="1.2" fill="#2a6ac0" fill-opacity="0.81"/>
<circle cx="58.8" cy="1030.2" r="1.2" fill="#4a9ad6" fill-opacity="0.72"/>
<circle cx="56.1" cy="996.6" r="0.7" fill="#1d4f9c" fill-opacity="0.90"/>
<circle cx="72.6" cy="1047.5" r="1.3" fill="#4a9ad6" fill-opacity="0.85"/>
<circle cx="68.0" cy="1025.0" r="0.8" fill="#3a86cc" fill-opacity="0.67"/>
<circle cx="94.5" cy="1032.0" r="1.5" fill="#4a9ad6" fill-opacity="0.75"/>
<circle cx="51.5" cy="1029.0" r="1.4" fill="#1d4f9c" fill-opacity="0.65"/>
<circle cx="86.6" cy="1000.2" r="0.9" fill="#4a9ad6" fill-opacity="0.72"/>
<circle cx="64.0" cy="1002.0" r="1.3" fill="#4a9ad6" fill-opacity="0.77"/>
<circle cx="92.9" cy="1022.5" r="0.7" fill="#3a86cc" fill-opacity="0.72"/>
<circle cx="82.5" cy="1044.5" r="1.4" fill="#3a86cc" fill-opacity="0.76"/>
<circle cx="56.2" cy="1046.1" r="0.6" fill="#4a9ad6" fill-opacity="0.67"/>
<circle cx="45.1" cy="1029.1" r="1.3" fill="#2a6ac0" fill-opacity="1.00"/>
<circle cx="47.3" cy="1013.8" r="0.7" fill="#2a6ac0" fill-opacity="0.88"/>
<circle cx="56.0" cy="1046.6" r="1.4" fill="#2a6ac0" fill-opacity="0.90"/>
<circle cx="75.9" cy="1018.9" r="0.8" fill="#2a78c6" fill-opacity="0.81"/>
<circle cx="57.8" cy="1047.6" r="1.6" fill="#1f5bb0" fill-opacity="0.90"/>
<circle cx="46.0" cy="1031.7" r="1.3" fill="#3a86cc" fill-opacity="0.81"/>
<circle cx="84.6" cy="1037.3" r="1.3" fill="#3a86cc" fill-opacity="0.95"/>
<circle cx="78.6" cy="1034.7" r="1.5" fill="#1d4f9c" fill-opacity="0.93"/>
<circle cx="56.4" cy="1017.9" r="0.9" fill="#3a86cc" fill-opacity="0.92"/>
<circle cx="94.0" cy="1032.8" r="1.5" fill="#2a78c6" fill-opacity="0.76"/>
<circle cx="50.6" cy="1019.8" r="1.4" fill="#2a6ac0" fill-opacity="0.87"/>
<circle cx="68.2" cy="1022.0" r="0.7" fill="#2a78c6" fill-opacity="0.81"/>
<circle cx="52.8" cy="1004.8" r="1.1" fill="#4a9ad6" fill-opacity="0.91"/>
<circle cx="85.6" cy="999.7" r="1.6" fill="#2a6ac0" fill-opacity="0.95"/>
<circle cx="63.1" cy="1023.9" r="1.3" fill="#1f5bb0" fill-opacity="0.95"/>
<circle cx="91.6" cy="1007.3" r="0.9" fill="#1f5bb0" fill-opacity="0.98"/>
<circle cx="59.9" cy="1000.2" r="0.7" fill="#3a86cc" fill-opacity="0.88"/>
<circle cx="97.4" cy="1021.3" r="1.0" fill="#1d4f9c" fill-opacity="0.86"/>
<circle cx="76.4" cy="993.3" r="0.8" fill="#1d4f9c" fill-opacity="0.85"/>
<circle cx="49.8" cy="1018.6" r="0.9" fill="#2a6ac0" fill-opacity="0.72"/>
<circle cx="75.6" cy="1023.6" r="1.4" fill="#1f5bb0" fill-opacity="0.66"/>
<circle cx="47.6" cy="1008.3" r="0.8" fill="#2a78c6" fill-opacity="0.83"/>
<circle cx="58.7" cy="996.2" r="0.9" fill="#4a9ad6" fill-opacity="0.75"/>
<circle cx="76.8" cy="1007.6" r="1.2" fill="#1f5bb0" fill-opacity="0.81"/>
<circle cx="46.9" cy="1026.6" r="1.0" fill="#2a6ac0" fill-opacity="0.98"/>
<circle cx="43.7" cy="1026.9" r="1.1" fill="#1d4a8c" fill-opacity="0.9"/>
<circle cx="42.8" cy="1028.2" r="1.6" fill="#1d4a8c" fill-opacity="0.9"/>
<circle cx="46.6" cy="1034.1" r="1.6" fill="#23407a" fill-opacity="0.9"/>
<circle cx="42.1" cy="1029.7" r="1.7" fill="#16346e" fill-opacity="0.9"/>
<circle cx="45.5" cy="1034.5" r="1.5" fill="#16346e" fill-opacity="0.9"/>
<circle cx="70.5" cy="1048.6" r="1.5" fill="#1d4a8c" fill-opacity="0.9"/>
<circle cx="61.8" cy="1048.4" r="1.0" fill="#23407a" fill-opacity="0.9"/>
<circle cx="72.5" cy="1051.0" r="1.0" fill="#23407a" fill-opacity="0.9"/>
<circle cx="72.2" cy="994.3" r="1.3" fill="#1d4a8c" fill-opacity="0.9"/>
<circle cx="49.1" cy="1037.2" r="1.6" fill="#1d4a8c" fill-opacity="0.9"/>
<circle cx="91.5" cy="1038.6" r="1.5" fill="#16346e" fill-opacity="0.9"/>
<circle cx="81.6" cy="1045.6" r="1.6" fill="#1d4a8c" fill-opacity="0.9"/>
<circle cx="55.5" cy="996.5" r="1.2" fill="#23407a" fill-opacity="0.9"/>
<circle cx="83.0" cy="1045.3" r="0.9" fill="#1d4a8c" fill-opacity="0.9"/>
<circle cx="65.9" cy="1047.5" r="1.0" fill="#23407a" fill-opacity="0.9"/>
<circle cx="48.9" cy="1038.0" r="1.5" fill="#16346e" fill-opacity="0.9"/>
<circle cx="64.0" cy="1048.4" r="1.2" fill="#23407a" fill-opacity="0.9"/>
<circle cx="53.6" cy="1041.7" r="1.3" fill="#16346e" fill-opacity="0.9"/>
<circle cx="47.3" cy="1036.0" r="0.8" fill="#23407a" fill-opacity="0.9"/>
<circle cx="60.0" cy="1047.0" r="1.2" fill="#23407a" fill-opacity="0.9"/>
<circle cx="70.6" cy="1021.1" r="32.2" fill="none" stroke="#111" stroke-width="2.2"/>
<circle cx="156.9" cy="1020.5" r="32" fill="#f3f6f3"/>
<circle cx="172.6" cy="1043.7" r="0.7" fill="#1d4f9c" fill-opacity="0.84"/>
<circle cx="171.7" cy="1026.2" r="1.1" fill="#3a86cc" fill-opacity="0.75"/>
<circle cx="182.7" cy="1007.9" r="1.4" fill="#3a86cc" fill-opacity="0.93"/>
<circle cx="147.8" cy="1011.2" r="1.3" fill="#3a86cc" fill-opacity="0.68"/>
<circle cx="134.0" cy="1019.6" r="0.8" fill="#1d4f9c" fill-opacity="0.75"/>
<circle cx="183.7" cy="1010.3" r="1.4" fill="#2a6ac0" fill-opacity="0.97"/>
<circle cx="169.8" cy="1002.3" r="1.1" fill="#1d4f9c" fill-opacity="0.80"/>
<circle cx="158.6" cy="1036.2" r="0.9" fill="#2a6ac0" fill-opacity="0.68"/>
<circle cx="137.0" cy="1018.1" r="1.2" fill="#2a78c6" fill-opacity="0.77"/>
<circle cx="165.1" cy="1047.2" r="1.2" fill="#3a86cc" fill-opacity="0.71"/>
<circle cx="144.0" cy="1005.9" r="0.8" fill="#3a86cc" fill-opacity="0.69"/>
<circle cx="157.6" cy="1013.2" r="1.2" fill="#1f5bb0" fill-opacity="0.69"/>
<circle cx="185.0" cy="1025.1" r="1.0" fill="#2a6ac0" fill-opacity="0.96"/>
<circle cx="184.8" cy="1013.3" r="0.6" fill="#3a86cc" fill-opacity="0.76"/>
<circle cx="164.3" cy="1011.7" r="1.5" fill="#2a78c6" fill-opacity="0.94"/>
<circle cx="175.1" cy="1041.5" r="1.0" fill="#1f5bb0" fill-opacity="0.77"/>
<circle cx="163.0" cy="992.3" r="1.0" fill="#3a86cc" fill-opacity="0.85"/>
<circle cx="173.8" cy="1010.7" r="0.7" fill="#2a6ac0" fill-opacity="0.67"/>
<circle cx="164.0" cy="1030.3" r="0.6" fill="#1d4f9c" fill-opacity="0.85"/>
<circle cx="149.9" cy="1045.8" r="1.6" fill="#2a78c6" fill-opacity="1.00"/>
<circle cx="139.6" cy="1031.4" r="0.6" fill="#1d4f9c" fill-opacity="0.81"/>
<circle cx="162.0" cy="1043.7" r="0.8" fill="#2a6ac0" fill-opacity="0.74"/>
<circle cx="158.6" cy="1034.9" r="1.5" fill="#1f5bb0" fill-opacity="0.76"/>
<circle cx="177.6" cy="1039.2" r="1.2" fill="#2a78c6" fill-opacity="0.88"/>
<circle cx="130.7" cy="1021.4" r="0.7" fill="#1f5bb0" fill-opacity="0.98"/>
<circle cx="168.2" cy="1039.7" r="0.9" fill="#1d4f9c" fill-opacity="0.93"/>
<circle cx="133.6" cy="1016.4" r="1.3" fill="#2a78c6" fill-opacity="0.93"/>
<circle cx="139.7" cy="1020.9" r="1.5" fill="#3a86cc" fill-opacity="0.99"/>
<circle cx="175.0" cy="1039.2" r="1.6" fill="#2a78c6" fill-opacity="0.95"/>
<circle cx="130.1" cy="1026.6" r="1.1" fill="#1d4f9c" fill-opacity="0.97"/>
<circle cx="182.7" cy="1022.6" r="1.5" fill="#2a6ac0" fill-opacity="0.79"/>
<circle cx="161.4" cy="1046.0" r="0.7" fill="#1f5bb0" fill-opacity="0.71"/>
<circle cx="135.6" cy="1011.7" r="1.4" fill="#18407e" fill-opacity="0.80"/>
<circle cx="163.2" cy="1025.9" r="1.2" fill="#3a86cc" fill-opacity="0.86"/>
<circle cx="158.1" cy="1009.6" r="1.1" fill="#2a6ac0" fill-opacity="0.75"/>
<circle cx="132.3" cy="1027.9" r="0.8" fill="#3a86cc" fill-opacity="0.79"/>
<circle cx="136.1" cy="1035.6" r="0.7" fill="#18407e" fill-opacity="0.93"/>
<circle cx="141.5" cy="1029.5" r="1.3" fill="#1d4f9c" fill-opacity="0.67"/>
<circle cx="171.6" cy="996.2" r="1.0" fill="#18407e" fill-opacity="0.71"/>
<circle cx="128.0" cy="1021.5" r="0.9" fill="#18407e" fill-opacity="0.99"/>
<circle cx="176.5" cy="1039.1" r="0.7" fill="#2a78c6" fill-opacity="0.86"/>
<circle cx="138.7" cy="1031.8" r="0.9" fill="#1f5bb0" fill-opacity="0.92"/>
<circle cx="143.9" cy="994.3" r="1.2" fill="#3a86cc" fill-opacity="0.84"/>
<circle cx="131.3" cy="1008.8" r="1.5" fill="#18407e" fill-opacity="0.93"/>
<circle cx="171.5" cy="1038.4" r="1.4" fill="#3a86cc" fill-opacity="1.00"/>
<circle cx="143.3" cy="1009.9" r="1.3" fill="#18407e" fill-opacity="0.71"/>
<circle cx="132.0" cy="1007.6" r="1.0" fill="#18407e" fill-opacity="0.96"/>
<circle cx="163.7" cy="1015.9" r="0.9" fill="#3a86cc" fill-opacity="0.76"/>
<circle cx="184.9" cy="1011.3" r="1.4" fill="#3a86cc" fill-opacity="0.93"/>
<circle cx="129.7" cy="1021.3" r="1.2" fill="#2a6ac0" fill-opacity="0.92"/>
<circle cx="144.7" cy="996.4" r="1.3" fill="#18407e" fill-opacity="0.93"/>
<circle cx="147.8" cy="998.3" r="1.5" fill="#1f5bb0" fill-opacity="0.96"/>
<circle cx="159.9" cy="1045.1" r="0.9" fill="#2a78c6" fill-opacity="0.84"/>
<circle cx="137.1" cy="1019.7" r="1.6" fill="#3a86cc" fill-opacity="0.75"/>
<circle cx="129.0" cy="1013.3" r="1.3" fill="#18407e" fill-opacity="0.94"/>
<circle cx="175.4" cy="1023.8" r="1.1" fill="#1d4f9c" fill-opacity="0.99"/>
<circle cx="133.6" cy="1002.7" r="0.9" fill="#2a6ac0" fill-opacity="0.91"/>
<circle cx="136.6" cy="1023.5" r="1.2" fill="#2a6ac0" fill-opacity="0.70"/>
<circle cx="170.5" cy="1015.9" r="0.8" fill="#18407e" fill-opacity="0.89"/>
<circle cx="155.2" cy="1042.3" r="1.1" fill="#1f5bb0" fill-opacity="0.91"/>
<circle cx="168.5" cy="1027.1" r="0.9" fill="#2a78c6" fill-opacity="0.75"/>
<circle cx="153.6" cy="992.9" r="1.3" fill="#1f5bb0" fill-opacity="0.96"/>
<circle cx="148.2" cy="997.0" r="1.3" fill="#18407e" fill-opacity="0.70"/>
<circle cx="151.3" cy="1038.6" r="1.1" fill="#1d4f9c" fill-opacity="0.71"/>
<circle cx="135.5" cy="1037.9" r="1.3" fill="#1d4f9c" fill-opacity="0.76"/>
<circle cx="175.0" cy="1023.7" r="1.5" fill="#2a6ac0" fill-opacity="0.76"/>
<circle cx="134.4" cy="1002.1" r="0.6" fill="#1f5bb0" fill-opacity="0.84"/>
<circle cx="165.0" cy="1039.2" r="1.4" fill="#2a78c6" fill-opacity="0.90"/>
<circle cx="136.3" cy="1040.0" r="1.4" fill="#18407e" fill-opacity="0.86"/>
<circle cx="165.1" cy="1015.4" r="0.9" fill="#2a78c6" fill-opacity="0.94"/>
<circle cx="165.1" cy="1003.4" r="0.8" fill="#18407e" fill-opacity="0.95"/>
<circle cx="175.9" cy="1005.9" r="1.2" fill="#3a86cc" fill-opacity="0.93"/>
<circle cx="153.5" cy="1028.3" r="0.7" fill="#2a78c6" fill-opacity="0.66"/>
<circle cx="173.0" cy="1015.8" r="1.5" fill="#1f5bb0" fill-opacity="0.90"/>
<circle cx="139.9" cy="1008.5" r="0.8" fill="#1f5bb0" fill-opacity="0.89"/>
<circle cx="168.0" cy="1033.5" r="0.9" fill="#18407e" fill-opacity="0.99"/>
<circle cx="183.7" cy="1020.7" r="1.4" fill="#18407e" fill-opacity="0.75"/>
<circle cx="185.3" cy="1015.7" r="0.6" fill="#2a78c6" fill-opacity="0.70"/>
<circle cx="156.7" cy="1002.8" r="1.4" fill="#3a86cc" fill-opacity="0.95"/>
<circle cx="167.8" cy="1041.3" r="1.1" fill="#2a6ac0" fill-opacity="0.91"/>
<circle cx="146.9" cy="995.0" r="1.4" fill="#2a78c6" fill-opacity="0.90"/>
<circle cx="140.3" cy="1022.7" r="1.0" fill="#3a86cc" fill-opacity="0.77"/>
<circle cx="182.2" cy="1008.2" r="1.0" fill="#18407e" fill-opacity="0.72"/>
<circle cx="135.2" cy="1002.8" r="1.3" fill="#2a78c6" fill-opacity="0.70"/>
<circle cx="169.8" cy="1042.6" r="0.7" fill="#1f5bb0" fill-opacity="0.98"/>
<circle cx="147.6" cy="1008.9" r="1.4" fill="#2a78c6" fill-opacity="0.77"/>
<circle cx="166.9" cy="1037.7" r="0.8" fill="#2a6ac0" fill-opacity="0.69"/>
<circle cx="130.4" cy="1008.6" r="1.3" fill="#2a78c6" fill-opacity="0.68"/>
<circle cx="183.2" cy="1025.0" r="1.4" fill="#1f5bb0" fill-opacity="0.89"/>
<circle cx="146.6" cy="1009.4" r="1.3" fill="#18407e" fill-opacity="0.95"/>
<circle cx="182.2" cy="1028.6" r="0.7" fill="#1f5bb0" fill-opacity="0.89"/>
<circle cx="149.6" cy="995.6" r="1.3" fill="#1d4f9c" fill-opacity="0.69"/>
<circle cx="130.4" cy="1012.6" r="1.1" fill="#3a86cc" fill-opacity="0.80"/>
<circle cx="167.7" cy="1044.0" r="1.0" fill="#3a86cc" fill-opacity="0.73"/>
<circle cx="141.8" cy="1043.0" r="1.0" fill="#2a78c6" fill-opacity="0.69"/>
<circle cx="162.4" cy="1033.3" r="1.1" fill="#2a6ac0" fill-opacity="0.66"/>
<circle cx="155.4" cy="1007.7" r="1.5" fill="#1d4f9c" fill-opacity="0.98"/>
<circle cx="166.2" cy="993.3" r="0.8" fill="#1d4f9c" fill-opacity="0.87"/>
<circle cx="131.5" cy="1029.2" r="1.3" fill="#2a78c6" fill-opacity="0.90"/>
<circle cx="145.8" cy="1012.7" r="0.7" fill="#2a6ac0" fill-opacity="0.82"/>
<circle cx="169.1" cy="1046.9" r="1.2" fill="#18407e" fill-opacity="0.77"/>
<circle cx="153.8" cy="1023.3" r="0.8" fill="#18407e" fill-opacity="0.70"/>
<circle cx="130.8" cy="1031.8" r="0.9" fill="#2a78c6" fill-opacity="0.78"/>
<circle cx="170.0" cy="998.9" r="1.3" fill="#18407e" fill-opacity="0.98"/>
<circle cx="142.3" cy="1017.0" r="1.1" fill="#3a86cc" fill-opacity="0.85"/>
<circle cx="169.8" cy="996.5" r="0.7" fill="#2a78c6" fill-opacity="0.86"/>
<circle cx="135.0" cy="1005.2" r="0.7" fill="#3a86cc" fill-opacity="0.96"/>
<circle cx="158.7" cy="1012.3" r="1.2" fill="#18407e" fill-opacity="0.71"/>
<circle cx="174.1" cy="1004.8" r="0.9" fill="#2a78c6" fill-opacity="0.82"/>
<circle cx="172.1" cy="1016.6" r="1.5" fill="#3a86cc" fill-opacity="0.97"/>
<circle cx="151.9" cy="1016.7" r="1.5" fill="#3a86cc" fill-opacity="0.68"/>
<circle cx="180.7" cy="1006.0" r="0.9" fill="#2a78c6" fill-opacity="0.98"/>
<circle cx="180.1" cy="1007.4" r="1.5" fill="#2a6ac0" fill-opacity="0.65"/>
<circle cx="155.1" cy="1020.3" r="1.0" fill="#2a6ac0" fill-opacity="0.83"/>
<circle cx="146.7" cy="993.6" r="0.7" fill="#2a6ac0" fill-opacity="0.67"/>
<circle cx="159.1" cy="991.5" r="0.9" fill="#3a86cc" fill-opacity="0.88"/>
<circle cx="147.5" cy="1015.3" r="1.2" fill="#18407e" fill-opacity="0.98"/>
<circle cx="145.7" cy="1017.2" r="1.0" fill="#3a86cc" fill-opacity="0.86"/>
<circle cx="129.8" cy="1028.0" r="1.6" fill="#1d4f9c" fill-opacity="0.71"/>
<circle cx="137.2" cy="1014.9" r="1.2" fill="#18407e" fill-opacity="0.99"/>
<circle cx="143.4" cy="1013.8" r="1.2" fill="#2a78c6" fill-opacity="0.81"/>
<circle cx="150.0" cy="1036.1" r="0.9" fill="#3a86cc" fill-opacity="0.90"/>
<circle cx="154.3" cy="1041.9" r="1.5" fill="#1f5bb0" fill-opacity="0.76"/>
<circle cx="143.9" cy="1044.6" r="1.4" fill="#1f5bb0" fill-opacity="0.80"/>
<circle cx="128.0" cy="1016.6" r="0.6" fill="#2a6ac0" fill-opacity="0.96"/>
<circle cx="138.8" cy="1039.1" r="1.2" fill="#1d4f9c" fill-opacity="0.73"/>
<circle cx="151.9" cy="1039.5" r="0.7" fill="#2a6ac0" fill-opacity="0.68"/>
<circle cx="133.5" cy="1030.8" r="1.3" fill="#18407e" fill-opacity="0.73"/>
<circle cx="169.9" cy="1008.0" r="0.7" fill="#3a86cc" fill-opacity="0.78"/>
<circle cx="131.2" cy="1022.1" r="1.5" fill="#1d4f9c" fill-opacity="0.84"/>
<circle cx="129.4" cy="1016.2" r="1.4" fill="#2a6ac0" fill-opacity="0.75"/>
<circle cx="156.1" cy="1010.1" r="1.4" fill="#1d4f9c" fill-opacity="0.76"/>
<circle cx="137.7" cy="1035.2" r="1.5" fill="#2a6ac0" fill-opacity="0.93"/>
<circle cx="139.7" cy="1019.5" r="0.7" fill="#1d4f9c" fill-opacity="0.80"/>
<circle cx="134.7" cy="1009.0" r="1.2" fill="#1d4f9c" fill-opacity="0.75"/>
<circle cx="139.0" cy="1001.6" r="1.3" fill="#1f5bb0" fill-opacity="0.86"/>
<circle cx="131.1" cy="1017.6" r="1.5" fill="#1d4f9c" fill-opacity="0.80"/>
<circle cx="182.9" cy="1022.4" r="1.3" fill="#3a86cc" fill-opacity="0.81"/>
<circle cx="173.0" cy="1040.2" r="1.0" fill="#3a86cc" fill-opacity="0.84"/>
<circle cx="185.3" cy="1016.0" r="1.1" fill="#18407e" fill-opacity="0.93"/>
<circle cx="155.4" cy="991.5" r="0.9" fill="#18407e" fill-opacity="0.94"/>
<circle cx="185.0" cy="1026.2" r="1.4" fill="#1d4f9c" fill-opacity="0.74"/>
<circle cx="169.0" cy="1044.6" r="0.6" fill="#2a78c6" fill-opacity="0.95"/>
<circle cx="160.4" cy="994.4" r="0.8" fill="#3a86cc" fill-opacity="0.94"/>
<circle cx="177.9" cy="1028.3" r="0.7" fill="#1d4f9c" fill-opacity="0.69"/>
<circle cx="131.9" cy="1024.8" r="1.1" fill="#18407e" fill-opacity="0.86"/>
<circle cx="165.1" cy="992.9" r="0.8" fill="#2a6ac0" fill-opacity="0.83"/>
<circle cx="142.9" cy="1029.9" r="0.7" fill="#3a86cc" fill-opacity="0.88"/>
<circle cx="154.7" cy="1045.1" r="0.7" fill="#3a86cc" fill-opacity="0.97"/>
<circle cx="163.3" cy="1023.4" r="1.3" fill="#2a6ac0" fill-opacity="0.82"/>
<circle cx="140.1" cy="1000.4" r="1.5" fill="#1f5bb0" fill-opacity="0.90"/>
<circle cx="132.8" cy="1032.2" r="1.4" fill="#2a78c6" fill-opacity="0.69"/>
<circle cx="175.2" cy="999.6" r="1.1" fill="#1d4f9c" fill-opacity="0.78"/>
<circle cx="142.8" cy="1003.4" r="0.9" fill="#2a6ac0" fill-opacity="0.74"/>
<circle cx="149.4" cy="997.2" r="1.4" fill="#2a78c6" fill-opacity="0.93"/>
<circle cx="167.7" cy="1015.9" r="1.6" fill="#2a78c6" fill-opacity="0.92"/>
<circle cx="167.0" cy="993.5" r="1.2" fill="#2a6ac0" fill-opacity="0.84"/>
<circle cx="163.8" cy="1024.3" r="1.1" fill="#2a6ac0" fill-opacity="0.88"/>
<circle cx="157.7" cy="1022.9" r="1.4" fill="#2a6ac0" fill-opacity="0.93"/>
<circle cx="176.0" cy="1008.6" r="0.6" fill="#1d4f9c" fill-opacity="0.78"/>
<circle cx="135.5" cy="1004.8" r="1.3" fill="#2a78c6" fill-opacity="0.91"/>
<circle cx="157.8" cy="1047.7" r="1.5" fill="#1f5bb0" fill-opacity="0.77"/>
<circle cx="156.2" cy="1015.3" r="1.1" fill="#18407e" fill-opacity="0.76"/>
<circle cx="136.6" cy="1009.6" r="1.0" fill="#2a78c6" fill-opacity="0.81"/>
<circle cx="150.7" cy="1004.8" r="1.4" fill="#1d4f9c" fill-opacity="0.82"/>
<circle cx="156.7" cy="993.5" r="1.5" fill="#18407e" fill-opacity="0.83"/>
<circle cx="174.6" cy="1031.1" r="1.0" fill="#18407e" fill-opacity="0.68"/>
<circle cx="178.2" cy="1002.2" r="1.3" fill="#1d4f9c" fill-opacity="0.71"/>
<circle cx="143.5" cy="1030.4" r="0.8" fill="#1d4f9c" fill-opacity="0.90"/>
<circle cx="146.9" cy="1037.8" r="0.8" fill="#2a78c6" fill-opacity="0.66"/>
<circle cx="132.4" cy="1032.7" r="1.0" fill="#16346e" fill-opacity="0.9"/>
<circle cx="138.2" cy="1041.2" r="1.8" fill="#16346e" fill-opacity="0.9"/>
<circle cx="139.2" cy="1043.9" r="1.2" fill="#1d4a8c" fill-opacity="0.9"/>
<circle cx="165.9" cy="1048.0" r="0.8" fill="#23407a" fill-opacity="0.9"/>
<circle cx="128.0" cy="1025.6" r="1.6" fill="#23407a" fill-opacity="0.9"/>
<circle cx="130.2" cy="1015.5" r="1.2" fill="#23407a" fill-opacity="0.9"/>
<circle cx="174.5" cy="1044.1" r="1.4" fill="#23407a" fill-opacity="0.9"/>
<circle cx="158.0" cy="1047.9" r="1.5" fill="#23407a" fill-opacity="0.9"/>
<circle cx="175.1" cy="1044.0" r="1.5" fill="#16346e" fill-opacity="0.9"/>
<circle cx="180.5" cy="1036.1" r="1.6" fill="#16346e" fill-opacity="0.9"/>
<circle cx="185.8" cy="1014.9" r="1.6" fill="#1d4a8c" fill-opacity="0.9"/>
<circle cx="168.8" cy="995.4" r="1.7" fill="#23407a" fill-opacity="0.9"/>
<circle cx="131.1" cy="1033.0" r="1.7" fill="#1d4a8c" fill-opacity="0.9"/>
<circle cx="170.4" cy="1046.4" r="1.1" fill="#1d4a8c" fill-opacity="0.9"/>
<circle cx="180.3" cy="1037.0" r="1.7" fill="#23407a" fill-opacity="0.9"/>
<circle cx="156.9" cy="1020.5" r="32" fill="none" stroke="#111" stroke-width="2.2"/>
<rect x="282.0" y="914.9" width="18.3" height="73.1" fill="#f50f0f" stroke="none" stroke-width="1"/>
<rect x="316.8" y="960.1" width="17.9" height="27.9" fill="#1616e4" stroke="none" stroke-width="1"/>
<rect x="351.0" y="914.9" width="18.4" height="73.1" fill="#fb6b18" stroke="none" stroke-width="1"/>
<rect x="385.3" y="950.5" width="18.2" height="37.5" fill="#25c425" stroke="none" stroke-width="1"/>
<circle cx="296.3" cy="904.8" r="2.0" fill="#111"/>
<circle cx="294.2" cy="909.4" r="2.0" fill="#111"/>
<circle cx="285.6" cy="911.2" r="2.0" fill="#111"/>
<circle cx="286.7" cy="914.0" r="2.0" fill="#111"/>
<circle cx="290.1" cy="915.8" r="2.0" fill="#111"/>
<circle cx="292.5" cy="918.5" r="2.0" fill="#111"/>
<circle cx="292.1" cy="920.4" r="2.0" fill="#111"/>
<line x1="291.1" y1="912.1" x2="291.1" y2="917.6" stroke="#111" stroke-width="1.1"/>
<line x1="287.1" y1="912.1" x2="295.1" y2="912.1" stroke="#111" stroke-width="1.1"/>
<line x1="287.1" y1="917.6" x2="295.1" y2="917.6" stroke="#111" stroke-width="1.1"/>
<rect x="318.5" y="950.8" width="4.0" height="4.0" fill="#111"/>
<rect x="326.9" y="953.1" width="4.0" height="4.0" fill="#111"/>
<rect x="322.7" y="955.8" width="4.0" height="4.0" fill="#111"/>
<rect x="325.9" y="958.6" width="4.0" height="4.0" fill="#111"/>
<rect x="323.1" y="960.4" width="4.0" height="4.0" fill="#111"/>
<rect x="320.5" y="962.2" width="4.0" height="4.0" fill="#111"/>
<rect x="330.4" y="963.1" width="4.0" height="4.0" fill="#111"/>
<line x1="325.8" y1="957.4" x2="325.8" y2="962.9" stroke="#111" stroke-width="1.1"/>
<line x1="321.8" y1="957.4" x2="329.8" y2="957.4" stroke="#111" stroke-width="1.1"/>
<line x1="321.8" y1="962.9" x2="329.8" y2="962.9" stroke="#111" stroke-width="1.1"/>
<text x="325.8" y="948.7" font-size="8.5" font-weight="bold" text-anchor="middle" fill="#222">***</text>
<polygon points="361.5,901.1 359.3,905.1 363.7,905.1" fill="#111"/>
<polygon points="358.3,904.3 356.1,908.3 360.5,908.3" fill="#111"/>
<polygon points="360.7,907.0 358.5,911.0 362.9,911.0" fill="#111"/>
<polygon points="353.7,910.2 351.5,914.2 355.9,914.2" fill="#111"/>
<polygon points="364.1,913.4 361.9,917.4 366.3,917.4" fill="#111"/>
<polygon points="365.3,916.1 363.1,920.1 367.5,920.1" fill="#111"/>
<polygon points="356.1,929.8 353.9,933.8 358.3,933.8" fill="#111"/>
<line x1="360.2" y1="911.2" x2="360.2" y2="918.5" stroke="#111" stroke-width="1.1"/>
<line x1="356.2" y1="911.2" x2="364.2" y2="911.2" stroke="#111" stroke-width="1.1"/>
<line x1="356.2" y1="918.5" x2="364.2" y2="918.5" stroke="#111" stroke-width="1.1"/>
<polygon points="400.6,950.2 398.4,946.2 402.8,946.2" fill="#111"/>
<polygon points="390.5,951.1 388.3,947.1 392.7,947.1" fill="#111"/>
<polygon points="399.1,951.6 396.9,947.6 401.3,947.6" fill="#111"/>
<polygon points="394.2,952.9 392.0,948.9 396.4,948.9" fill="#111"/>
<polygon points="397.5,953.8 395.3,949.8 399.7,949.8" fill="#111"/>
<polygon points="391.3,955.7 389.1,951.7 393.5,951.7" fill="#111"/>
<polygon points="386.8,957.0 384.6,953.0 389.0,953.0" fill="#111"/>
<line x1="394.4" y1="948.7" x2="394.4" y2="952.4" stroke="#111" stroke-width="1.1"/>
<line x1="390.4" y1="948.7" x2="398.4" y2="948.7" stroke="#111" stroke-width="1.1"/>
<line x1="390.4" y1="952.4" x2="398.4" y2="952.4" stroke="#111" stroke-width="1.1"/>
<text x="394.4" y="944.1" font-size="8.5" font-weight="bold" text-anchor="middle" fill="#222">***</text>
<line x1="273.4" y1="895.6" x2="273.4" y2="988.7" stroke="#222" stroke-width="1.4"/>
<line x1="272.7" y1="988.0" x2="412.0" y2="988.0" stroke="#222" stroke-width="1.4"/>
<line x1="270.4" y1="988.0" x2="273.4" y2="988.0" stroke="#222" stroke-width="1.4"/>
<text x="268.9" y="991.5" font-size="9.6" font-weight="bold" text-anchor="end" fill="#222">0</text>
<line x1="270.4" y1="965.1" x2="273.4" y2="965.1" stroke="#222" stroke-width="1.4"/>
<text x="268.9" y="968.6" font-size="9.6" font-weight="bold" text-anchor="end" fill="#222">50</text>
<line x1="270.4" y1="942.3" x2="273.4" y2="942.3" stroke="#222" stroke-width="1.4"/>
<text x="268.9" y="945.8" font-size="9.6" font-weight="bold" text-anchor="end" fill="#222">100</text>
<line x1="270.4" y1="919.5" x2="273.4" y2="919.5" stroke="#222" stroke-width="1.4"/>
<text x="268.9" y="922.9" font-size="9.6" font-weight="bold" text-anchor="end" fill="#222">150</text>
<line x1="270.4" y1="896.6" x2="273.4" y2="896.6" stroke="#222" stroke-width="1.4"/>
<text x="268.9" y="900.1" font-size="9.6" font-weight="bold" text-anchor="end" fill="#222">200</text>
<line x1="291.1" y1="988.0" x2="291.1" y2="991.0" stroke="#222" stroke-width="1.4"/>
<text x="292.3" y="996.0" font-size="8.7" font-weight="bold" text-anchor="end" fill="#222" transform="rotate(-46 292.34999999999997 996)">KPC; WT</text>
<line x1="325.8" y1="988.0" x2="325.8" y2="991.0" stroke="#222" stroke-width="1.4"/>
<text x="326.9" y="996.0" font-size="8.7" font-weight="bold" text-anchor="end" fill="#222" transform="rotate(-46 326.95 996)">KPC;K2 cKO</text>
<line x1="360.2" y1="988.0" x2="360.2" y2="991.0" stroke="#222" stroke-width="1.4"/>
<text x="361.4" y="996.0" font-size="8.7" font-weight="bold" text-anchor="end" fill="#222" transform="rotate(-46 361.4 996)">KPC;cKO+K2 WT</text>
<line x1="394.4" y1="988.0" x2="394.4" y2="991.0" stroke="#222" stroke-width="1.4"/>
<text x="395.6" y="996.0" font-size="8.7" font-weight="bold" text-anchor="end" fill="#222" transform="rotate(-46 395.59999999999997 996)">KPC;cKO+K2 &#916;F1</text>
<text x="248.8" y="940.5" font-size="9.7" font-weight="bold" text-anchor="middle" fill="#222" transform="rotate(-90 248.8 940.5)">Number of colonies</text>
<text x="424.0" y="900.5" font-size="14.5" text-anchor="start" fill="#222">J</text>
<clipPath id="pc"><path d="M501.9,930.0 C500.8,927.8 499.8,923.1 499.5,918.9 C499.2,914.7 499.5,908.7 500.3,904.6 C501.1,900.5 502.3,896.9 504.3,894.2 C506.3,891.6 509.4,890.2 512.3,888.7 C515.2,887.2 518.6,886.2 521.8,885.5 C525.0,884.8 528.1,885.0 531.3,884.7 C534.5,884.4 537.2,884.6 540.9,883.9 C544.6,883.2 549.6,881.9 553.6,880.7 C557.6,879.5 561.0,877.8 564.7,876.7 C568.4,875.7 572.9,874.8 575.8,874.4 C578.7,874.0 580.6,873.9 582.2,874.4 C583.8,874.9 585.1,876.0 585.4,877.5 C585.7,879.0 585.4,881.2 583.8,883.1 C582.2,885.0 578.7,886.6 575.8,888.7 C572.9,890.8 569.5,893.5 566.3,895.8 C563.1,898.0 559.4,900.2 556.8,902.2 C554.1,904.2 551.7,905.5 550.4,907.7 C549.1,910.0 550.1,913.6 548.8,915.7 C547.5,917.8 544.9,919.5 542.5,920.5 C540.1,921.5 536.4,921.0 534.5,922.0 C532.6,923.0 532.9,925.3 531.3,926.8 C529.7,928.3 527.9,929.9 525.0,930.8 C522.1,931.7 517.0,932.1 513.8,932.4 C510.6,932.7 507.9,932.8 505.9,932.4 C503.9,932.0 503.0,932.2 501.9,930.0Z"/></clipPath>
<path d="M501.9,930.0 C500.8,927.8 499.8,923.1 499.5,918.9 C499.2,914.7 499.5,908.7 500.3,904.6 C501.1,900.5 502.3,896.9 504.3,894.2 C506.3,891.6 509.4,890.2 512.3,888.7 C515.2,887.2 518.6,886.2 521.8,885.5 C525.0,884.8 528.1,885.0 531.3,884.7 C534.5,884.4 537.2,884.6 540.9,883.9 C544.6,883.2 549.6,881.9 553.6,880.7 C557.6,879.5 561.0,877.8 564.7,876.7 C568.4,875.7 572.9,874.8 575.8,874.4 C578.7,874.0 580.6,873.9 582.2,874.4 C583.8,874.9 585.1,876.0 585.4,877.5 C585.7,879.0 585.4,881.2 583.8,883.1 C582.2,885.0 578.7,886.6 575.8,888.7 C572.9,890.8 569.5,893.5 566.3,895.8 C563.1,898.0 559.4,900.2 556.8,902.2 C554.1,904.2 551.7,905.5 550.4,907.7 C549.1,910.0 550.1,913.6 548.8,915.7 C547.5,917.8 544.9,919.5 542.5,920.5 C540.1,921.5 536.4,921.0 534.5,922.0 C532.6,923.0 532.9,925.3 531.3,926.8 C529.7,928.3 527.9,929.9 525.0,930.8 C522.1,931.7 517.0,932.1 513.8,932.4 C510.6,932.7 507.9,932.8 505.9,932.4 C503.9,932.0 503.0,932.2 501.9,930.0Z" fill="#e8894a"/>
<g clip-path="url(#pc)">
<ellipse cx="578" cy="880" rx="9" ry="6" fill="#dd6a3c" opacity="0.7"/>
<ellipse cx="537.4" cy="906.7" rx="3.863579051242713" ry="2.7450401121596375" fill="#f0a468" fill-opacity="0.8" stroke="#d47a40" stroke-width="0.4"/>
<ellipse cx="514.1" cy="903.7" rx="3.3337888963902436" ry="3.268762996031924" fill="#f3b27a" fill-opacity="0.8" stroke="#d47a40" stroke-width="0.4"/>
<ellipse cx="536.9" cy="880.8" rx="3.1696483154398214" ry="3.424608787219983" fill="#f3b27a" fill-opacity="0.8" stroke="#d47a40" stroke-width="0.4"/>
<ellipse cx="549.8" cy="896.6" rx="3.015390758045469" ry="3.182265408224615" fill="#f0a468" fill-opacity="0.8" stroke="#d47a40" stroke-width="0.4"/>
<ellipse cx="552.2" cy="923.6" rx="2.313696856105268" ry="2.0570444487358124" fill="#f0a468" fill-opacity="0.8" stroke="#d47a40" stroke-width="0.4"/>
<ellipse cx="550.2" cy="920.2" rx="2.7873280345868765" ry="2.945535109548892" fill="#f0a468" fill-opacity="0.8" stroke="#d47a40" stroke-width="0.4"/>
<ellipse cx="543.2" cy="911.7" rx="3.099591673972225" ry="3.0599192510245894" fill="#e59050" fill-opacity="0.8" stroke="#d47a40" stroke-width="0.4"/>
<ellipse cx="555.0" cy="897.2" rx="3.1922819241303575" ry="3.4906963567759464" fill="#f3b27a" fill-opacity="0.8" stroke="#d47a40" stroke-width="0.4"/>
<ellipse cx="559.6" cy="891.5" rx="2.61339862289423" ry="2.4624639157027235" fill="#f3b27a" fill-opacity="0.8" stroke="#d47a40" stroke-width="0.4"/>
<ellipse cx="547.0" cy="878.7" rx="2.3940455892968964" ry="2.4654446290315812" fill="#f3b27a" fill-opacity="0.8" stroke="#d47a40" stroke-width="0.4"/>
<ellipse cx="581.3" cy="924.5" rx="2.200980886700027" ry="2.3355478635673776" fill="#f3b27a" fill-opacity="0.8" stroke="#d47a40" stroke-width="0.4"/>
<ellipse cx="538.9" cy="932.8" rx="2.915363898542706" ry="2.1168613501339166" fill="#f0a468" fill-opacity="0.8" stroke="#d47a40" stroke-width="0.4"/>
<ellipse cx="565.7" cy="888.7" rx="2.3568595570339066" ry="2.532137000741357" fill="#e59050" fill-opacity="0.8" stroke="#d47a40" stroke-width="0.4"/>
<ellipse cx="563.9" cy="879.3" rx="2.643498308007634" ry="2.161674094330728" fill="#f3b27a" fill-opacity="0.8" stroke="#d47a40" stroke-width="0.4"/>
<ellipse cx="538.4" cy="902.2" rx="3.4277393952513577" ry="2.301416748135386" fill="#f0a468" fill-opacity="0.8" stroke="#d47a40" stroke-width="0.4"/>
<ellipse cx="583.7" cy="919.7" rx="2.9546148922941624" ry="2.614002860981321" fill="#e59050" fill-opacity="0.8" stroke="#d47a40" stroke-width="0.4"/>
<ellipse cx="534.6" cy="885.2" rx="2.685630958943077" ry="3.553486489949907" fill="#f6c08a" fill-opacity="0.8" stroke="#d47a40" stroke-width="0.4"/>
<ellipse cx="584.8" cy="873.2" rx="2.5371532493061895" ry="3.593337152652465" fill="#f3b27a" fill-opacity="0.8" stroke="#d47a40" stroke-width="0.4"/>
<ellipse cx="501.7" cy="881.1" rx="2.9947750260300907" ry="2.0153203817926606" fill="#f6c08a" fill-opacity="0.8" stroke="#d47a40" stroke-width="0.4"/>
<ellipse cx="570.2" cy="895.9" rx="2.3337057870791176" ry="2.333973295482812" fill="#f0a468" fill-opacity="0.8" stroke="#d47a40" stroke-width="0.4"/>
<ellipse cx="499.3" cy="894.9" rx="3.319868618367423" ry="2.2035537476436455" fill="#e59050" fill-opacity="0.8" stroke="#d47a40" stroke-width="0.4"/>
<ellipse cx="570.4" cy="880.4" rx="2.8949746543846273" ry="3.0035918015734593" fill="#f6c08a" fill-opacity="0.8" stroke="#d47a40" stroke-width="0.4"/>
<ellipse cx="577.0" cy="922.7" rx="2.6490974195726493" ry="2.303681065541216" fill="#f0a468" fill-opacity="0.8" stroke="#d47a40" stroke-width="0.4"/>
<ellipse cx="557.8" cy="896.1" rx="3.0685291803357124" ry="2.1255964925462867" fill="#f3b27a" fill-opacity="0.8" stroke="#d47a40" stroke-width="0.4"/>
<ellipse cx="507.0" cy="874.4" rx="3.932826720620107" ry="2.3814515082815726" fill="#e59050" fill-opacity="0.8" stroke="#d47a40" stroke-width="0.4"/>
<ellipse cx="520.4" cy="923.1" rx="3.273639351753884" ry="2.4694965543755796" fill="#f0a468" fill-opacity="0.8" stroke="#d47a40" stroke-width="0.4"/>
<ellipse cx="578.8" cy="932.6" rx="2.427520313941787" ry="2.7668798513336936" fill="#f3b27a" fill-opacity="0.8" stroke="#d47a40" stroke-width="0.4"/>
<ellipse cx="522.4" cy="928.9" rx="2.567161982865432" ry="2.0265196689266483" fill="#f6c08a" fill-opacity="0.8" stroke="#d47a40" stroke-width="0.4"/>
<ellipse cx="533.8" cy="887.4" rx="2.28387664792878" ry="2.451139013395135" fill="#f0a468" fill-opacity="0.8" stroke="#d47a40" stroke-width="0.4"/>
<ellipse cx="506.0" cy="880.6" rx="3.010622344649495" ry="2.5295439202419763" fill="#f0a468" fill-opacity="0.8" stroke="#d47a40" stroke-width="0.4"/>
<ellipse cx="549.3" cy="929.3" rx="3.0546272146581295" ry="2.571955283891797" fill="#f6c08a" fill-opacity="0.8" stroke="#d47a40" stroke-width="0.4"/>
<ellipse cx="581.8" cy="873.3" rx="3.3451321388386233" ry="2.771577156391985" fill="#f6c08a" fill-opacity="0.8" stroke="#d47a40" stroke-width="0.4"/>
<ellipse cx="525.7" cy="934.0" rx="2.3354732201662913" ry="2.873752574536513" fill="#f3b27a" fill-opacity="0.8" stroke="#d47a40" stroke-width="0.4"/>
<ellipse cx="576.3" cy="917.7" rx="3.4666431146351995" ry="3.2692266817495748" fill="#f6c08a" fill-opacity="0.8" stroke="#d47a40" stroke-width="0.4"/>
<ellipse cx="528.6" cy="914.5" rx="3.821504690794682" ry="3.393762014595217" fill="#e59050" fill-opacity="0.8" stroke="#d47a40" stroke-width="0.4"/>
<ellipse cx="580.1" cy="873.9" rx="3.099866205685239" ry="2.0232520535583562" fill="#e59050" fill-opacity="0.8" stroke="#d47a40" stroke-width="0.4"/>
<ellipse cx="531.0" cy="872.8" rx="2.330048366966573" ry="2.1450374917912995" fill="#f3b27a" fill-opacity="0.8" stroke="#d47a40" stroke-width="0.4"/>
<ellipse cx="584.4" cy="926.5" rx="3.5107727378179865" ry="2.621498130968231" fill="#e59050" fill-opacity="0.8" stroke="#d47a40" stroke-width="0.4"/>
<ellipse cx="536.3" cy="924.0" rx="2.3508080000702654" ry="3.2003362836185847" fill="#f3b27a" fill-opacity="0.8" stroke="#d47a40" stroke-width="0.4"/>
<ellipse cx="525.0" cy="877.4" rx="2.240123194563381" ry="3.5318332278529967" fill="#f3b27a" fill-opacity="0.8" stroke="#d47a40" stroke-width="0.4"/>
<ellipse cx="541.3" cy="910.1" rx="3.8568356921921305" ry="2.4093283521702107" fill="#f3b27a" fill-opacity="0.8" stroke="#d47a40" stroke-width="0.4"/>
<ellipse cx="530.0" cy="880.9" rx="3.3011645523058917" ry="2.829431392784204" fill="#f6c08a" fill-opacity="0.8" stroke="#d47a40" stroke-width="0.4"/>
<ellipse cx="555.4" cy="899.4" rx="3.8051084565719266" ry="2.523136990127053" fill="#f6c08a" fill-opacity="0.8" stroke="#d47a40" stroke-width="0.4"/>
<ellipse cx="515.3" cy="898.7" rx="3.6507791188235093" ry="3.4627539181744087" fill="#f0a468" fill-opacity="0.8" stroke="#d47a40" stroke-width="0.4"/>
<ellipse cx="531.4" cy="908.2" rx="2.7696763200894488" ry="2.217882122213277" fill="#e59050" fill-opacity="0.8" stroke="#d47a40" stroke-width="0.4"/>
<ellipse cx="528.5" cy="927.5" rx="2.273030391932964" ry="2.102622424960138" fill="#f6c08a" fill-opacity="0.8" stroke="#d47a40" stroke-width="0.4"/>
<ellipse cx="569.5" cy="879.0" rx="3.0484330333418628" ry="3.4811709906349226" fill="#e59050" fill-opacity="0.8" stroke="#d47a40" stroke-width="0.4"/>
<ellipse cx="531.3" cy="904.2" rx="3.4098651376937994" ry="3.1460425357713513" fill="#e59050" fill-opacity="0.8" stroke="#d47a40" stroke-width="0.4"/>
<ellipse cx="525.9" cy="923.4" rx="2.700622683548125" ry="2.972087276476483" fill="#f6c08a" fill-opacity="0.8" stroke="#d47a40" stroke-width="0.4"/>
<ellipse cx="547.6" cy="891.2" rx="3.624724339062498" ry="2.0305824236987298" fill="#f0a468" fill-opacity="0.8" stroke="#d47a40" stroke-width="0.4"/>
<ellipse cx="533.3" cy="883.8" rx="3.584583649735176" ry="2.4262599973369716" fill="#f0a468" fill-opacity="0.8" stroke="#d47a40" stroke-width="0.4"/>
<ellipse cx="567.3" cy="933.0" rx="2.407548709241043" ry="2.174432320951989" fill="#f6c08a" fill-opacity="0.8" stroke="#d47a40" stroke-width="0.4"/>
<ellipse cx="581.4" cy="914.4" rx="2.558814560494632" ry="2.76022768325856" fill="#f0a468" fill-opacity="0.8" stroke="#d47a40" stroke-width="0.4"/>
<ellipse cx="560.1" cy="918.8" rx="3.1627273431830685" ry="2.0578800103556967" fill="#f0a468" fill-opacity="0.8" stroke="#d47a40" stroke-width="0.4"/>
<ellipse cx="521.7" cy="893.4" rx="3.4551608302017587" ry="2.8326767146636964" fill="#f0a468" fill-opacity="0.8" stroke="#d47a40" stroke-width="0.4"/>
<ellipse cx="532.2" cy="921.1" rx="3.8312265739072937" ry="2.139535455828693" fill="#e59050" fill-opacity="0.8" stroke="#d47a40" stroke-width="0.4"/>
<ellipse cx="509.3" cy="900.1" rx="3.3259867161302754" ry="3.455944573959429" fill="#e59050" fill-opacity="0.8" stroke="#d47a40" stroke-width="0.4"/>
<ellipse cx="545.9" cy="912.5" rx="3.10477072174982" ry="3.311119937232232" fill="#f6c08a" fill-opacity="0.8" stroke="#d47a40" stroke-width="0.4"/>
<ellipse cx="538.3" cy="912.4" rx="2.5688098563115025" ry="3.1550970419187347" fill="#f3b27a" fill-opacity="0.8" stroke="#d47a40" stroke-width="0.4"/>
<ellipse cx="516.6" cy="927.8" rx="3.9648876723506765" ry="3.5637736357433507" fill="#f6c08a" fill-opacity="0.8" stroke="#d47a40" stroke-width="0.4"/>
<ellipse cx="520.8" cy="916.5" rx="2.2281665118583494" ry="2.807550800833375" fill="#f3b27a" fill-opacity="0.8" stroke="#d47a40" stroke-width="0.4"/>
<ellipse cx="536.4" cy="906.1" rx="3.5828202910383213" ry="2.7799159874887236" fill="#f3b27a" fill-opacity="0.8" stroke="#d47a40" stroke-width="0.4"/>
<ellipse cx="517.0" cy="925.8" rx="2.972081747947244" ry="2.0561668774234807" fill="#f6c08a" fill-opacity="0.8" stroke="#d47a40" stroke-width="0.4"/>
<ellipse cx="557.7" cy="928.8" rx="3.047011581567049" ry="3.599718243080675" fill="#e59050" fill-opacity="0.8" stroke="#d47a40" stroke-width="0.4"/>
<ellipse cx="580.3" cy="902.5" rx="3.908477874400568" ry="2.1376376123170755" fill="#f0a468" fill-opacity="0.8" stroke="#d47a40" stroke-width="0.4"/>
<ellipse cx="536.2" cy="906.6" rx="3.6960874491327833" ry="2.898449857698335" fill="#f0a468" fill-opacity="0.8" stroke="#d47a40" stroke-width="0.4"/>
<ellipse cx="543.5" cy="924.3" rx="3.207947959465713" ry="2.498716100112184" fill="#e59050" fill-opacity="0.8" stroke="#d47a40" stroke-width="0.4"/>
<ellipse cx="581.1" cy="925.9" rx="3.2969821972759905" ry="2.487129638800278" fill="#f0a468" fill-opacity="0.8" stroke="#d47a40" stroke-width="0.4"/>
<ellipse cx="582.3" cy="904.5" rx="3.231380344150705" ry="2.3215475608239595" fill="#f3b27a" fill-opacity="0.8" stroke="#d47a40" stroke-width="0.4"/>
<ellipse cx="541.8" cy="909.5" rx="2.249959932036537" ry="3.5510477786535373" fill="#e59050" fill-opacity="0.8" stroke="#d47a40" stroke-width="0.4"/>
</g>
<path d="M503.5,931.6 C505.2,929.8 511.5,924.8 513.8,920.5 C516.0,916.2 514.6,910.2 517.0,906.0 C519.4,901.8 524.0,897.1 528.2,895.0 C532.5,892.9 537.7,894.4 542.5,893.4 C547.3,892.4 551.8,890.8 556.8,888.7 C561.8,886.6 570.1,882.0 572.7,880.7" fill="none" stroke="#9a4424" stroke-width="1.5"/>
<ellipse cx="536.0" cy="909.0" rx="2.9" ry="2.9" fill="#eab4b8" fill-opacity="1" stroke="#a8707a" stroke-width="0.5"/>
<ellipse cx="541.5" cy="907.0" rx="2.9" ry="2.9" fill="#eab4b8" fill-opacity="1" stroke="#a8707a" stroke-width="0.5"/>
<ellipse cx="546.5" cy="909.0" rx="2.9" ry="2.9" fill="#e8aab0" fill-opacity="1" stroke="#a8707a" stroke-width="0.5"/>
<ellipse cx="534.5" cy="915.0" rx="2.9" ry="2.9" fill="#e8aab0" fill-opacity="1" stroke="#a8707a" stroke-width="0.5"/>
<ellipse cx="540.0" cy="914.5" rx="2.9" ry="2.9" fill="#eab4b8" fill-opacity="1" stroke="#a8707a" stroke-width="0.5"/>
<ellipse cx="545.5" cy="915.0" rx="2.9" ry="2.9" fill="#e6a8ae" fill-opacity="1" stroke="#a8707a" stroke-width="0.5"/>
<ellipse cx="539.0" cy="920.0" rx="2.9" ry="2.9" fill="#c07080" fill-opacity="1" stroke="#a8707a" stroke-width="0.5"/>
<ellipse cx="545.0" cy="920.5" rx="2.9" ry="2.9" fill="#b06070" fill-opacity="1" stroke="#a8707a" stroke-width="0.5"/>
<ellipse cx="550.0" cy="913.0" rx="2.9" ry="2.9" fill="#a05060" fill-opacity="1" stroke="#a8707a" stroke-width="0.5"/>
<text x="553.5" y="917.0" font-size="5" text-anchor="start" fill="#222">Tumor cells</text>
<line x1="539.3" y1="922.8" x2="498.8" y2="969.8" stroke="#333" stroke-width="1.3" stroke-dasharray="4,3"/>
<line x1="549.6" y1="922.8" x2="589.3" y2="967.8" stroke="#333" stroke-width="1.3" stroke-dasharray="4,3"/>
<path d="M463.6,961.6 C466.1,960.9 469.3,960.8 472.8,961.0 C476.3,961.2 480.7,961.8 484.4,962.7 C488.1,963.6 492.3,964.8 495.0,966.2 C497.7,967.7 498.1,970.0 500.8,971.4 C503.5,972.8 508.3,973.9 511.2,974.9 C514.1,975.9 516.3,976.2 518.2,977.2 C520.1,978.2 521.5,979.8 522.8,981.2 C524.1,982.6 524.3,984.4 526.2,985.8 C528.1,987.1 531.6,988.3 534.3,989.3 C537.0,990.3 540.3,990.6 542.4,991.6 C544.5,992.6 546.0,993.4 547.0,995.1 C548.0,996.8 548.2,999.3 548.2,1002.0 C548.2,1004.7 547.4,1008.3 547.0,1011.3 C546.6,1014.3 545.9,1017.4 545.9,1020.0 C545.9,1022.6 546.2,1024.4 547.0,1026.9 C547.8,1029.4 549.7,1032.3 550.5,1035.0 C551.3,1037.7 551.9,1040.0 551.7,1043.1 C551.5,1046.2 550.6,1050.4 549.4,1053.5 C548.2,1056.6 547.0,1059.1 544.7,1061.6 C542.4,1064.1 538.6,1066.5 535.5,1068.6 C532.4,1070.7 529.1,1072.6 526.2,1074.3 C523.3,1076.0 521.1,1077.3 518.2,1079.0 C515.3,1080.7 512.0,1083.0 508.9,1084.7 C505.8,1086.4 503.0,1088.1 499.7,1089.4 C496.4,1090.7 492.5,1091.8 489.2,1092.3 C485.9,1092.8 483.4,1093.0 479.7,1092.5 C476.0,1092.0 470.9,1090.7 467.0,1089.4 C463.1,1088.1 459.7,1086.4 456.6,1084.7 C453.5,1083.0 451.0,1081.3 448.5,1079.0 C446.0,1076.7 443.5,1073.6 441.6,1070.9 C439.7,1068.2 438.7,1065.5 437.0,1062.8 C435.3,1060.1 433.3,1057.4 431.2,1054.7 C429.1,1052.0 426.0,1049.1 424.2,1046.6 C422.4,1044.1 420.6,1042.0 420.2,1039.7 C419.8,1037.4 420.6,1034.8 421.9,1032.7 C423.1,1030.6 425.8,1029.0 427.7,1026.9 C429.6,1024.8 432.1,1021.8 433.5,1020.0 C434.9,1018.2 436.1,1017.5 436.4,1015.9 C436.7,1014.2 436.1,1012.0 435.2,1010.1 C434.3,1008.2 432.3,1006.2 431.2,1004.3 C430.1,1002.4 428.7,1000.5 428.3,998.6 C427.9,996.7 428.2,994.5 428.9,992.8 C429.6,991.1 430.4,989.4 432.3,988.2 C434.2,987.0 437.7,986.4 440.4,985.8 C443.1,985.2 446.4,985.7 448.5,984.7 C450.6,983.7 452.2,981.9 453.2,980.0 C454.2,978.1 453.5,975.6 454.3,973.1 C455.1,970.6 456.2,966.9 457.8,965.0 C459.4,963.1 461.1,962.3 463.6,961.6Z" fill="#f8d3b8" stroke="#c89a80" stroke-width="1.3"/>
<circle cx="459.8" cy="1047.5" r="23.6" fill="#dea286"/>
<path d="M600.6,958.1 C603.1,957.9 606.3,958.4 609.8,959.2 C613.3,960.0 617.2,961.0 621.4,962.7 C625.6,964.5 630.9,968.0 635.1,969.7 C639.3,971.4 643.6,972.0 646.7,973.1 C649.8,974.2 651.9,975.2 653.6,976.6 C655.3,978.0 655.8,979.9 657.1,981.2 C658.5,982.6 659.6,983.7 661.7,984.7 C663.8,985.7 667.3,986.2 669.8,987.0 C672.3,987.8 674.9,988.1 676.7,989.3 C678.5,990.5 680.0,991.9 680.8,994.0 C681.6,996.1 681.5,999.1 681.4,1002.0 C681.3,1004.9 680.6,1008.4 680.2,1011.3 C679.9,1014.2 679.3,1017.1 679.3,1019.4 C679.3,1021.7 679.7,1023.1 680.2,1025.0 C680.7,1026.9 681.8,1028.7 682.5,1030.8 C683.2,1032.9 684.1,1035.0 684.3,1037.7 C684.5,1040.4 684.4,1044.1 683.7,1047.0 C683.0,1049.9 681.9,1052.6 680.2,1055.1 C678.5,1057.6 676.4,1059.7 673.3,1062.0 C670.2,1064.3 665.6,1066.7 661.7,1069.0 C657.8,1071.3 654.2,1073.6 650.1,1075.9 C646.0,1078.2 641.8,1080.9 637.4,1082.8 C633.0,1084.7 627.8,1086.4 623.6,1087.5 C619.4,1088.6 616.2,1089.8 612.0,1089.5 C607.8,1089.2 602.4,1087.7 598.2,1085.9 C594.0,1084.2 590.0,1081.5 586.7,1079.0 C583.4,1076.5 581.1,1073.8 578.6,1070.9 C576.1,1068.0 573.8,1064.5 571.7,1061.6 C569.6,1058.7 568.0,1056.0 565.9,1053.5 C563.8,1051.0 560.8,1048.9 558.9,1046.6 C557.0,1044.3 555.2,1042.0 554.3,1039.7 C553.4,1037.4 552.9,1034.8 553.7,1032.7 C554.5,1030.6 556.9,1028.7 558.9,1026.9 C560.9,1025.1 564.2,1023.5 565.9,1021.7 C567.6,1019.9 568.9,1017.8 569.3,1015.9 C569.7,1014.0 569.2,1012.2 568.2,1010.1 C567.2,1008.0 564.8,1005.5 563.6,1003.2 C562.4,1000.9 561.3,998.3 561.2,996.2 C561.1,994.1 561.8,992.2 563.0,990.5 C564.2,988.8 565.8,987.0 568.2,985.8 C570.6,984.5 574.5,984.0 577.4,983.0 C580.3,982.0 583.6,981.5 585.5,980.0 C587.4,978.5 588.0,976.6 589.0,974.3 C590.0,972.0 590.3,968.5 591.3,966.2 C592.3,963.9 593.2,961.8 594.8,960.4 C596.3,959.0 598.1,958.3 600.6,958.1Z" fill="#f1d0d2" stroke="#b07c84" stroke-width="1.4"/>
<circle cx="592.8" cy="1038.4" r="23.4" fill="#eba37e"/>
<path d="M460.5,1013.4 C462.9,1013.4 469.6,1013.3 475.0,1013.2 C480.4,1013.1 487.7,1013.4 492.7,1013.0 C497.7,1012.6 500.8,1011.8 505.0,1011.0 C509.2,1010.2 514.4,1010.3 518.0,1008.5 C521.6,1006.7 525.8,1003.7 526.8,1000.3 C527.8,996.9 526.0,990.8 524.0,988.0 C522.0,985.2 518.7,984.2 514.7,983.5 C510.7,982.8 504.3,983.5 500.0,983.5 C495.7,983.5 490.6,983.5 488.7,983.5" fill="none" stroke="#c8b6c6" stroke-width="1.5" stroke-dasharray="1.2,0.9"/>
<path d="M489,986 Q493.0,989.5 493,993" fill="none" stroke="#9a86b8" stroke-width="1"/>
<path d="M527,1003 Q531.5,1009.0 532,1015" fill="none" stroke="#9a86b8" stroke-width="1"/>
<path d="M491,1015 Q484.0,1018.5 473,1022" fill="none" stroke="#9a86b8" stroke-width="1"/>
<ellipse cx="457.2" cy="988.2" rx="5.5" ry="3.5" fill="#e7a987" fill-opacity="1" stroke="none" stroke-width="0.6"/>
<ellipse cx="461.8" cy="993.4" rx="5.5" ry="3" fill="#3355c8" fill-opacity="1" stroke="none" stroke-width="0.6"/>
<ellipse cx="469.3" cy="980.6" rx="8.7" ry="4.6" fill="#e3100e" fill-opacity="1" stroke="none" stroke-width="0.6" transform="rotate(-15 469.3 980.6)"/>
<ellipse cx="472.2" cy="988.2" rx="9.5" ry="4" fill="#34c034" fill-opacity="1" stroke="none" stroke-width="0.6" transform="rotate(-15 472.2 988.2)"/>
<text x="469.3" y="982.0" font-size="3" text-anchor="middle" fill="#500">Kindlin-2</text>
<text x="472.2" y="989.5" font-size="3" text-anchor="middle" fill="#030">DDX3X</text>
<circle cx="488.7" cy="983.5" r="4.2" fill="#9cc8e0" opacity="0.95"/>
<circle cx="526.8" cy="1000.3" r="5" fill="#9cc8e0" opacity="0.95"/>
<circle cx="492.7" cy="1013" r="4.8" fill="#9cc8e0" opacity="0.95"/>
<path d="M482.3,984 L482.3,977.2 L494.5,977.2" fill="none" stroke="#e02020" stroke-width="0.9"/>
<polygon points="493.5,975.5 497,977.2 493.5,978.9" fill="#e02020"/>
<text x="488.5" y="976.0" font-size="4" font-weight="bold" text-anchor="middle" fill="#222">ON</text>
<text x="503.0" y="1002.6" font-size="5.3" text-anchor="middle" fill="#2a2a2a">c-myc mRNA</text>
<text x="453.3" y="1015.2" font-size="4.3" font-weight="bold" text-anchor="middle" fill="#333">AAAAA</text>
<line x1="493.3" y1="1018.0" x2="493.3" y2="1024.5" stroke="#111" stroke-width="1.6"/>
<polygon points="490.8,1023.5 495.8,1023.5 493.3,1027.5" fill="#111"/>
<ellipse cx="492.7" cy="1030.4" rx="5.3" ry="3.3" fill="#f2ee20" fill-opacity="1" stroke="none" stroke-width="0.6"/>
<text x="492.7" y="1031.5" font-size="3" text-anchor="middle" fill="#554">c-Myc</text>
<ellipse cx="506.0" cy="1040.2" rx="5.3" ry="3.3" fill="#f2ee20" fill-opacity="1" stroke="none" stroke-width="0.6"/>
<text x="506.0" y="1041.3" font-size="3" text-anchor="middle" fill="#554">c-Myc</text>
<ellipse cx="489.8" cy="1045.4" rx="5.3" ry="3.3" fill="#f2ee20" fill-opacity="1" stroke="none" stroke-width="0.6"/>
<text x="489.8" y="1046.5" font-size="3" text-anchor="middle" fill="#554">c-Myc</text>
<ellipse cx="449.7" cy="1040.2" rx="5.3" ry="3.3" fill="#f2ee20" fill-opacity="1" stroke="none" stroke-width="0.6"/>
<text x="449.7" y="1041.3" font-size="3" text-anchor="middle" fill="#554">c-Myc</text>
<ellipse cx="449.1" cy="1053.0" rx="5.3" ry="3.3" fill="#f2ee20" fill-opacity="1" stroke="none" stroke-width="0.6"/>
<text x="449.1" y="1054.1" font-size="3" text-anchor="middle" fill="#554">c-Myc</text>
<line x1="502.0" y1="1033.0" x2="502.0" y2="1027.0" stroke="#d03030" stroke-width="0.8"/>
<text x="461.2" y="1032.2" font-size="5.5" font-weight="bold" text-anchor="middle" fill="#3a2a2a">nucleus</text>
<path d="M442,1044.9 q1,-2.4 2,0 t2,0 q1,-2.4 2,0 t2,0 q1,-2.4 2,0 t2,0 q1,-2.4 2,0 t2,0 q1,-2.4 2,0 t2,0 q1,-2.4 2,0 t2,0" fill="none" stroke="#5a3a5a" stroke-width="1"/>
<path d="M442,1057.6 q1,-2.4 2,0 t2,0 q1,-2.4 2,0 t2,0 q1,-2.4 2,0 t2,0 q1,-2.4 2,0 t2,0 q1,-2.4 2,0 t2,0 q1,-2.4 2,0 t2,0" fill="none" stroke="#5a3a5a" stroke-width="1"/>
<path d="M486.7,1039.7 Q478,1042 470.5,1047.5" fill="none" stroke="#6a4034" stroke-width="0.9"/>
<path d="M467.6,1065.7 Q476,1071 485.5,1071.4" fill="none" stroke="#6a4034" stroke-width="0.9"/>
<ellipse cx="506.8" cy="1052.6" rx="6" ry="3.8" fill="#2c5e8e" fill-opacity="1" stroke="#7090c0" stroke-width="0.6"/>
<text x="506.8" y="1053.6" font-size="2.8" text-anchor="middle" fill="#cde">HK2</text>
<ellipse cx="499.0" cy="1060.2" rx="6" ry="3.8" fill="#2c5e8e" fill-opacity="1" stroke="#7090c0" stroke-width="0.6"/>
<text x="499.0" y="1061.2" font-size="2.8" text-anchor="middle" fill="#cde">HK2</text>
<ellipse cx="514.1" cy="1061.0" rx="6" ry="3.8" fill="#2c5e8e" fill-opacity="1" stroke="#7090c0" stroke-width="0.6"/>
<text x="514.1" y="1062.0" font-size="2.8" text-anchor="middle" fill="#cde">HK2</text>
<text x="497.3" y="1069.8" font-size="3.6" font-weight="bold" text-anchor="middle" fill="#6a88c8">GLUT1</text>
<text x="515.3" y="1071.7" font-size="3.6" font-weight="bold" text-anchor="middle" fill="#6a88c8">GLUT1</text>
<text x="504.9" y="1077.8" font-size="3.6" font-weight="bold" text-anchor="middle" fill="#6a88c8">GLUT1</text>
<line x1="523.4" y1="1068.6" x2="523.4" y2="1061.0" stroke="#d03030" stroke-width="0.8"/>
<text x="532.0" y="1035.6" font-size="5.3" text-anchor="middle" fill="#2a2a2a">Glycolysis</text>
<text x="534.6" y="1041.4" font-size="5.3" text-anchor="middle" fill="#2a2a2a">Proliferation</text>
<path d="M525.7,1056.4 Q532,1051 535.5,1044.3" fill="none" stroke="#444" stroke-width="0.8"/>
<path d="M599.0,1008.5 C601.2,1008.2 606.5,1007.1 612.0,1006.6 C617.5,1006.1 625.2,1005.9 632.0,1005.5 C638.8,1005.1 648.1,1006.6 652.5,1004.3 C656.9,1002.0 659.2,996.0 658.2,991.6 C657.2,987.2 651.4,980.1 646.7,977.7 C642.0,975.3 635.8,977.0 630.0,977.0 C624.2,977.0 617.0,977.5 612.0,978.0 C607.0,978.5 602.0,979.7 600.0,980.0" fill="none" stroke="#cdb5c5" stroke-width="1.5" stroke-dasharray="1.2,0.9"/>
<ellipse cx="579.7" cy="989.3" rx="4.5" ry="3" fill="#f08a3a" fill-opacity="1" stroke="none" stroke-width="0.6"/>
<ellipse cx="585.5" cy="994.0" rx="5" ry="3" fill="#3050c8" fill-opacity="1" stroke="none" stroke-width="0.6"/>
<ellipse cx="580.5" cy="991.0" rx="4.5" ry="2.5" fill="#e0a080" fill-opacity="0.6" stroke="none" stroke-width="0.6"/>
<circle cx="591.3" cy="987" r="4.5" fill="#a8d4e8"/>
<circle cx="592.5" cy="978" r="2.2" fill="#dfeef8"/>
<ellipse cx="602.9" cy="998.0" rx="10.4" ry="5.2" fill="#3cba3c" fill-opacity="1" stroke="none" stroke-width="0.6" transform="rotate(-10 602.9 998)"/>
<text x="602.9" y="999.5" font-size="3.5" text-anchor="middle" fill="#030">DDX3X</text>
<text x="601.8" y="977.6" font-size="4.3" font-weight="bold" text-anchor="middle" fill="#222">OFF</text>
<path d="M598.5,979 L598.5,984 M598.5,981.5 L609.5,981.5 M609.5,979 L609.5,984" fill="none" stroke="#e02828" stroke-width="0.9"/>
<ellipse cx="632.8" cy="986.5" rx="6" ry="4" fill="#e88080" fill-opacity="0.6" stroke="none" stroke-width="0.6"/>
<line x1="627.0" y1="982.0" x2="638.5" y2="991.0" stroke="#d02828" stroke-width="0.9"/>
<line x1="638.5" y1="982.0" x2="627.0" y2="991.0" stroke="#d02828" stroke-width="0.9"/>
<text x="633.0" y="1002.3" font-size="5.3" text-anchor="middle" fill="#2a2a2a">c-myc mRNA</text>
<text x="592.2" y="1011.4" font-size="4.3" font-weight="bold" text-anchor="middle" fill="#333">AAAAA</text>
<line x1="632.8" y1="1010.0" x2="632.8" y2="1019.4" stroke="#8a8a8a" stroke-width="0.9"/>
<text x="592.5" y="1020.6" font-size="5.5" font-weight="bold" text-anchor="middle" fill="#3a2a2a">nucleus</text>
<ellipse cx="632.8" cy="1026.0" rx="5.5" ry="3.8" fill="#f4f07a" fill-opacity="1" stroke="none" stroke-width="0.6"/>
<line x1="642.0" y1="1021.6" x2="642.0" y2="1029.7" stroke="#d03030" stroke-width="0.9"/>
<path d="M627,1020.5 L612,1020.5 Q604,1023 599.4,1029.2" fill="none" stroke="#333" stroke-width="1.1" stroke-dasharray="2.2,1.8"/>
<path d="M577,1035.0 q1.1,-2.4 2.2,0 t2.2,0 q1.1,-2.4 2.2,0 t2.2,0 q1.1,-2.4 2.2,0 t2.2,0 q1.1,-2.4 2.2,0 t2.2,0 q1.1,-2.4 2.2,0 t2.2,0 q1.1,-2.4 2.2,0 t2.2,0" fill="none" stroke="#5a3030" stroke-width="1"/>
<path d="M577,1047.2 q1.1,-2.4 2.2,0 t2.2,0 q1.1,-2.4 2.2,0 t2.2,0 q1.1,-2.4 2.2,0 t2.2,0 q1.1,-2.4 2.2,0 t2.2,0 q1.1,-2.4 2.2,0 t2.2,0 q1.1,-2.4 2.2,0 t2.2,0" fill="none" stroke="#5a3030" stroke-width="1"/>
<path d="M600.6,1051.2 Q612,1056 628.3,1051.2" fill="none" stroke="#444" stroke-width="0.9"/>
<ellipse cx="638.6" cy="1044.7" rx="6" ry="4.2" fill="#2a6494" fill-opacity="1" stroke="#80a8d0" stroke-width="0.6"/>
<text x="635.0" y="1055.5" font-size="3.6" font-weight="bold" text-anchor="middle" fill="#4a78b8">GLUT1</text>
<line x1="646.1" y1="1045.8" x2="646.1" y2="1053.4" stroke="#d03030" stroke-width="0.9"/>
<text x="665.5" y="1025.2" font-size="5.3" text-anchor="middle" fill="#2a2a2a">Glycolysis</text>
<text x="668.5" y="1031.0" font-size="5.3" text-anchor="middle" fill="#2a2a2a">Proliferation</text>
<path d="M662.9,1034.9 Q660,1045 649,1049.3" fill="none" stroke="#444" stroke-width="0.8"/>
</svg>
</body></html>
